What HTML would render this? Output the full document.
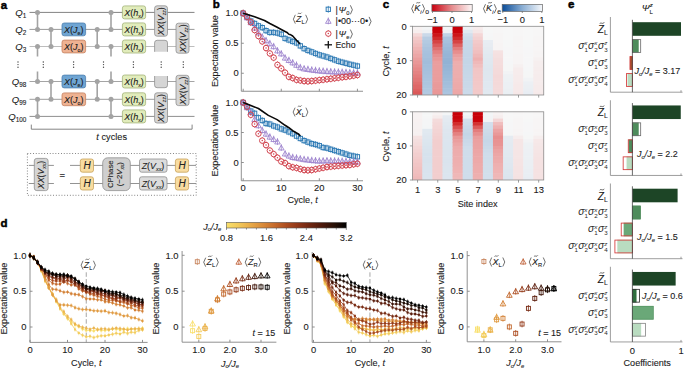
<!DOCTYPE html>
<html><head><meta charset="utf-8"><style>
html,body{margin:0;padding:0;background:#fff;}
svg{display:block;}
text{font-family:"Liberation Sans", sans-serif;stroke:#222;stroke-width:0.1px;}
</style></head><body>
<svg width="685" height="368" viewBox="0 0 685 368">
<rect width="685" height="368" fill="#fff"/>
<text x="0.70" y="8.50" font-size="11.5" text-anchor="start" fill="#000" font-weight="bold" style="stroke:#000;stroke-width:0.45px">a</text>
<text x="212.70" y="7.80" font-size="11.5" text-anchor="start" fill="#000" font-weight="bold" style="stroke:#000;stroke-width:0.45px">b</text>
<text x="382.80" y="7.60" font-size="11.5" text-anchor="start" fill="#000" font-weight="bold" style="stroke:#000;stroke-width:0.45px">c</text>
<text x="0.40" y="227.00" font-size="11.5" text-anchor="start" fill="#000" font-weight="bold" style="stroke:#000;stroke-width:0.45px">d</text>
<text x="568.00" y="7.60" font-size="11.5" text-anchor="start" fill="#000" font-weight="bold" style="stroke:#000;stroke-width:0.45px">e</text>
<line x1="29.50" y1="12.40" x2="194.50" y2="12.40" stroke="#828282" stroke-width="1" />
<line x1="29.50" y1="29.40" x2="194.50" y2="29.40" stroke="#9a9a9a" stroke-width="1" />
<line x1="29.50" y1="46.50" x2="194.50" y2="46.50" stroke="#bdbdbd" stroke-width="1" />
<line x1="29.50" y1="81.50" x2="194.50" y2="81.50" stroke="#a5a5a5" stroke-width="1" />
<line x1="29.50" y1="99.30" x2="194.50" y2="99.30" stroke="#9e9e9e" stroke-width="1" />
<line x1="29.50" y1="116.40" x2="194.50" y2="116.40" stroke="#8e8e8e" stroke-width="1" />
<text x="26.3" y="15.70" font-size="9.6" text-anchor="end" fill="#222"><tspan font-style="italic">Q</tspan><tspan font-size="6.4" dy="2.4">1</tspan></text>
<text x="26.3" y="32.70" font-size="9.6" text-anchor="end" fill="#222"><tspan font-style="italic">Q</tspan><tspan font-size="6.4" dy="2.4">2</tspan></text>
<text x="26.3" y="49.80" font-size="9.6" text-anchor="end" fill="#222"><tspan font-style="italic">Q</tspan><tspan font-size="6.4" dy="2.4">3</tspan></text>
<text x="26.3" y="84.80" font-size="9.6" text-anchor="end" fill="#222"><tspan font-style="italic">Q</tspan><tspan font-size="6.4" dy="2.4">98</tspan></text>
<text x="26.3" y="102.60" font-size="9.6" text-anchor="end" fill="#222"><tspan font-style="italic">Q</tspan><tspan font-size="6.4" dy="2.4">99</tspan></text>
<text x="26.3" y="119.70" font-size="9.6" text-anchor="end" fill="#222"><tspan font-style="italic">Q</tspan><tspan font-size="6.4" dy="2.4">100</tspan></text>
<line x1="37.50" y1="12.40" x2="37.50" y2="29.40" stroke="#a3a3a3" stroke-width="1.6" />
<circle cx="37.50" cy="12.40" r="2.5" fill="#a3a3a3" stroke="none" stroke-width="1"/>
<circle cx="37.50" cy="29.40" r="2.5" fill="#a3a3a3" stroke="none" stroke-width="1"/>
<line x1="37.50" y1="46.50" x2="37.50" y2="56.50" stroke="#a3a3a3" stroke-width="1.6" />
<circle cx="37.50" cy="46.50" r="2.5" fill="#a3a3a3" stroke="none" stroke-width="1"/>
<line x1="37.50" y1="81.50" x2="37.50" y2="71.50" stroke="#a3a3a3" stroke-width="1.6" />
<circle cx="37.50" cy="81.50" r="2.5" fill="#a3a3a3" stroke="none" stroke-width="1"/>
<line x1="37.50" y1="99.30" x2="37.50" y2="116.40" stroke="#a3a3a3" stroke-width="1.6" />
<circle cx="37.50" cy="99.30" r="2.5" fill="#a3a3a3" stroke="none" stroke-width="1"/>
<circle cx="37.50" cy="116.40" r="2.5" fill="#a3a3a3" stroke="none" stroke-width="1"/>
<line x1="111.00" y1="12.40" x2="111.00" y2="29.40" stroke="#a3a3a3" stroke-width="1.6" />
<circle cx="111.00" cy="12.40" r="2.5" fill="#a3a3a3" stroke="none" stroke-width="1"/>
<circle cx="111.00" cy="29.40" r="2.5" fill="#a3a3a3" stroke="none" stroke-width="1"/>
<line x1="111.00" y1="46.50" x2="111.00" y2="56.50" stroke="#a3a3a3" stroke-width="1.6" />
<circle cx="111.00" cy="46.50" r="2.5" fill="#a3a3a3" stroke="none" stroke-width="1"/>
<line x1="111.00" y1="81.50" x2="111.00" y2="71.50" stroke="#a3a3a3" stroke-width="1.6" />
<circle cx="111.00" cy="81.50" r="2.5" fill="#a3a3a3" stroke="none" stroke-width="1"/>
<line x1="111.00" y1="99.30" x2="111.00" y2="116.40" stroke="#a3a3a3" stroke-width="1.6" />
<circle cx="111.00" cy="99.30" r="2.5" fill="#a3a3a3" stroke="none" stroke-width="1"/>
<circle cx="111.00" cy="116.40" r="2.5" fill="#a3a3a3" stroke="none" stroke-width="1"/>
<line x1="51.00" y1="29.40" x2="51.00" y2="46.50" stroke="#a3a3a3" stroke-width="1.6" />
<circle cx="51.00" cy="29.40" r="2.5" fill="#a3a3a3" stroke="none" stroke-width="1"/>
<circle cx="51.00" cy="46.50" r="2.5" fill="#a3a3a3" stroke="none" stroke-width="1"/>
<line x1="51.00" y1="81.50" x2="51.00" y2="99.30" stroke="#a3a3a3" stroke-width="1.6" />
<circle cx="51.00" cy="81.50" r="2.5" fill="#a3a3a3" stroke="none" stroke-width="1"/>
<circle cx="51.00" cy="99.30" r="2.5" fill="#a3a3a3" stroke="none" stroke-width="1"/>
<line x1="97.20" y1="29.40" x2="97.20" y2="46.50" stroke="#a3a3a3" stroke-width="1.6" />
<circle cx="97.20" cy="29.40" r="2.5" fill="#a3a3a3" stroke="none" stroke-width="1"/>
<circle cx="97.20" cy="46.50" r="2.5" fill="#a3a3a3" stroke="none" stroke-width="1"/>
<line x1="97.20" y1="81.50" x2="97.20" y2="99.30" stroke="#a3a3a3" stroke-width="1.6" />
<circle cx="97.20" cy="81.50" r="2.5" fill="#a3a3a3" stroke="none" stroke-width="1"/>
<circle cx="97.20" cy="99.30" r="2.5" fill="#a3a3a3" stroke="none" stroke-width="1"/>
<rect x="62.00" y="23.00" width="23.60" height="12.80" fill="#6fa5d3" stroke="#4d7fae" stroke-width="0.8" rx="2.2" />
<text x="73.80" y="32.60" font-size="9.0" text-anchor="middle" fill="#1a1a1a"><tspan font-style="italic">X</tspan>(<tspan font-style="italic">J</tspan><tspan font-size="5.40" dy="2.0">e</tspan><tspan dy="-2.0">)</tspan></text>
<rect x="62.00" y="40.10" width="23.60" height="12.80" fill="#eeb292" stroke="#c5805f" stroke-width="0.8" rx="2.2" />
<text x="73.80" y="49.70" font-size="9.0" text-anchor="middle" fill="#1a1a1a"><tspan font-style="italic">X</tspan>(<tspan font-style="italic">J</tspan><tspan font-size="5.40" dy="2.0">o</tspan><tspan dy="-2.0">)</tspan></text>
<rect x="62.00" y="75.10" width="23.60" height="12.80" fill="#6fa5d3" stroke="#4d7fae" stroke-width="0.8" rx="2.2" />
<text x="73.80" y="84.70" font-size="9.0" text-anchor="middle" fill="#1a1a1a"><tspan font-style="italic">X</tspan>(<tspan font-style="italic">J</tspan><tspan font-size="5.40" dy="2.0">e</tspan><tspan dy="-2.0">)</tspan></text>
<rect x="62.00" y="92.90" width="23.60" height="12.80" fill="#eeb292" stroke="#c5805f" stroke-width="0.8" rx="2.2" />
<text x="73.80" y="102.50" font-size="9.0" text-anchor="middle" fill="#1a1a1a"><tspan font-style="italic">X</tspan>(<tspan font-style="italic">J</tspan><tspan font-size="5.40" dy="2.0">o</tspan><tspan dy="-2.0">)</tspan></text>
<rect x="122.40" y="5.90" width="23.20" height="13.00" fill="#e1ecbb" stroke="#a3b47a" stroke-width="0.8" rx="2.2" />
<text x="134.00" y="15.60" font-size="9.0" text-anchor="middle" fill="#1a1a1a"><tspan font-style="italic">X</tspan>(<tspan font-style="italic">h</tspan><tspan font-size="5.40" dy="2.0">x</tspan><tspan dy="-2.0">)</tspan></text>
<rect x="122.40" y="22.90" width="23.20" height="13.00" fill="#e1ecbb" stroke="#a3b47a" stroke-width="0.8" rx="2.2" />
<text x="134.00" y="32.60" font-size="9.0" text-anchor="middle" fill="#1a1a1a"><tspan font-style="italic">X</tspan>(<tspan font-style="italic">h</tspan><tspan font-size="5.40" dy="2.0">x</tspan><tspan dy="-2.0">)</tspan></text>
<rect x="122.40" y="40.00" width="23.20" height="13.00" fill="#e1ecbb" stroke="#a3b47a" stroke-width="0.8" rx="2.2" />
<text x="134.00" y="49.70" font-size="9.0" text-anchor="middle" fill="#1a1a1a"><tspan font-style="italic">X</tspan>(<tspan font-style="italic">h</tspan><tspan font-size="5.40" dy="2.0">x</tspan><tspan dy="-2.0">)</tspan></text>
<rect x="122.40" y="75.00" width="23.20" height="13.00" fill="#e1ecbb" stroke="#a3b47a" stroke-width="0.8" rx="2.2" />
<text x="134.00" y="84.70" font-size="9.0" text-anchor="middle" fill="#1a1a1a"><tspan font-style="italic">X</tspan>(<tspan font-style="italic">h</tspan><tspan font-size="5.40" dy="2.0">x</tspan><tspan dy="-2.0">)</tspan></text>
<rect x="122.40" y="92.80" width="23.20" height="13.00" fill="#e1ecbb" stroke="#a3b47a" stroke-width="0.8" rx="2.2" />
<text x="134.00" y="102.50" font-size="9.0" text-anchor="middle" fill="#1a1a1a"><tspan font-style="italic">X</tspan>(<tspan font-style="italic">h</tspan><tspan font-size="5.40" dy="2.0">x</tspan><tspan dy="-2.0">)</tspan></text>
<rect x="122.40" y="109.90" width="23.20" height="13.00" fill="#e1ecbb" stroke="#a3b47a" stroke-width="0.8" rx="2.2" />
<text x="134.00" y="119.60" font-size="9.0" text-anchor="middle" fill="#1a1a1a"><tspan font-style="italic">X</tspan>(<tspan font-style="italic">h</tspan><tspan font-size="5.40" dy="2.0">x</tspan><tspan dy="-2.0">)</tspan></text>
<rect x="154.60" y="5.80" width="12.90" height="30.40" fill="#d5d5d5" stroke="#8f8f8f" stroke-width="0.8" rx="2.5" />
<text transform="translate(164.05,21.30) rotate(-90)" font-size="8.6" text-anchor="middle" fill="#1a1a1a"><tspan font-style="italic">XX</tspan>(<tspan font-style="italic">V</tspan><tspan font-size="5.16" dy="2.0" font-style="italic">zz</tspan><tspan dy="-2.0">)</tspan></text>
<rect x="154.60" y="92.80" width="12.90" height="30.20" fill="#d5d5d5" stroke="#8f8f8f" stroke-width="0.8" rx="2.5" />
<text transform="translate(164.05,108.20) rotate(-90)" font-size="8.6" text-anchor="middle" fill="#1a1a1a"><tspan font-style="italic">XX</tspan>(<tspan font-style="italic">V</tspan><tspan font-size="5.16" dy="2.0" font-style="italic">zz</tspan><tspan dy="-2.0">)</tspan></text>
<rect x="176.00" y="23.20" width="13.00" height="30.00" fill="#d5d5d5" stroke="#8f8f8f" stroke-width="0.8" rx="2.5" />
<text transform="translate(185.50,38.50) rotate(-90)" font-size="8.6" text-anchor="middle" fill="#1a1a1a"><tspan font-style="italic">XX</tspan>(<tspan font-style="italic">V</tspan><tspan font-size="5.16" dy="2.0" font-style="italic">zz</tspan><tspan dy="-2.0">)</tspan></text>
<rect x="176.00" y="75.30" width="13.00" height="30.30" fill="#d5d5d5" stroke="#8f8f8f" stroke-width="0.8" rx="2.5" />
<text transform="translate(185.50,90.75) rotate(-90)" font-size="8.6" text-anchor="middle" fill="#1a1a1a"><tspan font-style="italic">XX</tspan>(<tspan font-style="italic">V</tspan><tspan font-size="5.16" dy="2.0" font-style="italic">zz</tspan><tspan dy="-2.0">)</tspan></text>
<path d="M154.6,51.8 L154.6,42.8 Q154.6,40.3 157.1,40.3 L165,40.3 Q167.5,40.3 167.5,42.8 L167.5,51.8 Z" stroke="none" fill="#d5d5d5" stroke-width="1" />
<path d="M154.6,51.8 L154.6,42.8 Q154.6,40.3 157.1,40.3 L165,40.3 Q167.5,40.3 167.5,42.8 L167.5,51.8" stroke="#8f8f8f" fill="none" stroke-width="0.8" />
<path d="M154.6,76.0 L154.6,85.2 Q154.6,87.7 157.1,87.7 L165,87.7 Q167.5,87.7 167.5,85.2 L167.5,76.0 Z" stroke="none" fill="#d5d5d5" stroke-width="1" />
<path d="M154.6,76.0 L154.6,85.2 Q154.6,87.7 157.1,87.7 L165,87.7 Q167.5,87.7 167.5,85.2 L167.5,76.0" stroke="#8f8f8f" fill="none" stroke-width="0.8" />
<circle cx="18.00" cy="62.00" r="0.7" fill="#444" stroke="none" stroke-width="1"/>
<circle cx="18.00" cy="64.60" r="0.7" fill="#444" stroke="none" stroke-width="1"/>
<circle cx="18.00" cy="67.20" r="0.7" fill="#444" stroke="none" stroke-width="1"/>
<circle cx="43.30" cy="62.00" r="0.7" fill="#444" stroke="none" stroke-width="1"/>
<circle cx="43.30" cy="64.60" r="0.7" fill="#444" stroke="none" stroke-width="1"/>
<circle cx="43.30" cy="67.20" r="0.7" fill="#444" stroke="none" stroke-width="1"/>
<circle cx="73.60" cy="62.00" r="0.7" fill="#444" stroke="none" stroke-width="1"/>
<circle cx="73.60" cy="64.60" r="0.7" fill="#444" stroke="none" stroke-width="1"/>
<circle cx="73.60" cy="67.20" r="0.7" fill="#444" stroke="none" stroke-width="1"/>
<circle cx="103.50" cy="62.00" r="0.7" fill="#444" stroke="none" stroke-width="1"/>
<circle cx="103.50" cy="64.60" r="0.7" fill="#444" stroke="none" stroke-width="1"/>
<circle cx="103.50" cy="67.20" r="0.7" fill="#444" stroke="none" stroke-width="1"/>
<circle cx="133.40" cy="62.00" r="0.7" fill="#444" stroke="none" stroke-width="1"/>
<circle cx="133.40" cy="64.60" r="0.7" fill="#444" stroke="none" stroke-width="1"/>
<circle cx="133.40" cy="67.20" r="0.7" fill="#444" stroke="none" stroke-width="1"/>
<circle cx="161.20" cy="62.00" r="0.7" fill="#444" stroke="none" stroke-width="1"/>
<circle cx="161.20" cy="64.60" r="0.7" fill="#444" stroke="none" stroke-width="1"/>
<circle cx="161.20" cy="67.20" r="0.7" fill="#444" stroke="none" stroke-width="1"/>
<circle cx="183.30" cy="62.00" r="0.7" fill="#444" stroke="none" stroke-width="1"/>
<circle cx="183.30" cy="64.60" r="0.7" fill="#444" stroke="none" stroke-width="1"/>
<circle cx="183.30" cy="67.20" r="0.7" fill="#444" stroke="none" stroke-width="1"/>
<path d="M31.3,124.6 L31.3,129.2 L192.1,129.2 L192.1,124.6" stroke="#777" fill="none" stroke-width="0.9" />
<text x="111.7" y="140.2" font-size="9.2" text-anchor="middle" fill="#222"><tspan font-style="italic">t</tspan> cycles</text>
<rect x="27.40" y="153.50" width="168.80" height="41.80" fill="none" stroke="#6a6a6a" stroke-width="0.9" rx="0" stroke-dasharray="0.9,1.9"/>
<line x1="28.80" y1="165.40" x2="53.90" y2="165.40" stroke="#777" stroke-width="0.8" />
<line x1="70.00" y1="165.40" x2="196.00" y2="165.40" stroke="#777" stroke-width="0.8" />
<line x1="28.80" y1="183.50" x2="53.90" y2="183.50" stroke="#777" stroke-width="0.8" />
<line x1="70.00" y1="183.50" x2="196.00" y2="183.50" stroke="#777" stroke-width="0.8" />
<rect x="34.30" y="158.40" width="13.80" height="32.20" fill="#d5d5d5" stroke="#8f8f8f" stroke-width="0.8" rx="2.5" />
<text transform="translate(44.20,174.80) rotate(-90)" font-size="8.6" text-anchor="middle" fill="#1a1a1a"><tspan font-style="italic">XX</tspan>(<tspan font-style="italic">V</tspan><tspan font-size="5.16" dy="2.0" font-style="italic">xx</tspan><tspan dy="-2.0">)</tspan></text>
<text x="62.20" y="177.60" font-size="9.5" text-anchor="middle" fill="#222" >=</text>
<rect x="80.30" y="159.00" width="13.20" height="13.20" fill="#f8dca0" stroke="#c8a25a" stroke-width="0.8" rx="2.2" />
<text x="87.10" y="169.30" font-size="10" text-anchor="middle" fill="#222" font-style="italic" >H</text>
<rect x="80.30" y="176.80" width="13.20" height="13.20" fill="#f8dca0" stroke="#c8a25a" stroke-width="0.8" rx="2.2" />
<text x="87.10" y="187.10" font-size="10" text-anchor="middle" fill="#222" font-style="italic" >H</text>
<rect x="175.40" y="159.00" width="13.20" height="13.20" fill="#f8dca0" stroke="#c8a25a" stroke-width="0.8" rx="2.2" />
<text x="182.20" y="169.30" font-size="10" text-anchor="middle" fill="#222" font-style="italic" >H</text>
<rect x="175.40" y="176.80" width="13.20" height="13.20" fill="#f8dca0" stroke="#c8a25a" stroke-width="0.8" rx="2.2" />
<text x="182.20" y="187.10" font-size="10" text-anchor="middle" fill="#222" font-style="italic" >H</text>
<rect x="102.70" y="157.80" width="27.60" height="32.80" fill="#cfcfcf" stroke="#8f8f8f" stroke-width="0.8" rx="5" />
<text transform="translate(112.8,174.2) rotate(-90)" font-size="7.8" text-anchor="middle" fill="#222">CPhase</text>
<text transform="translate(122.3,174.2) rotate(-90)" font-size="7.8" text-anchor="middle" fill="#222">(−2<tspan font-style="italic">V</tspan><tspan font-size="4.8" dy="1.6" font-style="italic">xx</tspan><tspan dy="-1.6">)</tspan></text>
<rect x="139.50" y="159.00" width="27.50" height="13.20" fill="#dcdcdc" stroke="#8f8f8f" stroke-width="0.8" rx="2.2" />
<text x="153.0" y="168.70" font-size="8.9" text-anchor="middle" fill="#1a1a1a"><tspan font-style="italic">Z</tspan>(<tspan font-style="italic">V</tspan><tspan font-size="5.4" dy="2.0" font-style="italic">xx</tspan><tspan dy="-2.0">)</tspan></text>
<rect x="139.50" y="176.80" width="27.50" height="13.20" fill="#dcdcdc" stroke="#8f8f8f" stroke-width="0.8" rx="2.2" />
<text x="153.0" y="186.50" font-size="8.9" text-anchor="middle" fill="#1a1a1a"><tspan font-style="italic">Z</tspan>(<tspan font-style="italic">V</tspan><tspan font-size="5.4" dy="2.0" font-style="italic">xx</tspan><tspan dy="-2.0">)</tspan></text>
<line x1="241.30" y1="10.00" x2="241.30" y2="91.25" stroke="#858585" stroke-width="0.9" />
<line x1="241.30" y1="91.25" x2="363.00" y2="91.25" stroke="#858585" stroke-width="0.9" />
<line x1="241.30" y1="73.25" x2="243.80" y2="73.25" stroke="#858585" stroke-width="0.9" />
<text x="238.60" y="76.45" font-size="9.4" text-anchor="end" fill="#1a1a1a" >0</text>
<line x1="241.30" y1="43.25" x2="243.80" y2="43.25" stroke="#858585" stroke-width="0.9" />
<text x="238.60" y="46.45" font-size="9.4" text-anchor="end" fill="#1a1a1a" >0.5</text>
<line x1="241.30" y1="13.25" x2="243.80" y2="13.25" stroke="#858585" stroke-width="0.9" />
<text x="238.60" y="16.45" font-size="9.4" text-anchor="end" fill="#1a1a1a" >1.0</text>
<line x1="243.20" y1="91.25" x2="243.20" y2="88.75" stroke="#858585" stroke-width="0.9" />
<line x1="281.27" y1="91.25" x2="281.27" y2="88.75" stroke="#858585" stroke-width="0.9" />
<line x1="319.34" y1="91.25" x2="319.34" y2="88.75" stroke="#858585" stroke-width="0.9" />
<line x1="357.41" y1="91.25" x2="357.41" y2="88.75" stroke="#858585" stroke-width="0.9" />
<line x1="357.41" y1="62.65" x2="357.41" y2="69.45" stroke="#2f7bb5" stroke-width="0.8" />
<rect x="355.26" y="63.90" width="4.30" height="4.30" fill="none" stroke="#2f7bb5" stroke-width="1.0" rx="0" />
<line x1="353.60" y1="61.75" x2="353.60" y2="68.55" stroke="#2f7bb5" stroke-width="0.8" />
<rect x="351.45" y="63.00" width="4.30" height="4.30" fill="none" stroke="#2f7bb5" stroke-width="1.0" rx="0" />
<line x1="349.80" y1="60.85" x2="349.80" y2="67.65" stroke="#2f7bb5" stroke-width="0.8" />
<rect x="347.65" y="62.10" width="4.30" height="4.30" fill="none" stroke="#2f7bb5" stroke-width="1.0" rx="0" />
<line x1="345.99" y1="59.85" x2="345.99" y2="66.65" stroke="#2f7bb5" stroke-width="0.8" />
<rect x="343.84" y="61.10" width="4.30" height="4.30" fill="none" stroke="#2f7bb5" stroke-width="1.0" rx="0" />
<line x1="342.18" y1="58.85" x2="342.18" y2="65.65" stroke="#2f7bb5" stroke-width="0.8" />
<rect x="340.03" y="60.10" width="4.30" height="4.30" fill="none" stroke="#2f7bb5" stroke-width="1.0" rx="0" />
<line x1="338.38" y1="57.85" x2="338.38" y2="64.65" stroke="#2f7bb5" stroke-width="0.8" />
<rect x="336.23" y="59.10" width="4.30" height="4.30" fill="none" stroke="#2f7bb5" stroke-width="1.0" rx="0" />
<line x1="334.57" y1="56.45" x2="334.57" y2="63.25" stroke="#2f7bb5" stroke-width="0.8" />
<rect x="332.42" y="57.70" width="4.30" height="4.30" fill="none" stroke="#2f7bb5" stroke-width="1.0" rx="0" />
<line x1="330.76" y1="55.05" x2="330.76" y2="61.85" stroke="#2f7bb5" stroke-width="0.8" />
<rect x="328.61" y="56.30" width="4.30" height="4.30" fill="none" stroke="#2f7bb5" stroke-width="1.0" rx="0" />
<line x1="326.95" y1="53.65" x2="326.95" y2="60.45" stroke="#2f7bb5" stroke-width="0.8" />
<rect x="324.80" y="54.90" width="4.30" height="4.30" fill="none" stroke="#2f7bb5" stroke-width="1.0" rx="0" />
<line x1="323.15" y1="52.57" x2="323.15" y2="59.37" stroke="#2f7bb5" stroke-width="0.8" />
<rect x="321.00" y="53.82" width="4.30" height="4.30" fill="none" stroke="#2f7bb5" stroke-width="1.0" rx="0" />
<line x1="319.34" y1="51.49" x2="319.34" y2="58.29" stroke="#2f7bb5" stroke-width="0.8" />
<rect x="317.19" y="52.74" width="4.30" height="4.30" fill="none" stroke="#2f7bb5" stroke-width="1.0" rx="0" />
<line x1="315.53" y1="50.05" x2="315.53" y2="56.85" stroke="#2f7bb5" stroke-width="0.8" />
<rect x="313.38" y="51.30" width="4.30" height="4.30" fill="none" stroke="#2f7bb5" stroke-width="1.0" rx="0" />
<line x1="311.73" y1="48.49" x2="311.73" y2="55.29" stroke="#2f7bb5" stroke-width="0.8" />
<rect x="309.58" y="49.74" width="4.30" height="4.30" fill="none" stroke="#2f7bb5" stroke-width="1.0" rx="0" />
<line x1="307.92" y1="47.05" x2="307.92" y2="53.85" stroke="#2f7bb5" stroke-width="0.8" />
<rect x="305.77" y="48.30" width="4.30" height="4.30" fill="none" stroke="#2f7bb5" stroke-width="1.0" rx="0" />
<line x1="304.11" y1="45.25" x2="304.11" y2="52.05" stroke="#2f7bb5" stroke-width="0.8" />
<rect x="301.96" y="46.50" width="4.30" height="4.30" fill="none" stroke="#2f7bb5" stroke-width="1.0" rx="0" />
<line x1="300.31" y1="42.49" x2="300.31" y2="49.29" stroke="#2f7bb5" stroke-width="0.8" />
<rect x="298.16" y="43.74" width="4.30" height="4.30" fill="none" stroke="#2f7bb5" stroke-width="1.0" rx="0" />
<line x1="296.50" y1="39.55" x2="296.50" y2="46.35" stroke="#2f7bb5" stroke-width="0.8" />
<rect x="294.35" y="40.80" width="4.30" height="4.30" fill="none" stroke="#2f7bb5" stroke-width="1.0" rx="0" />
<line x1="292.69" y1="38.05" x2="292.69" y2="44.85" stroke="#2f7bb5" stroke-width="0.8" />
<rect x="290.54" y="39.30" width="4.30" height="4.30" fill="none" stroke="#2f7bb5" stroke-width="1.0" rx="0" />
<line x1="288.88" y1="36.55" x2="288.88" y2="43.35" stroke="#2f7bb5" stroke-width="0.8" />
<rect x="286.73" y="37.80" width="4.30" height="4.30" fill="none" stroke="#2f7bb5" stroke-width="1.0" rx="0" />
<line x1="285.08" y1="35.05" x2="285.08" y2="41.85" stroke="#2f7bb5" stroke-width="0.8" />
<rect x="282.93" y="36.30" width="4.30" height="4.30" fill="none" stroke="#2f7bb5" stroke-width="1.0" rx="0" />
<line x1="281.27" y1="30.85" x2="281.27" y2="37.65" stroke="#2f7bb5" stroke-width="0.8" />
<rect x="279.12" y="32.10" width="4.30" height="4.30" fill="none" stroke="#2f7bb5" stroke-width="1.0" rx="0" />
<line x1="277.46" y1="29.65" x2="277.46" y2="36.45" stroke="#2f7bb5" stroke-width="0.8" />
<rect x="275.31" y="30.90" width="4.30" height="4.30" fill="none" stroke="#2f7bb5" stroke-width="1.0" rx="0" />
<line x1="273.66" y1="29.05" x2="273.66" y2="35.85" stroke="#2f7bb5" stroke-width="0.8" />
<rect x="271.51" y="30.30" width="4.30" height="4.30" fill="none" stroke="#2f7bb5" stroke-width="1.0" rx="0" />
<line x1="269.85" y1="29.05" x2="269.85" y2="35.85" stroke="#2f7bb5" stroke-width="0.8" />
<rect x="267.70" y="30.30" width="4.30" height="4.30" fill="none" stroke="#2f7bb5" stroke-width="1.0" rx="0" />
<line x1="266.04" y1="27.25" x2="266.04" y2="34.05" stroke="#2f7bb5" stroke-width="0.8" />
<rect x="263.89" y="28.50" width="4.30" height="4.30" fill="none" stroke="#2f7bb5" stroke-width="1.0" rx="0" />
<line x1="262.24" y1="24.25" x2="262.24" y2="31.05" stroke="#2f7bb5" stroke-width="0.8" />
<rect x="260.09" y="25.50" width="4.30" height="4.30" fill="none" stroke="#2f7bb5" stroke-width="1.0" rx="0" />
<line x1="258.43" y1="22.45" x2="258.43" y2="29.25" stroke="#2f7bb5" stroke-width="0.8" />
<rect x="256.28" y="23.70" width="4.30" height="4.30" fill="none" stroke="#2f7bb5" stroke-width="1.0" rx="0" />
<line x1="254.62" y1="20.05" x2="254.62" y2="26.85" stroke="#2f7bb5" stroke-width="0.8" />
<rect x="252.47" y="21.30" width="4.30" height="4.30" fill="none" stroke="#2f7bb5" stroke-width="1.0" rx="0" />
<line x1="250.81" y1="17.65" x2="250.81" y2="24.45" stroke="#2f7bb5" stroke-width="0.8" />
<rect x="248.66" y="18.90" width="4.30" height="4.30" fill="none" stroke="#2f7bb5" stroke-width="1.0" rx="0" />
<line x1="247.01" y1="13.45" x2="247.01" y2="20.25" stroke="#2f7bb5" stroke-width="0.8" />
<rect x="244.86" y="14.70" width="4.30" height="4.30" fill="none" stroke="#2f7bb5" stroke-width="1.0" rx="0" />
<line x1="243.20" y1="9.85" x2="243.20" y2="16.65" stroke="#2f7bb5" stroke-width="0.8" />
<rect x="241.05" y="11.10" width="4.30" height="4.30" fill="none" stroke="#2f7bb5" stroke-width="1.0" rx="0" />
<line x1="357.41" y1="69.25" x2="357.41" y2="76.05" stroke="#9b80cc" stroke-width="0.8" />
<path d="M354.61,75.09 L360.21,75.09 L357.41,70.21 Z" stroke="#9b80cc" fill="none" stroke-width="0.85" />
<line x1="353.60" y1="69.07" x2="353.60" y2="75.87" stroke="#9b80cc" stroke-width="0.8" />
<path d="M350.80,74.91 L356.40,74.91 L353.60,70.03 Z" stroke="#9b80cc" fill="none" stroke-width="0.85" />
<line x1="349.80" y1="68.89" x2="349.80" y2="75.69" stroke="#9b80cc" stroke-width="0.8" />
<path d="M347.00,74.73 L352.60,74.73 L349.80,69.85 Z" stroke="#9b80cc" fill="none" stroke-width="0.85" />
<line x1="345.99" y1="68.71" x2="345.99" y2="75.51" stroke="#9b80cc" stroke-width="0.8" />
<path d="M343.19,74.55 L348.79,74.55 L345.99,69.67 Z" stroke="#9b80cc" fill="none" stroke-width="0.85" />
<line x1="342.18" y1="68.53" x2="342.18" y2="75.33" stroke="#9b80cc" stroke-width="0.8" />
<path d="M339.38,74.37 L344.98,74.37 L342.18,69.49 Z" stroke="#9b80cc" fill="none" stroke-width="0.85" />
<line x1="338.38" y1="68.35" x2="338.38" y2="75.15" stroke="#9b80cc" stroke-width="0.8" />
<path d="M335.57,74.19 L341.18,74.19 L338.38,69.31 Z" stroke="#9b80cc" fill="none" stroke-width="0.85" />
<line x1="334.57" y1="68.15" x2="334.57" y2="74.95" stroke="#9b80cc" stroke-width="0.8" />
<path d="M331.77,73.99 L337.37,73.99 L334.57,69.11 Z" stroke="#9b80cc" fill="none" stroke-width="0.85" />
<line x1="330.76" y1="67.95" x2="330.76" y2="74.75" stroke="#9b80cc" stroke-width="0.8" />
<path d="M327.96,73.79 L333.56,73.79 L330.76,68.91 Z" stroke="#9b80cc" fill="none" stroke-width="0.85" />
<line x1="326.95" y1="67.75" x2="326.95" y2="74.55" stroke="#9b80cc" stroke-width="0.8" />
<path d="M324.15,73.59 L329.75,73.59 L326.95,68.71 Z" stroke="#9b80cc" fill="none" stroke-width="0.85" />
<line x1="323.15" y1="67.45" x2="323.15" y2="74.25" stroke="#9b80cc" stroke-width="0.8" />
<path d="M320.35,73.29 L325.95,73.29 L323.15,68.41 Z" stroke="#9b80cc" fill="none" stroke-width="0.85" />
<line x1="319.34" y1="67.15" x2="319.34" y2="73.95" stroke="#9b80cc" stroke-width="0.8" />
<path d="M316.54,72.99 L322.14,72.99 L319.34,68.11 Z" stroke="#9b80cc" fill="none" stroke-width="0.85" />
<line x1="315.53" y1="66.70" x2="315.53" y2="73.50" stroke="#9b80cc" stroke-width="0.8" />
<path d="M312.73,72.54 L318.33,72.54 L315.53,67.66 Z" stroke="#9b80cc" fill="none" stroke-width="0.85" />
<line x1="311.73" y1="66.25" x2="311.73" y2="73.05" stroke="#9b80cc" stroke-width="0.8" />
<path d="M308.93,72.09 L314.53,72.09 L311.73,67.21 Z" stroke="#9b80cc" fill="none" stroke-width="0.85" />
<line x1="307.92" y1="65.65" x2="307.92" y2="72.45" stroke="#9b80cc" stroke-width="0.8" />
<path d="M305.12,71.49 L310.72,71.49 L307.92,66.61 Z" stroke="#9b80cc" fill="none" stroke-width="0.85" />
<line x1="304.11" y1="65.05" x2="304.11" y2="71.85" stroke="#9b80cc" stroke-width="0.8" />
<path d="M301.31,70.89 L306.91,70.89 L304.11,66.01 Z" stroke="#9b80cc" fill="none" stroke-width="0.85" />
<line x1="300.31" y1="63.85" x2="300.31" y2="70.65" stroke="#9b80cc" stroke-width="0.8" />
<path d="M297.50,69.69 L303.11,69.69 L300.31,64.81 Z" stroke="#9b80cc" fill="none" stroke-width="0.85" />
<line x1="296.50" y1="61.45" x2="296.50" y2="68.25" stroke="#9b80cc" stroke-width="0.8" />
<path d="M293.70,67.29 L299.30,67.29 L296.50,62.41 Z" stroke="#9b80cc" fill="none" stroke-width="0.85" />
<line x1="292.69" y1="59.05" x2="292.69" y2="65.85" stroke="#9b80cc" stroke-width="0.8" />
<path d="M289.89,64.89 L295.49,64.89 L292.69,60.01 Z" stroke="#9b80cc" fill="none" stroke-width="0.85" />
<line x1="288.88" y1="56.65" x2="288.88" y2="63.45" stroke="#9b80cc" stroke-width="0.8" />
<path d="M286.08,62.49 L291.68,62.49 L288.88,57.61 Z" stroke="#9b80cc" fill="none" stroke-width="0.85" />
<line x1="285.08" y1="54.25" x2="285.08" y2="61.05" stroke="#9b80cc" stroke-width="0.8" />
<path d="M282.28,60.09 L287.88,60.09 L285.08,55.21 Z" stroke="#9b80cc" fill="none" stroke-width="0.85" />
<line x1="281.27" y1="50.05" x2="281.27" y2="56.85" stroke="#9b80cc" stroke-width="0.8" />
<path d="M278.47,55.89 L284.07,55.89 L281.27,51.01 Z" stroke="#9b80cc" fill="none" stroke-width="0.85" />
<line x1="277.46" y1="47.05" x2="277.46" y2="53.85" stroke="#9b80cc" stroke-width="0.8" />
<path d="M274.66,52.89 L280.26,52.89 L277.46,48.01 Z" stroke="#9b80cc" fill="none" stroke-width="0.85" />
<line x1="273.66" y1="42.85" x2="273.66" y2="49.65" stroke="#9b80cc" stroke-width="0.8" />
<path d="M270.86,48.69 L276.46,48.69 L273.66,43.81 Z" stroke="#9b80cc" fill="none" stroke-width="0.85" />
<line x1="269.85" y1="39.85" x2="269.85" y2="46.65" stroke="#9b80cc" stroke-width="0.8" />
<path d="M267.05,45.69 L272.65,45.69 L269.85,40.81 Z" stroke="#9b80cc" fill="none" stroke-width="0.85" />
<line x1="266.04" y1="36.85" x2="266.04" y2="43.65" stroke="#9b80cc" stroke-width="0.8" />
<path d="M263.24,42.69 L268.84,42.69 L266.04,37.81 Z" stroke="#9b80cc" fill="none" stroke-width="0.85" />
<line x1="262.24" y1="33.25" x2="262.24" y2="40.05" stroke="#9b80cc" stroke-width="0.8" />
<path d="M259.44,39.09 L265.04,39.09 L262.24,34.21 Z" stroke="#9b80cc" fill="none" stroke-width="0.85" />
<line x1="258.43" y1="29.05" x2="258.43" y2="35.85" stroke="#9b80cc" stroke-width="0.8" />
<path d="M255.63,34.89 L261.23,34.89 L258.43,30.01 Z" stroke="#9b80cc" fill="none" stroke-width="0.85" />
<line x1="254.62" y1="24.25" x2="254.62" y2="31.05" stroke="#9b80cc" stroke-width="0.8" />
<path d="M251.82,30.09 L257.42,30.09 L254.62,25.21 Z" stroke="#9b80cc" fill="none" stroke-width="0.85" />
<line x1="250.81" y1="18.85" x2="250.81" y2="25.65" stroke="#9b80cc" stroke-width="0.8" />
<path d="M248.01,24.69 L253.61,24.69 L250.81,19.81 Z" stroke="#9b80cc" fill="none" stroke-width="0.85" />
<line x1="247.01" y1="14.05" x2="247.01" y2="20.85" stroke="#9b80cc" stroke-width="0.8" />
<path d="M244.21,19.89 L249.81,19.89 L247.01,15.01 Z" stroke="#9b80cc" fill="none" stroke-width="0.85" />
<line x1="243.20" y1="9.85" x2="243.20" y2="16.65" stroke="#9b80cc" stroke-width="0.8" />
<path d="M240.40,15.69 L246.00,15.69 L243.20,10.81 Z" stroke="#9b80cc" fill="none" stroke-width="0.85" />
<line x1="357.41" y1="71.45" x2="357.41" y2="72.30" stroke="#d2444f" stroke-width="0.8" />
<line x1="357.41" y1="77.80" x2="357.41" y2="78.65" stroke="#d2444f" stroke-width="0.8" />
<circle cx="357.41" cy="75.05" r="2.75" fill="none" stroke="#d2444f" stroke-width="1.0"/>
<circle cx="357.41" cy="75.05" r="0.75" fill="#d2444f" stroke="none" stroke-width="1"/>
<line x1="353.60" y1="72.05" x2="353.60" y2="72.90" stroke="#d2444f" stroke-width="0.8" />
<line x1="353.60" y1="78.40" x2="353.60" y2="79.25" stroke="#d2444f" stroke-width="0.8" />
<circle cx="353.60" cy="75.65" r="2.75" fill="none" stroke="#d2444f" stroke-width="1.0"/>
<circle cx="353.60" cy="75.65" r="0.75" fill="#d2444f" stroke="none" stroke-width="1"/>
<line x1="349.80" y1="72.65" x2="349.80" y2="73.50" stroke="#d2444f" stroke-width="0.8" />
<line x1="349.80" y1="79.00" x2="349.80" y2="79.85" stroke="#d2444f" stroke-width="0.8" />
<circle cx="349.80" cy="76.25" r="2.75" fill="none" stroke="#d2444f" stroke-width="1.0"/>
<circle cx="349.80" cy="76.25" r="0.75" fill="#d2444f" stroke="none" stroke-width="1"/>
<line x1="345.99" y1="73.15" x2="345.99" y2="74.00" stroke="#d2444f" stroke-width="0.8" />
<line x1="345.99" y1="79.50" x2="345.99" y2="80.35" stroke="#d2444f" stroke-width="0.8" />
<circle cx="345.99" cy="76.75" r="2.75" fill="none" stroke="#d2444f" stroke-width="1.0"/>
<circle cx="345.99" cy="76.75" r="0.75" fill="#d2444f" stroke="none" stroke-width="1"/>
<line x1="342.18" y1="73.65" x2="342.18" y2="74.50" stroke="#d2444f" stroke-width="0.8" />
<line x1="342.18" y1="80.00" x2="342.18" y2="80.85" stroke="#d2444f" stroke-width="0.8" />
<circle cx="342.18" cy="77.25" r="2.75" fill="none" stroke="#d2444f" stroke-width="1.0"/>
<circle cx="342.18" cy="77.25" r="0.75" fill="#d2444f" stroke="none" stroke-width="1"/>
<line x1="338.38" y1="74.15" x2="338.38" y2="75.00" stroke="#d2444f" stroke-width="0.8" />
<line x1="338.38" y1="80.50" x2="338.38" y2="81.35" stroke="#d2444f" stroke-width="0.8" />
<circle cx="338.38" cy="77.75" r="2.75" fill="none" stroke="#d2444f" stroke-width="1.0"/>
<circle cx="338.38" cy="77.75" r="0.75" fill="#d2444f" stroke="none" stroke-width="1"/>
<line x1="334.57" y1="74.65" x2="334.57" y2="75.50" stroke="#d2444f" stroke-width="0.8" />
<line x1="334.57" y1="81.00" x2="334.57" y2="81.85" stroke="#d2444f" stroke-width="0.8" />
<circle cx="334.57" cy="78.25" r="2.75" fill="none" stroke="#d2444f" stroke-width="1.0"/>
<circle cx="334.57" cy="78.25" r="0.75" fill="#d2444f" stroke="none" stroke-width="1"/>
<line x1="330.76" y1="75.15" x2="330.76" y2="76.00" stroke="#d2444f" stroke-width="0.8" />
<line x1="330.76" y1="81.50" x2="330.76" y2="82.35" stroke="#d2444f" stroke-width="0.8" />
<circle cx="330.76" cy="78.75" r="2.75" fill="none" stroke="#d2444f" stroke-width="1.0"/>
<circle cx="330.76" cy="78.75" r="0.75" fill="#d2444f" stroke="none" stroke-width="1"/>
<line x1="326.95" y1="75.65" x2="326.95" y2="76.50" stroke="#d2444f" stroke-width="0.8" />
<line x1="326.95" y1="82.00" x2="326.95" y2="82.85" stroke="#d2444f" stroke-width="0.8" />
<circle cx="326.95" cy="79.25" r="2.75" fill="none" stroke="#d2444f" stroke-width="1.0"/>
<circle cx="326.95" cy="79.25" r="0.75" fill="#d2444f" stroke="none" stroke-width="1"/>
<line x1="323.15" y1="76.10" x2="323.15" y2="76.95" stroke="#d2444f" stroke-width="0.8" />
<line x1="323.15" y1="82.45" x2="323.15" y2="83.30" stroke="#d2444f" stroke-width="0.8" />
<circle cx="323.15" cy="79.70" r="2.75" fill="none" stroke="#d2444f" stroke-width="1.0"/>
<circle cx="323.15" cy="79.70" r="0.75" fill="#d2444f" stroke="none" stroke-width="1"/>
<line x1="319.34" y1="76.55" x2="319.34" y2="77.40" stroke="#d2444f" stroke-width="0.8" />
<line x1="319.34" y1="82.90" x2="319.34" y2="83.75" stroke="#d2444f" stroke-width="0.8" />
<circle cx="319.34" cy="80.15" r="2.75" fill="none" stroke="#d2444f" stroke-width="1.0"/>
<circle cx="319.34" cy="80.15" r="0.75" fill="#d2444f" stroke="none" stroke-width="1"/>
<line x1="315.53" y1="77.00" x2="315.53" y2="77.85" stroke="#d2444f" stroke-width="0.8" />
<line x1="315.53" y1="83.35" x2="315.53" y2="84.20" stroke="#d2444f" stroke-width="0.8" />
<circle cx="315.53" cy="80.60" r="2.75" fill="none" stroke="#d2444f" stroke-width="1.0"/>
<circle cx="315.53" cy="80.60" r="0.75" fill="#d2444f" stroke="none" stroke-width="1"/>
<line x1="311.73" y1="77.45" x2="311.73" y2="78.30" stroke="#d2444f" stroke-width="0.8" />
<line x1="311.73" y1="83.80" x2="311.73" y2="84.65" stroke="#d2444f" stroke-width="0.8" />
<circle cx="311.73" cy="81.05" r="2.75" fill="none" stroke="#d2444f" stroke-width="1.0"/>
<circle cx="311.73" cy="81.05" r="0.75" fill="#d2444f" stroke="none" stroke-width="1"/>
<line x1="307.92" y1="77.75" x2="307.92" y2="78.60" stroke="#d2444f" stroke-width="0.8" />
<line x1="307.92" y1="84.10" x2="307.92" y2="84.95" stroke="#d2444f" stroke-width="0.8" />
<circle cx="307.92" cy="81.35" r="2.75" fill="none" stroke="#d2444f" stroke-width="1.0"/>
<circle cx="307.92" cy="81.35" r="0.75" fill="#d2444f" stroke="none" stroke-width="1"/>
<line x1="304.11" y1="77.45" x2="304.11" y2="78.30" stroke="#d2444f" stroke-width="0.8" />
<line x1="304.11" y1="83.80" x2="304.11" y2="84.65" stroke="#d2444f" stroke-width="0.8" />
<circle cx="304.11" cy="81.05" r="2.75" fill="none" stroke="#d2444f" stroke-width="1.0"/>
<circle cx="304.11" cy="81.05" r="0.75" fill="#d2444f" stroke="none" stroke-width="1"/>
<line x1="300.31" y1="76.85" x2="300.31" y2="77.70" stroke="#d2444f" stroke-width="0.8" />
<line x1="300.31" y1="83.20" x2="300.31" y2="84.05" stroke="#d2444f" stroke-width="0.8" />
<circle cx="300.31" cy="80.45" r="2.75" fill="none" stroke="#d2444f" stroke-width="1.0"/>
<circle cx="300.31" cy="80.45" r="0.75" fill="#d2444f" stroke="none" stroke-width="1"/>
<line x1="296.50" y1="76.25" x2="296.50" y2="77.10" stroke="#d2444f" stroke-width="0.8" />
<line x1="296.50" y1="82.60" x2="296.50" y2="83.45" stroke="#d2444f" stroke-width="0.8" />
<circle cx="296.50" cy="79.85" r="2.75" fill="none" stroke="#d2444f" stroke-width="1.0"/>
<circle cx="296.50" cy="79.85" r="0.75" fill="#d2444f" stroke="none" stroke-width="1"/>
<line x1="292.69" y1="74.45" x2="292.69" y2="75.30" stroke="#d2444f" stroke-width="0.8" />
<line x1="292.69" y1="80.80" x2="292.69" y2="81.65" stroke="#d2444f" stroke-width="0.8" />
<circle cx="292.69" cy="78.05" r="2.75" fill="none" stroke="#d2444f" stroke-width="1.0"/>
<circle cx="292.69" cy="78.05" r="0.75" fill="#d2444f" stroke="none" stroke-width="1"/>
<line x1="288.88" y1="73.25" x2="288.88" y2="74.10" stroke="#d2444f" stroke-width="0.8" />
<line x1="288.88" y1="79.60" x2="288.88" y2="80.45" stroke="#d2444f" stroke-width="0.8" />
<circle cx="288.88" cy="76.85" r="2.75" fill="none" stroke="#d2444f" stroke-width="1.0"/>
<circle cx="288.88" cy="76.85" r="0.75" fill="#d2444f" stroke="none" stroke-width="1"/>
<line x1="285.08" y1="69.05" x2="285.08" y2="69.90" stroke="#d2444f" stroke-width="0.8" />
<line x1="285.08" y1="75.40" x2="285.08" y2="76.25" stroke="#d2444f" stroke-width="0.8" />
<circle cx="285.08" cy="72.65" r="2.75" fill="none" stroke="#d2444f" stroke-width="1.0"/>
<circle cx="285.08" cy="72.65" r="0.75" fill="#d2444f" stroke="none" stroke-width="1"/>
<line x1="281.27" y1="64.85" x2="281.27" y2="65.70" stroke="#d2444f" stroke-width="0.8" />
<line x1="281.27" y1="71.20" x2="281.27" y2="72.05" stroke="#d2444f" stroke-width="0.8" />
<circle cx="281.27" cy="68.45" r="2.75" fill="none" stroke="#d2444f" stroke-width="1.0"/>
<circle cx="281.27" cy="68.45" r="0.75" fill="#d2444f" stroke="none" stroke-width="1"/>
<line x1="277.46" y1="61.25" x2="277.46" y2="62.10" stroke="#d2444f" stroke-width="0.8" />
<line x1="277.46" y1="67.60" x2="277.46" y2="68.45" stroke="#d2444f" stroke-width="0.8" />
<circle cx="277.46" cy="64.85" r="2.75" fill="none" stroke="#d2444f" stroke-width="1.0"/>
<circle cx="277.46" cy="64.85" r="0.75" fill="#d2444f" stroke="none" stroke-width="1"/>
<line x1="273.66" y1="54.05" x2="273.66" y2="54.90" stroke="#d2444f" stroke-width="0.8" />
<line x1="273.66" y1="60.40" x2="273.66" y2="61.25" stroke="#d2444f" stroke-width="0.8" />
<circle cx="273.66" cy="57.65" r="2.75" fill="none" stroke="#d2444f" stroke-width="1.0"/>
<circle cx="273.66" cy="57.65" r="0.75" fill="#d2444f" stroke="none" stroke-width="1"/>
<line x1="269.85" y1="49.85" x2="269.85" y2="50.70" stroke="#d2444f" stroke-width="0.8" />
<line x1="269.85" y1="56.20" x2="269.85" y2="57.05" stroke="#d2444f" stroke-width="0.8" />
<circle cx="269.85" cy="53.45" r="2.75" fill="none" stroke="#d2444f" stroke-width="1.0"/>
<circle cx="269.85" cy="53.45" r="0.75" fill="#d2444f" stroke="none" stroke-width="1"/>
<line x1="266.04" y1="44.45" x2="266.04" y2="45.30" stroke="#d2444f" stroke-width="0.8" />
<line x1="266.04" y1="50.80" x2="266.04" y2="51.65" stroke="#d2444f" stroke-width="0.8" />
<circle cx="266.04" cy="48.05" r="2.75" fill="none" stroke="#d2444f" stroke-width="1.0"/>
<circle cx="266.04" cy="48.05" r="0.75" fill="#d2444f" stroke="none" stroke-width="1"/>
<line x1="262.24" y1="37.85" x2="262.24" y2="38.70" stroke="#d2444f" stroke-width="0.8" />
<line x1="262.24" y1="44.20" x2="262.24" y2="45.05" stroke="#d2444f" stroke-width="0.8" />
<circle cx="262.24" cy="41.45" r="2.75" fill="none" stroke="#d2444f" stroke-width="1.0"/>
<circle cx="262.24" cy="41.45" r="0.75" fill="#d2444f" stroke="none" stroke-width="1"/>
<line x1="258.43" y1="32.45" x2="258.43" y2="33.30" stroke="#d2444f" stroke-width="0.8" />
<line x1="258.43" y1="38.80" x2="258.43" y2="39.65" stroke="#d2444f" stroke-width="0.8" />
<circle cx="258.43" cy="36.05" r="2.75" fill="none" stroke="#d2444f" stroke-width="1.0"/>
<circle cx="258.43" cy="36.05" r="0.75" fill="#d2444f" stroke="none" stroke-width="1"/>
<line x1="254.62" y1="26.45" x2="254.62" y2="27.30" stroke="#d2444f" stroke-width="0.8" />
<line x1="254.62" y1="32.80" x2="254.62" y2="33.65" stroke="#d2444f" stroke-width="0.8" />
<circle cx="254.62" cy="30.05" r="2.75" fill="none" stroke="#d2444f" stroke-width="1.0"/>
<circle cx="254.62" cy="30.05" r="0.75" fill="#d2444f" stroke="none" stroke-width="1"/>
<line x1="250.81" y1="18.65" x2="250.81" y2="19.50" stroke="#d2444f" stroke-width="0.8" />
<line x1="250.81" y1="25.00" x2="250.81" y2="25.85" stroke="#d2444f" stroke-width="0.8" />
<circle cx="250.81" cy="22.25" r="2.75" fill="none" stroke="#d2444f" stroke-width="1.0"/>
<circle cx="250.81" cy="22.25" r="0.75" fill="#d2444f" stroke="none" stroke-width="1"/>
<line x1="247.01" y1="13.25" x2="247.01" y2="14.10" stroke="#d2444f" stroke-width="0.8" />
<line x1="247.01" y1="19.60" x2="247.01" y2="20.45" stroke="#d2444f" stroke-width="0.8" />
<circle cx="247.01" cy="16.85" r="2.75" fill="none" stroke="#d2444f" stroke-width="1.0"/>
<circle cx="247.01" cy="16.85" r="0.75" fill="#d2444f" stroke="none" stroke-width="1"/>
<line x1="243.20" y1="9.65" x2="243.20" y2="10.50" stroke="#d2444f" stroke-width="0.8" />
<line x1="243.20" y1="16.00" x2="243.20" y2="16.85" stroke="#d2444f" stroke-width="0.8" />
<circle cx="243.20" cy="13.25" r="2.75" fill="none" stroke="#d2444f" stroke-width="1.0"/>
<circle cx="243.20" cy="13.25" r="0.75" fill="#d2444f" stroke="none" stroke-width="1"/>
<path d="M243.20,13.25 L248.91,15.05 L254.62,16.85 L264.52,20.45 L269.85,23.45 L276.70,27.05 L281.27,29.45 L286.98,32.45 L288.88,34.25 L290.79,34.85 L292.69,36.05 L296.50,40.25 L299.92,43.85" stroke="#0a0a0a" fill="none" stroke-width="1.6" stroke-linejoin="round"/>
<path d="M295.32,14.81 L293.39,19.21 L295.32,23.61" stroke="#1a1a1a" fill="none" stroke-width="0.6160000000000001" fill="none" stroke-linejoin="miter"/>
<path d="M297.75,13.84 C298.72,12.24 300.65,14.83 301.62,12.61" stroke="#1a1a1a" fill="none" stroke-width="0.5720000000000001" fill="none"/>
<path d="M305.68,14.81 L307.61,19.21 L305.68,23.61" stroke="#1a1a1a" fill="none" stroke-width="0.6160000000000001" fill="none" stroke-linejoin="miter"/>
<text fill="#1a1a1a"><tspan x="296.03" y="21.85" font-size="8.8" font-style="italic">Z</tspan><tspan x="301.58" y="24.14" font-size="5.632000000000001">L</tspan></text>
<text transform="translate(218.00,51.12) rotate(-90)" font-size="9.1" text-anchor="middle" fill="#1a1a1a">Expectation value</text>
<line x1="241.30" y1="99.30" x2="241.30" y2="180.75" stroke="#858585" stroke-width="0.9" />
<line x1="241.30" y1="180.75" x2="363.00" y2="180.75" stroke="#858585" stroke-width="0.9" />
<line x1="241.30" y1="162.50" x2="243.80" y2="162.50" stroke="#858585" stroke-width="0.9" />
<text x="238.60" y="165.70" font-size="9.4" text-anchor="end" fill="#1a1a1a" >0</text>
<line x1="241.30" y1="132.50" x2="243.80" y2="132.50" stroke="#858585" stroke-width="0.9" />
<text x="238.60" y="135.70" font-size="9.4" text-anchor="end" fill="#1a1a1a" >0.5</text>
<line x1="241.30" y1="102.50" x2="243.80" y2="102.50" stroke="#858585" stroke-width="0.9" />
<text x="238.60" y="105.70" font-size="9.4" text-anchor="end" fill="#1a1a1a" >1.0</text>
<line x1="243.20" y1="180.75" x2="243.20" y2="178.25" stroke="#858585" stroke-width="0.9" />
<line x1="281.27" y1="180.75" x2="281.27" y2="178.25" stroke="#858585" stroke-width="0.9" />
<line x1="319.34" y1="180.75" x2="319.34" y2="178.25" stroke="#858585" stroke-width="0.9" />
<line x1="357.41" y1="180.75" x2="357.41" y2="178.25" stroke="#858585" stroke-width="0.9" />
<line x1="357.41" y1="153.40" x2="357.41" y2="160.20" stroke="#2f7bb5" stroke-width="0.8" />
<rect x="355.26" y="154.65" width="4.30" height="4.30" fill="none" stroke="#2f7bb5" stroke-width="1.0" rx="0" />
<line x1="353.60" y1="152.65" x2="353.60" y2="159.45" stroke="#2f7bb5" stroke-width="0.8" />
<rect x="351.45" y="153.90" width="4.30" height="4.30" fill="none" stroke="#2f7bb5" stroke-width="1.0" rx="0" />
<line x1="349.80" y1="151.90" x2="349.80" y2="158.70" stroke="#2f7bb5" stroke-width="0.8" />
<rect x="347.65" y="153.15" width="4.30" height="4.30" fill="none" stroke="#2f7bb5" stroke-width="1.0" rx="0" />
<line x1="345.99" y1="150.70" x2="345.99" y2="157.50" stroke="#2f7bb5" stroke-width="0.8" />
<rect x="343.84" y="151.95" width="4.30" height="4.30" fill="none" stroke="#2f7bb5" stroke-width="1.0" rx="0" />
<line x1="342.18" y1="149.50" x2="342.18" y2="156.30" stroke="#2f7bb5" stroke-width="0.8" />
<rect x="340.03" y="150.75" width="4.30" height="4.30" fill="none" stroke="#2f7bb5" stroke-width="1.0" rx="0" />
<line x1="338.38" y1="148.30" x2="338.38" y2="155.10" stroke="#2f7bb5" stroke-width="0.8" />
<rect x="336.23" y="149.55" width="4.30" height="4.30" fill="none" stroke="#2f7bb5" stroke-width="1.0" rx="0" />
<line x1="334.57" y1="147.10" x2="334.57" y2="153.90" stroke="#2f7bb5" stroke-width="0.8" />
<rect x="332.42" y="148.35" width="4.30" height="4.30" fill="none" stroke="#2f7bb5" stroke-width="1.0" rx="0" />
<line x1="330.76" y1="145.90" x2="330.76" y2="152.70" stroke="#2f7bb5" stroke-width="0.8" />
<rect x="328.61" y="147.15" width="4.30" height="4.30" fill="none" stroke="#2f7bb5" stroke-width="1.0" rx="0" />
<line x1="326.95" y1="144.70" x2="326.95" y2="151.50" stroke="#2f7bb5" stroke-width="0.8" />
<rect x="324.80" y="145.95" width="4.30" height="4.30" fill="none" stroke="#2f7bb5" stroke-width="1.0" rx="0" />
<line x1="323.15" y1="144.10" x2="323.15" y2="150.90" stroke="#2f7bb5" stroke-width="0.8" />
<rect x="321.00" y="145.35" width="4.30" height="4.30" fill="none" stroke="#2f7bb5" stroke-width="1.0" rx="0" />
<line x1="319.34" y1="142.30" x2="319.34" y2="149.10" stroke="#2f7bb5" stroke-width="0.8" />
<rect x="317.19" y="143.55" width="4.30" height="4.30" fill="none" stroke="#2f7bb5" stroke-width="1.0" rx="0" />
<line x1="315.53" y1="141.10" x2="315.53" y2="147.90" stroke="#2f7bb5" stroke-width="0.8" />
<rect x="313.38" y="142.35" width="4.30" height="4.30" fill="none" stroke="#2f7bb5" stroke-width="1.0" rx="0" />
<line x1="311.73" y1="140.20" x2="311.73" y2="147.00" stroke="#2f7bb5" stroke-width="0.8" />
<rect x="309.58" y="141.45" width="4.30" height="4.30" fill="none" stroke="#2f7bb5" stroke-width="1.0" rx="0" />
<line x1="307.92" y1="138.70" x2="307.92" y2="145.50" stroke="#2f7bb5" stroke-width="0.8" />
<rect x="305.77" y="139.95" width="4.30" height="4.30" fill="none" stroke="#2f7bb5" stroke-width="1.0" rx="0" />
<line x1="304.11" y1="137.20" x2="304.11" y2="144.00" stroke="#2f7bb5" stroke-width="0.8" />
<rect x="301.96" y="138.45" width="4.30" height="4.30" fill="none" stroke="#2f7bb5" stroke-width="1.0" rx="0" />
<line x1="300.31" y1="135.10" x2="300.31" y2="141.90" stroke="#2f7bb5" stroke-width="0.8" />
<rect x="298.16" y="136.35" width="4.30" height="4.30" fill="none" stroke="#2f7bb5" stroke-width="1.0" rx="0" />
<line x1="296.50" y1="132.70" x2="296.50" y2="139.50" stroke="#2f7bb5" stroke-width="0.8" />
<rect x="294.35" y="133.95" width="4.30" height="4.30" fill="none" stroke="#2f7bb5" stroke-width="1.0" rx="0" />
<line x1="292.69" y1="130.30" x2="292.69" y2="137.10" stroke="#2f7bb5" stroke-width="0.8" />
<rect x="290.54" y="131.55" width="4.30" height="4.30" fill="none" stroke="#2f7bb5" stroke-width="1.0" rx="0" />
<line x1="288.88" y1="128.50" x2="288.88" y2="135.30" stroke="#2f7bb5" stroke-width="0.8" />
<rect x="286.73" y="129.75" width="4.30" height="4.30" fill="none" stroke="#2f7bb5" stroke-width="1.0" rx="0" />
<line x1="285.08" y1="126.70" x2="285.08" y2="133.50" stroke="#2f7bb5" stroke-width="0.8" />
<rect x="282.93" y="127.95" width="4.30" height="4.30" fill="none" stroke="#2f7bb5" stroke-width="1.0" rx="0" />
<line x1="281.27" y1="125.50" x2="281.27" y2="132.30" stroke="#2f7bb5" stroke-width="0.8" />
<rect x="279.12" y="126.75" width="4.30" height="4.30" fill="none" stroke="#2f7bb5" stroke-width="1.0" rx="0" />
<line x1="277.46" y1="123.70" x2="277.46" y2="130.50" stroke="#2f7bb5" stroke-width="0.8" />
<rect x="275.31" y="124.95" width="4.30" height="4.30" fill="none" stroke="#2f7bb5" stroke-width="1.0" rx="0" />
<line x1="273.66" y1="122.50" x2="273.66" y2="129.30" stroke="#2f7bb5" stroke-width="0.8" />
<rect x="271.51" y="123.75" width="4.30" height="4.30" fill="none" stroke="#2f7bb5" stroke-width="1.0" rx="0" />
<line x1="269.85" y1="120.70" x2="269.85" y2="127.50" stroke="#2f7bb5" stroke-width="0.8" />
<rect x="267.70" y="121.95" width="4.30" height="4.30" fill="none" stroke="#2f7bb5" stroke-width="1.0" rx="0" />
<line x1="266.04" y1="120.10" x2="266.04" y2="126.90" stroke="#2f7bb5" stroke-width="0.8" />
<rect x="263.89" y="121.35" width="4.30" height="4.30" fill="none" stroke="#2f7bb5" stroke-width="1.0" rx="0" />
<line x1="262.24" y1="117.10" x2="262.24" y2="123.90" stroke="#2f7bb5" stroke-width="0.8" />
<rect x="260.09" y="118.35" width="4.30" height="4.30" fill="none" stroke="#2f7bb5" stroke-width="1.0" rx="0" />
<line x1="258.43" y1="114.40" x2="258.43" y2="121.20" stroke="#2f7bb5" stroke-width="0.8" />
<rect x="256.28" y="115.65" width="4.30" height="4.30" fill="none" stroke="#2f7bb5" stroke-width="1.0" rx="0" />
<line x1="254.62" y1="109.90" x2="254.62" y2="116.70" stroke="#2f7bb5" stroke-width="0.8" />
<rect x="252.47" y="111.15" width="4.30" height="4.30" fill="none" stroke="#2f7bb5" stroke-width="1.0" rx="0" />
<line x1="250.81" y1="107.68" x2="250.81" y2="114.48" stroke="#2f7bb5" stroke-width="0.8" />
<rect x="248.66" y="108.93" width="4.30" height="4.30" fill="none" stroke="#2f7bb5" stroke-width="1.0" rx="0" />
<line x1="247.01" y1="103.30" x2="247.01" y2="110.10" stroke="#2f7bb5" stroke-width="0.8" />
<rect x="244.86" y="104.55" width="4.30" height="4.30" fill="none" stroke="#2f7bb5" stroke-width="1.0" rx="0" />
<line x1="243.20" y1="99.10" x2="243.20" y2="105.90" stroke="#2f7bb5" stroke-width="0.8" />
<rect x="241.05" y="100.35" width="4.30" height="4.30" fill="none" stroke="#2f7bb5" stroke-width="1.0" rx="0" />
<line x1="357.41" y1="158.20" x2="357.41" y2="165.00" stroke="#9b80cc" stroke-width="0.8" />
<path d="M354.61,164.04 L360.21,164.04 L357.41,159.16 Z" stroke="#9b80cc" fill="none" stroke-width="0.85" />
<line x1="353.60" y1="158.02" x2="353.60" y2="164.82" stroke="#9b80cc" stroke-width="0.8" />
<path d="M350.80,163.86 L356.40,163.86 L353.60,158.98 Z" stroke="#9b80cc" fill="none" stroke-width="0.85" />
<line x1="349.80" y1="157.84" x2="349.80" y2="164.64" stroke="#9b80cc" stroke-width="0.8" />
<path d="M347.00,163.68 L352.60,163.68 L349.80,158.80 Z" stroke="#9b80cc" fill="none" stroke-width="0.85" />
<line x1="345.99" y1="157.66" x2="345.99" y2="164.46" stroke="#9b80cc" stroke-width="0.8" />
<path d="M343.19,163.50 L348.79,163.50 L345.99,158.62 Z" stroke="#9b80cc" fill="none" stroke-width="0.85" />
<line x1="342.18" y1="157.48" x2="342.18" y2="164.28" stroke="#9b80cc" stroke-width="0.8" />
<path d="M339.38,163.32 L344.98,163.32 L342.18,158.44 Z" stroke="#9b80cc" fill="none" stroke-width="0.85" />
<line x1="338.38" y1="157.30" x2="338.38" y2="164.10" stroke="#9b80cc" stroke-width="0.8" />
<path d="M335.57,163.14 L341.18,163.14 L338.38,158.26 Z" stroke="#9b80cc" fill="none" stroke-width="0.85" />
<line x1="334.57" y1="157.20" x2="334.57" y2="164.00" stroke="#9b80cc" stroke-width="0.8" />
<path d="M331.77,163.04 L337.37,163.04 L334.57,158.16 Z" stroke="#9b80cc" fill="none" stroke-width="0.85" />
<line x1="330.76" y1="157.10" x2="330.76" y2="163.90" stroke="#9b80cc" stroke-width="0.8" />
<path d="M327.96,162.94 L333.56,162.94 L330.76,158.06 Z" stroke="#9b80cc" fill="none" stroke-width="0.85" />
<line x1="326.95" y1="157.00" x2="326.95" y2="163.80" stroke="#9b80cc" stroke-width="0.8" />
<path d="M324.15,162.84 L329.75,162.84 L326.95,157.96 Z" stroke="#9b80cc" fill="none" stroke-width="0.85" />
<line x1="323.15" y1="157.15" x2="323.15" y2="163.95" stroke="#9b80cc" stroke-width="0.8" />
<path d="M320.35,162.99 L325.95,162.99 L323.15,158.11 Z" stroke="#9b80cc" fill="none" stroke-width="0.85" />
<line x1="319.34" y1="157.30" x2="319.34" y2="164.10" stroke="#9b80cc" stroke-width="0.8" />
<path d="M316.54,163.14 L322.14,163.14 L319.34,158.26 Z" stroke="#9b80cc" fill="none" stroke-width="0.85" />
<line x1="315.53" y1="157.00" x2="315.53" y2="163.80" stroke="#9b80cc" stroke-width="0.8" />
<path d="M312.73,162.84 L318.33,162.84 L315.53,157.96 Z" stroke="#9b80cc" fill="none" stroke-width="0.85" />
<line x1="311.73" y1="156.70" x2="311.73" y2="163.50" stroke="#9b80cc" stroke-width="0.8" />
<path d="M308.93,162.54 L314.53,162.54 L311.73,157.66 Z" stroke="#9b80cc" fill="none" stroke-width="0.85" />
<line x1="307.92" y1="156.25" x2="307.92" y2="163.05" stroke="#9b80cc" stroke-width="0.8" />
<path d="M305.12,162.09 L310.72,162.09 L307.92,157.21 Z" stroke="#9b80cc" fill="none" stroke-width="0.85" />
<line x1="304.11" y1="155.80" x2="304.11" y2="162.60" stroke="#9b80cc" stroke-width="0.8" />
<path d="M301.31,161.64 L306.91,161.64 L304.11,156.76 Z" stroke="#9b80cc" fill="none" stroke-width="0.85" />
<line x1="300.31" y1="155.08" x2="300.31" y2="161.88" stroke="#9b80cc" stroke-width="0.8" />
<path d="M297.50,160.92 L303.11,160.92 L300.31,156.04 Z" stroke="#9b80cc" fill="none" stroke-width="0.85" />
<line x1="296.50" y1="154.30" x2="296.50" y2="161.10" stroke="#9b80cc" stroke-width="0.8" />
<path d="M293.70,160.14 L299.30,160.14 L296.50,155.26 Z" stroke="#9b80cc" fill="none" stroke-width="0.85" />
<line x1="292.69" y1="153.70" x2="292.69" y2="160.50" stroke="#9b80cc" stroke-width="0.8" />
<path d="M289.89,159.54 L295.49,159.54 L292.69,154.66 Z" stroke="#9b80cc" fill="none" stroke-width="0.85" />
<line x1="288.88" y1="152.20" x2="288.88" y2="159.00" stroke="#9b80cc" stroke-width="0.8" />
<path d="M286.08,158.04 L291.68,158.04 L288.88,153.16 Z" stroke="#9b80cc" fill="none" stroke-width="0.85" />
<line x1="285.08" y1="150.10" x2="285.08" y2="156.90" stroke="#9b80cc" stroke-width="0.8" />
<path d="M282.28,155.94 L287.88,155.94 L285.08,151.06 Z" stroke="#9b80cc" fill="none" stroke-width="0.85" />
<line x1="281.27" y1="144.10" x2="281.27" y2="150.90" stroke="#9b80cc" stroke-width="0.8" />
<path d="M278.47,149.94 L284.07,149.94 L281.27,145.06 Z" stroke="#9b80cc" fill="none" stroke-width="0.85" />
<line x1="277.46" y1="138.10" x2="277.46" y2="144.90" stroke="#9b80cc" stroke-width="0.8" />
<path d="M274.66,143.94 L280.26,143.94 L277.46,139.06 Z" stroke="#9b80cc" fill="none" stroke-width="0.85" />
<line x1="273.66" y1="135.70" x2="273.66" y2="142.50" stroke="#9b80cc" stroke-width="0.8" />
<path d="M270.86,141.54 L276.46,141.54 L273.66,136.66 Z" stroke="#9b80cc" fill="none" stroke-width="0.85" />
<line x1="269.85" y1="133.30" x2="269.85" y2="140.10" stroke="#9b80cc" stroke-width="0.8" />
<path d="M267.05,139.14 L272.65,139.14 L269.85,134.26 Z" stroke="#9b80cc" fill="none" stroke-width="0.85" />
<line x1="266.04" y1="130.30" x2="266.04" y2="137.10" stroke="#9b80cc" stroke-width="0.8" />
<path d="M263.24,136.14 L268.84,136.14 L266.04,131.26 Z" stroke="#9b80cc" fill="none" stroke-width="0.85" />
<line x1="262.24" y1="126.70" x2="262.24" y2="133.50" stroke="#9b80cc" stroke-width="0.8" />
<path d="M259.44,132.54 L265.04,132.54 L262.24,127.66 Z" stroke="#9b80cc" fill="none" stroke-width="0.85" />
<line x1="258.43" y1="121.90" x2="258.43" y2="128.70" stroke="#9b80cc" stroke-width="0.8" />
<path d="M255.63,127.74 L261.23,127.74 L258.43,122.86 Z" stroke="#9b80cc" fill="none" stroke-width="0.85" />
<line x1="254.62" y1="115.60" x2="254.62" y2="122.40" stroke="#9b80cc" stroke-width="0.8" />
<path d="M251.82,121.44 L257.42,121.44 L254.62,116.56 Z" stroke="#9b80cc" fill="none" stroke-width="0.85" />
<line x1="250.81" y1="108.70" x2="250.81" y2="115.50" stroke="#9b80cc" stroke-width="0.8" />
<path d="M248.01,114.54 L253.61,114.54 L250.81,109.66 Z" stroke="#9b80cc" fill="none" stroke-width="0.85" />
<line x1="247.01" y1="103.90" x2="247.01" y2="110.70" stroke="#9b80cc" stroke-width="0.8" />
<path d="M244.21,109.74 L249.81,109.74 L247.01,104.86 Z" stroke="#9b80cc" fill="none" stroke-width="0.85" />
<line x1="243.20" y1="99.10" x2="243.20" y2="105.90" stroke="#9b80cc" stroke-width="0.8" />
<path d="M240.40,104.94 L246.00,104.94 L243.20,100.06 Z" stroke="#9b80cc" fill="none" stroke-width="0.85" />
<line x1="357.41" y1="160.10" x2="357.41" y2="160.95" stroke="#d2444f" stroke-width="0.8" />
<line x1="357.41" y1="166.45" x2="357.41" y2="167.30" stroke="#d2444f" stroke-width="0.8" />
<circle cx="357.41" cy="163.70" r="2.75" fill="none" stroke="#d2444f" stroke-width="1.0"/>
<circle cx="357.41" cy="163.70" r="0.75" fill="#d2444f" stroke="none" stroke-width="1"/>
<line x1="353.60" y1="160.70" x2="353.60" y2="161.55" stroke="#d2444f" stroke-width="0.8" />
<line x1="353.60" y1="167.05" x2="353.60" y2="167.90" stroke="#d2444f" stroke-width="0.8" />
<circle cx="353.60" cy="164.30" r="2.75" fill="none" stroke="#d2444f" stroke-width="1.0"/>
<circle cx="353.60" cy="164.30" r="0.75" fill="#d2444f" stroke="none" stroke-width="1"/>
<line x1="349.80" y1="161.30" x2="349.80" y2="162.15" stroke="#d2444f" stroke-width="0.8" />
<line x1="349.80" y1="167.65" x2="349.80" y2="168.50" stroke="#d2444f" stroke-width="0.8" />
<circle cx="349.80" cy="164.90" r="2.75" fill="none" stroke="#d2444f" stroke-width="1.0"/>
<circle cx="349.80" cy="164.90" r="0.75" fill="#d2444f" stroke="none" stroke-width="1"/>
<line x1="345.99" y1="161.60" x2="345.99" y2="162.45" stroke="#d2444f" stroke-width="0.8" />
<line x1="345.99" y1="167.95" x2="345.99" y2="168.80" stroke="#d2444f" stroke-width="0.8" />
<circle cx="345.99" cy="165.20" r="2.75" fill="none" stroke="#d2444f" stroke-width="1.0"/>
<circle cx="345.99" cy="165.20" r="0.75" fill="#d2444f" stroke="none" stroke-width="1"/>
<line x1="342.18" y1="161.90" x2="342.18" y2="162.75" stroke="#d2444f" stroke-width="0.8" />
<line x1="342.18" y1="168.25" x2="342.18" y2="169.10" stroke="#d2444f" stroke-width="0.8" />
<circle cx="342.18" cy="165.50" r="2.75" fill="none" stroke="#d2444f" stroke-width="1.0"/>
<circle cx="342.18" cy="165.50" r="0.75" fill="#d2444f" stroke="none" stroke-width="1"/>
<line x1="338.38" y1="162.20" x2="338.38" y2="163.05" stroke="#d2444f" stroke-width="0.8" />
<line x1="338.38" y1="168.55" x2="338.38" y2="169.40" stroke="#d2444f" stroke-width="0.8" />
<circle cx="338.38" cy="165.80" r="2.75" fill="none" stroke="#d2444f" stroke-width="1.0"/>
<circle cx="338.38" cy="165.80" r="0.75" fill="#d2444f" stroke="none" stroke-width="1"/>
<line x1="334.57" y1="162.60" x2="334.57" y2="163.45" stroke="#d2444f" stroke-width="0.8" />
<line x1="334.57" y1="168.95" x2="334.57" y2="169.80" stroke="#d2444f" stroke-width="0.8" />
<circle cx="334.57" cy="166.20" r="2.75" fill="none" stroke="#d2444f" stroke-width="1.0"/>
<circle cx="334.57" cy="166.20" r="0.75" fill="#d2444f" stroke="none" stroke-width="1"/>
<line x1="330.76" y1="163.00" x2="330.76" y2="163.85" stroke="#d2444f" stroke-width="0.8" />
<line x1="330.76" y1="169.35" x2="330.76" y2="170.20" stroke="#d2444f" stroke-width="0.8" />
<circle cx="330.76" cy="166.60" r="2.75" fill="none" stroke="#d2444f" stroke-width="1.0"/>
<circle cx="330.76" cy="166.60" r="0.75" fill="#d2444f" stroke="none" stroke-width="1"/>
<line x1="326.95" y1="163.40" x2="326.95" y2="164.25" stroke="#d2444f" stroke-width="0.8" />
<line x1="326.95" y1="169.75" x2="326.95" y2="170.60" stroke="#d2444f" stroke-width="0.8" />
<circle cx="326.95" cy="167.00" r="2.75" fill="none" stroke="#d2444f" stroke-width="1.0"/>
<circle cx="326.95" cy="167.00" r="0.75" fill="#d2444f" stroke="none" stroke-width="1"/>
<line x1="323.15" y1="164.15" x2="323.15" y2="165.00" stroke="#d2444f" stroke-width="0.8" />
<line x1="323.15" y1="170.50" x2="323.15" y2="171.35" stroke="#d2444f" stroke-width="0.8" />
<circle cx="323.15" cy="167.75" r="2.75" fill="none" stroke="#d2444f" stroke-width="1.0"/>
<circle cx="323.15" cy="167.75" r="0.75" fill="#d2444f" stroke="none" stroke-width="1"/>
<line x1="319.34" y1="164.90" x2="319.34" y2="165.75" stroke="#d2444f" stroke-width="0.8" />
<line x1="319.34" y1="171.25" x2="319.34" y2="172.10" stroke="#d2444f" stroke-width="0.8" />
<circle cx="319.34" cy="168.50" r="2.75" fill="none" stroke="#d2444f" stroke-width="1.0"/>
<circle cx="319.34" cy="168.50" r="0.75" fill="#d2444f" stroke="none" stroke-width="1"/>
<line x1="315.53" y1="165.65" x2="315.53" y2="166.50" stroke="#d2444f" stroke-width="0.8" />
<line x1="315.53" y1="172.00" x2="315.53" y2="172.85" stroke="#d2444f" stroke-width="0.8" />
<circle cx="315.53" cy="169.25" r="2.75" fill="none" stroke="#d2444f" stroke-width="1.0"/>
<circle cx="315.53" cy="169.25" r="0.75" fill="#d2444f" stroke="none" stroke-width="1"/>
<line x1="311.73" y1="166.40" x2="311.73" y2="167.25" stroke="#d2444f" stroke-width="0.8" />
<line x1="311.73" y1="172.75" x2="311.73" y2="173.60" stroke="#d2444f" stroke-width="0.8" />
<circle cx="311.73" cy="170.00" r="2.75" fill="none" stroke="#d2444f" stroke-width="1.0"/>
<circle cx="311.73" cy="170.00" r="0.75" fill="#d2444f" stroke="none" stroke-width="1"/>
<line x1="307.92" y1="166.70" x2="307.92" y2="167.55" stroke="#d2444f" stroke-width="0.8" />
<line x1="307.92" y1="173.05" x2="307.92" y2="173.90" stroke="#d2444f" stroke-width="0.8" />
<circle cx="307.92" cy="170.30" r="2.75" fill="none" stroke="#d2444f" stroke-width="1.0"/>
<circle cx="307.92" cy="170.30" r="0.75" fill="#d2444f" stroke="none" stroke-width="1"/>
<line x1="304.11" y1="166.40" x2="304.11" y2="167.25" stroke="#d2444f" stroke-width="0.8" />
<line x1="304.11" y1="172.75" x2="304.11" y2="173.60" stroke="#d2444f" stroke-width="0.8" />
<circle cx="304.11" cy="170.00" r="2.75" fill="none" stroke="#d2444f" stroke-width="1.0"/>
<circle cx="304.11" cy="170.00" r="0.75" fill="#d2444f" stroke="none" stroke-width="1"/>
<line x1="300.31" y1="165.50" x2="300.31" y2="166.35" stroke="#d2444f" stroke-width="0.8" />
<line x1="300.31" y1="171.85" x2="300.31" y2="172.70" stroke="#d2444f" stroke-width="0.8" />
<circle cx="300.31" cy="169.10" r="2.75" fill="none" stroke="#d2444f" stroke-width="1.0"/>
<circle cx="300.31" cy="169.10" r="0.75" fill="#d2444f" stroke="none" stroke-width="1"/>
<line x1="296.50" y1="164.30" x2="296.50" y2="165.15" stroke="#d2444f" stroke-width="0.8" />
<line x1="296.50" y1="170.65" x2="296.50" y2="171.50" stroke="#d2444f" stroke-width="0.8" />
<circle cx="296.50" cy="167.90" r="2.75" fill="none" stroke="#d2444f" stroke-width="1.0"/>
<circle cx="296.50" cy="167.90" r="0.75" fill="#d2444f" stroke="none" stroke-width="1"/>
<line x1="292.69" y1="163.70" x2="292.69" y2="164.55" stroke="#d2444f" stroke-width="0.8" />
<line x1="292.69" y1="170.05" x2="292.69" y2="170.90" stroke="#d2444f" stroke-width="0.8" />
<circle cx="292.69" cy="167.30" r="2.75" fill="none" stroke="#d2444f" stroke-width="1.0"/>
<circle cx="292.69" cy="167.30" r="0.75" fill="#d2444f" stroke="none" stroke-width="1"/>
<line x1="288.88" y1="162.50" x2="288.88" y2="163.35" stroke="#d2444f" stroke-width="0.8" />
<line x1="288.88" y1="168.85" x2="288.88" y2="169.70" stroke="#d2444f" stroke-width="0.8" />
<circle cx="288.88" cy="166.10" r="2.75" fill="none" stroke="#d2444f" stroke-width="1.0"/>
<circle cx="288.88" cy="166.10" r="0.75" fill="#d2444f" stroke="none" stroke-width="1"/>
<line x1="285.08" y1="159.50" x2="285.08" y2="160.35" stroke="#d2444f" stroke-width="0.8" />
<line x1="285.08" y1="165.85" x2="285.08" y2="166.70" stroke="#d2444f" stroke-width="0.8" />
<circle cx="285.08" cy="163.10" r="2.75" fill="none" stroke="#d2444f" stroke-width="1.0"/>
<circle cx="285.08" cy="163.10" r="0.75" fill="#d2444f" stroke="none" stroke-width="1"/>
<line x1="281.27" y1="157.88" x2="281.27" y2="158.73" stroke="#d2444f" stroke-width="0.8" />
<line x1="281.27" y1="164.23" x2="281.27" y2="165.08" stroke="#d2444f" stroke-width="0.8" />
<circle cx="281.27" cy="161.48" r="2.75" fill="none" stroke="#d2444f" stroke-width="1.0"/>
<circle cx="281.27" cy="161.48" r="0.75" fill="#d2444f" stroke="none" stroke-width="1"/>
<line x1="277.46" y1="154.10" x2="277.46" y2="154.95" stroke="#d2444f" stroke-width="0.8" />
<line x1="277.46" y1="160.45" x2="277.46" y2="161.30" stroke="#d2444f" stroke-width="0.8" />
<circle cx="277.46" cy="157.70" r="2.75" fill="none" stroke="#d2444f" stroke-width="1.0"/>
<circle cx="277.46" cy="157.70" r="0.75" fill="#d2444f" stroke="none" stroke-width="1"/>
<line x1="273.66" y1="150.50" x2="273.66" y2="151.35" stroke="#d2444f" stroke-width="0.8" />
<line x1="273.66" y1="156.85" x2="273.66" y2="157.70" stroke="#d2444f" stroke-width="0.8" />
<circle cx="273.66" cy="154.10" r="2.75" fill="none" stroke="#d2444f" stroke-width="1.0"/>
<circle cx="273.66" cy="154.10" r="0.75" fill="#d2444f" stroke="none" stroke-width="1"/>
<line x1="269.85" y1="146.90" x2="269.85" y2="147.75" stroke="#d2444f" stroke-width="0.8" />
<line x1="269.85" y1="153.25" x2="269.85" y2="154.10" stroke="#d2444f" stroke-width="0.8" />
<circle cx="269.85" cy="150.50" r="2.75" fill="none" stroke="#d2444f" stroke-width="1.0"/>
<circle cx="269.85" cy="150.50" r="0.75" fill="#d2444f" stroke="none" stroke-width="1"/>
<line x1="266.04" y1="141.50" x2="266.04" y2="142.35" stroke="#d2444f" stroke-width="0.8" />
<line x1="266.04" y1="147.85" x2="266.04" y2="148.70" stroke="#d2444f" stroke-width="0.8" />
<circle cx="266.04" cy="145.10" r="2.75" fill="none" stroke="#d2444f" stroke-width="1.0"/>
<circle cx="266.04" cy="145.10" r="0.75" fill="#d2444f" stroke="none" stroke-width="1"/>
<line x1="262.24" y1="137.00" x2="262.24" y2="137.85" stroke="#d2444f" stroke-width="0.8" />
<line x1="262.24" y1="143.35" x2="262.24" y2="144.20" stroke="#d2444f" stroke-width="0.8" />
<circle cx="262.24" cy="140.60" r="2.75" fill="none" stroke="#d2444f" stroke-width="1.0"/>
<circle cx="262.24" cy="140.60" r="0.75" fill="#d2444f" stroke="none" stroke-width="1"/>
<line x1="258.43" y1="130.10" x2="258.43" y2="130.95" stroke="#d2444f" stroke-width="0.8" />
<line x1="258.43" y1="136.45" x2="258.43" y2="137.30" stroke="#d2444f" stroke-width="0.8" />
<circle cx="258.43" cy="133.70" r="2.75" fill="none" stroke="#d2444f" stroke-width="1.0"/>
<circle cx="258.43" cy="133.70" r="0.75" fill="#d2444f" stroke="none" stroke-width="1"/>
<line x1="254.62" y1="120.50" x2="254.62" y2="121.35" stroke="#d2444f" stroke-width="0.8" />
<line x1="254.62" y1="126.85" x2="254.62" y2="127.70" stroke="#d2444f" stroke-width="0.8" />
<circle cx="254.62" cy="124.10" r="2.75" fill="none" stroke="#d2444f" stroke-width="1.0"/>
<circle cx="254.62" cy="124.10" r="0.75" fill="#d2444f" stroke="none" stroke-width="1"/>
<line x1="250.81" y1="111.20" x2="250.81" y2="112.05" stroke="#d2444f" stroke-width="0.8" />
<line x1="250.81" y1="117.55" x2="250.81" y2="118.40" stroke="#d2444f" stroke-width="0.8" />
<circle cx="250.81" cy="114.80" r="2.75" fill="none" stroke="#d2444f" stroke-width="1.0"/>
<circle cx="250.81" cy="114.80" r="0.75" fill="#d2444f" stroke="none" stroke-width="1"/>
<line x1="247.01" y1="103.10" x2="247.01" y2="103.95" stroke="#d2444f" stroke-width="0.8" />
<line x1="247.01" y1="109.45" x2="247.01" y2="110.30" stroke="#d2444f" stroke-width="0.8" />
<circle cx="247.01" cy="106.70" r="2.75" fill="none" stroke="#d2444f" stroke-width="1.0"/>
<circle cx="247.01" cy="106.70" r="0.75" fill="#d2444f" stroke="none" stroke-width="1"/>
<line x1="243.20" y1="98.90" x2="243.20" y2="99.75" stroke="#d2444f" stroke-width="0.8" />
<line x1="243.20" y1="105.25" x2="243.20" y2="106.10" stroke="#d2444f" stroke-width="0.8" />
<circle cx="243.20" cy="102.50" r="2.75" fill="none" stroke="#d2444f" stroke-width="1.0"/>
<circle cx="243.20" cy="102.50" r="0.75" fill="#d2444f" stroke="none" stroke-width="1"/>
<path d="M243.20,102.50 L250.81,105.50 L258.43,108.50 L268.33,115.40 L277.08,119.60 L285.08,125.30 L288.88,127.70 L292.69,130.70 L298.78,134.30 L300.31,136.10" stroke="#0a0a0a" fill="none" stroke-width="1.6" stroke-linejoin="round"/>
<path d="M295.08,107.66 L293.14,112.06 L295.08,116.46" stroke="#1a1a1a" fill="none" stroke-width="0.6160000000000001" fill="none" stroke-linejoin="miter"/>
<path d="M297.78,106.69 C298.74,105.09 300.68,107.68 301.65,105.46" stroke="#1a1a1a" fill="none" stroke-width="0.5720000000000001" fill="none"/>
<path d="M305.92,107.66 L307.86,112.06 L305.92,116.46" stroke="#1a1a1a" fill="none" stroke-width="0.6160000000000001" fill="none" stroke-linejoin="miter"/>
<text fill="#1a1a1a"><tspan x="295.78" y="114.70" font-size="8.8" font-style="italic">X</tspan><tspan x="301.82" y="116.99" font-size="5.632000000000001">L</tspan></text>
<text transform="translate(218.00,140.53) rotate(-90)" font-size="9.1" text-anchor="middle" fill="#1a1a1a">Expectation value</text>
<text x="243.20" y="190.90" font-size="9.4" text-anchor="middle" fill="#1a1a1a" >0</text>
<text x="281.27" y="190.90" font-size="9.4" text-anchor="middle" fill="#1a1a1a" >10</text>
<text x="319.34" y="190.90" font-size="9.4" text-anchor="middle" fill="#1a1a1a" >20</text>
<text x="357.41" y="190.90" font-size="9.4" text-anchor="middle" fill="#1a1a1a" >30</text>
<text x="302.6" y="202.6" font-size="9.1" text-anchor="middle" fill="#1a1a1a">Cycle, <tspan font-style="italic">t</tspan></text>
<line x1="328.30" y1="5.90" x2="328.30" y2="12.70" stroke="#2f7bb5" stroke-width="0.8" />
<rect x="326.15" y="7.15" width="4.30" height="4.30" fill="none" stroke="#2f7bb5" stroke-width="1.0" rx="0" />
<line x1="328.30" y1="17.50" x2="328.30" y2="24.30" stroke="#9b80cc" stroke-width="0.8" />
<path d="M325.50,23.34 L331.10,23.34 L328.30,18.46 Z" stroke="#9b80cc" fill="none" stroke-width="0.85" />
<line x1="328.30" y1="30.00" x2="328.30" y2="30.85" stroke="#d2444f" stroke-width="0.8" />
<line x1="328.30" y1="36.35" x2="328.30" y2="37.20" stroke="#d2444f" stroke-width="0.8" />
<circle cx="328.30" cy="33.60" r="2.75" fill="none" stroke="#d2444f" stroke-width="1.0"/>
<circle cx="328.30" cy="33.60" r="0.75" fill="#d2444f" stroke="none" stroke-width="1"/>
<line x1="324.60" y1="44.80" x2="332.00" y2="44.80" stroke="#111" stroke-width="1.3" />
<line x1="328.30" y1="41.10" x2="328.30" y2="48.50" stroke="#111" stroke-width="1.3" />
<path d="M350.38,5.30 L352.36,9.80 L350.38,14.30" stroke="#1a1a1a" fill="none" stroke-width="0.6300000000000001" fill="none" stroke-linejoin="miter"/>
<text fill="#1a1a1a"><tspan x="335.60" y="12.50" font-size="9.0">|</tspan><tspan x="338.54" y="12.50" font-size="9.0" font-style="italic">Ψ</tspan><tspan x="346.21" y="14.70" font-size="5.8">0</tspan></text>
<path d="M369.09,16.90 L371.07,21.40 L369.09,25.90" stroke="#1a1a1a" fill="none" stroke-width="0.6300000000000001" fill="none" stroke-linejoin="miter"/>
<text fill="#1a1a1a"><tspan x="335.60" y="24.10" font-size="9.0">|•00···0•</tspan></text>
<path d="M350.38,29.60 L352.36,34.10 L350.38,38.60" stroke="#1a1a1a" fill="none" stroke-width="0.6300000000000001" fill="none" stroke-linejoin="miter"/>
<text fill="#1a1a1a"><tspan x="335.60" y="36.80" font-size="9.0">|</tspan><tspan x="338.54" y="36.80" font-size="9.0" font-style="italic">Ψ</tspan><tspan x="346.21" y="39.00" font-size="5.8">e</tspan></text>
<text x="335.5" y="47.9" font-size="8.8" fill="#1a1a1a">Echo</text>
<rect x="412.20" y="26.30" width="10.70" height="4.04" fill="#f7f2f2" stroke="none" stroke-width="1" rx="0" />
<rect x="412.20" y="29.73" width="10.70" height="4.04" fill="#f6eeee" stroke="none" stroke-width="1" rx="0" />
<rect x="412.20" y="33.17" width="10.70" height="4.04" fill="#f4d8d8" stroke="none" stroke-width="1" rx="0" />
<rect x="412.20" y="36.61" width="10.70" height="4.04" fill="#f2caca" stroke="none" stroke-width="1" rx="0" />
<rect x="412.20" y="40.04" width="10.70" height="4.04" fill="#f1c3c3" stroke="none" stroke-width="1" rx="0" />
<rect x="412.20" y="43.48" width="10.70" height="4.04" fill="#f0bcbc" stroke="none" stroke-width="1" rx="0" />
<rect x="412.20" y="46.91" width="10.70" height="4.04" fill="#efb4b4" stroke="none" stroke-width="1" rx="0" />
<rect x="412.20" y="50.34" width="10.70" height="4.04" fill="#edadad" stroke="none" stroke-width="1" rx="0" />
<rect x="412.20" y="53.78" width="10.70" height="4.04" fill="#eca6a6" stroke="none" stroke-width="1" rx="0" />
<rect x="412.20" y="57.22" width="10.70" height="4.04" fill="#ea9e9e" stroke="none" stroke-width="1" rx="0" />
<rect x="412.20" y="60.65" width="10.70" height="4.04" fill="#e99797" stroke="none" stroke-width="1" rx="0" />
<rect x="412.20" y="64.09" width="10.70" height="4.04" fill="#e79090" stroke="none" stroke-width="1" rx="0" />
<rect x="412.20" y="67.52" width="10.70" height="4.04" fill="#e68989" stroke="none" stroke-width="1" rx="0" />
<rect x="412.20" y="70.95" width="10.70" height="4.04" fill="#e48383" stroke="none" stroke-width="1" rx="0" />
<rect x="412.20" y="74.39" width="10.70" height="4.04" fill="#e37c7c" stroke="none" stroke-width="1" rx="0" />
<rect x="412.20" y="77.83" width="10.70" height="4.04" fill="#e17676" stroke="none" stroke-width="1" rx="0" />
<rect x="412.20" y="81.26" width="10.70" height="4.04" fill="#e06e6e" stroke="none" stroke-width="1" rx="0" />
<rect x="412.20" y="84.70" width="10.70" height="4.04" fill="#de6767" stroke="none" stroke-width="1" rx="0" />
<rect x="412.20" y="88.13" width="10.70" height="4.04" fill="#dd6060" stroke="none" stroke-width="1" rx="0" />
<rect x="412.20" y="91.56" width="10.70" height="3.44" fill="#db5959" stroke="none" stroke-width="1" rx="0" />
<rect x="422.30" y="26.30" width="10.70" height="4.04" fill="#f3f5f6" stroke="none" stroke-width="1" rx="0" />
<rect x="422.30" y="29.73" width="10.70" height="4.04" fill="#eef1f4" stroke="none" stroke-width="1" rx="0" />
<rect x="422.30" y="33.17" width="10.70" height="4.04" fill="#cad9e9" stroke="none" stroke-width="1" rx="0" />
<rect x="422.30" y="36.61" width="10.70" height="4.04" fill="#b7cde3" stroke="none" stroke-width="1" rx="0" />
<rect x="422.30" y="40.04" width="10.70" height="4.04" fill="#b3cae1" stroke="none" stroke-width="1" rx="0" />
<rect x="422.30" y="43.48" width="10.70" height="4.04" fill="#afc7e0" stroke="none" stroke-width="1" rx="0" />
<rect x="422.30" y="46.91" width="10.70" height="4.04" fill="#abc4df" stroke="none" stroke-width="1" rx="0" />
<rect x="422.30" y="50.34" width="10.70" height="4.04" fill="#a8c2de" stroke="none" stroke-width="1" rx="0" />
<rect x="422.30" y="53.78" width="10.70" height="4.04" fill="#a6c1dd" stroke="none" stroke-width="1" rx="0" />
<rect x="422.30" y="57.22" width="10.70" height="4.04" fill="#a4bfdc" stroke="none" stroke-width="1" rx="0" />
<rect x="422.30" y="60.65" width="10.70" height="4.04" fill="#a1bddb" stroke="none" stroke-width="1" rx="0" />
<rect x="422.30" y="64.09" width="10.70" height="4.04" fill="#a3bfdc" stroke="none" stroke-width="1" rx="0" />
<rect x="422.30" y="67.52" width="10.70" height="4.04" fill="#a5c0dd" stroke="none" stroke-width="1" rx="0" />
<rect x="422.30" y="70.95" width="10.70" height="4.04" fill="#a7c1dd" stroke="none" stroke-width="1" rx="0" />
<rect x="422.30" y="74.39" width="10.70" height="4.04" fill="#a9c3de" stroke="none" stroke-width="1" rx="0" />
<rect x="422.30" y="77.83" width="10.70" height="4.04" fill="#abc4df" stroke="none" stroke-width="1" rx="0" />
<rect x="422.30" y="81.26" width="10.70" height="4.04" fill="#acc5df" stroke="none" stroke-width="1" rx="0" />
<rect x="422.30" y="84.70" width="10.70" height="4.04" fill="#aec7e0" stroke="none" stroke-width="1" rx="0" />
<rect x="422.30" y="88.13" width="10.70" height="4.04" fill="#b0c8e0" stroke="none" stroke-width="1" rx="0" />
<rect x="422.30" y="91.56" width="10.70" height="3.44" fill="#b2c9e1" stroke="none" stroke-width="1" rx="0" />
<rect x="432.39" y="26.30" width="10.70" height="4.04" fill="#c80008" stroke="none" stroke-width="1" rx="0" />
<rect x="432.39" y="29.73" width="10.70" height="4.04" fill="#c9040b" stroke="none" stroke-width="1" rx="0" />
<rect x="432.39" y="33.17" width="10.70" height="4.04" fill="#cd1619" stroke="none" stroke-width="1" rx="0" />
<rect x="432.39" y="36.61" width="10.70" height="4.04" fill="#d12b2b" stroke="none" stroke-width="1" rx="0" />
<rect x="432.39" y="40.04" width="10.70" height="4.04" fill="#d64343" stroke="none" stroke-width="1" rx="0" />
<rect x="432.39" y="43.48" width="10.70" height="4.04" fill="#db5a5a" stroke="none" stroke-width="1" rx="0" />
<rect x="432.39" y="46.91" width="10.70" height="4.04" fill="#e07070" stroke="none" stroke-width="1" rx="0" />
<rect x="432.39" y="50.34" width="10.70" height="4.04" fill="#e48080" stroke="none" stroke-width="1" rx="0" />
<rect x="432.39" y="53.78" width="10.70" height="4.04" fill="#e78f8f" stroke="none" stroke-width="1" rx="0" />
<rect x="432.39" y="57.22" width="10.70" height="4.04" fill="#e99797" stroke="none" stroke-width="1" rx="0" />
<rect x="432.39" y="60.65" width="10.70" height="4.04" fill="#ea9e9e" stroke="none" stroke-width="1" rx="0" />
<rect x="432.39" y="64.09" width="10.70" height="4.04" fill="#ea9e9e" stroke="none" stroke-width="1" rx="0" />
<rect x="432.39" y="67.52" width="10.70" height="4.04" fill="#ea9e9e" stroke="none" stroke-width="1" rx="0" />
<rect x="432.39" y="70.95" width="10.70" height="4.04" fill="#ea9e9e" stroke="none" stroke-width="1" rx="0" />
<rect x="432.39" y="74.39" width="10.70" height="4.04" fill="#ea9e9e" stroke="none" stroke-width="1" rx="0" />
<rect x="432.39" y="77.83" width="10.70" height="4.04" fill="#ea9d9d" stroke="none" stroke-width="1" rx="0" />
<rect x="432.39" y="81.26" width="10.70" height="4.04" fill="#ea9b9b" stroke="none" stroke-width="1" rx="0" />
<rect x="432.39" y="84.70" width="10.70" height="4.04" fill="#e99a9a" stroke="none" stroke-width="1" rx="0" />
<rect x="432.39" y="88.13" width="10.70" height="4.04" fill="#e99898" stroke="none" stroke-width="1" rx="0" />
<rect x="432.39" y="91.56" width="10.70" height="3.44" fill="#e99797" stroke="none" stroke-width="1" rx="0" />
<rect x="442.49" y="26.30" width="10.70" height="4.04" fill="#f3f5f6" stroke="none" stroke-width="1" rx="0" />
<rect x="442.49" y="29.73" width="10.70" height="4.04" fill="#eef1f4" stroke="none" stroke-width="1" rx="0" />
<rect x="442.49" y="33.17" width="10.70" height="4.04" fill="#c0d3e6" stroke="none" stroke-width="1" rx="0" />
<rect x="442.49" y="36.61" width="10.70" height="4.04" fill="#abc4df" stroke="none" stroke-width="1" rx="0" />
<rect x="442.49" y="40.04" width="10.70" height="4.04" fill="#a6c1dd" stroke="none" stroke-width="1" rx="0" />
<rect x="442.49" y="43.48" width="10.70" height="4.04" fill="#a1bddb" stroke="none" stroke-width="1" rx="0" />
<rect x="442.49" y="46.91" width="10.70" height="4.04" fill="#9dbad9" stroke="none" stroke-width="1" rx="0" />
<rect x="442.49" y="50.34" width="10.70" height="4.04" fill="#98b7d8" stroke="none" stroke-width="1" rx="0" />
<rect x="442.49" y="53.78" width="10.70" height="4.04" fill="#96b5d7" stroke="none" stroke-width="1" rx="0" />
<rect x="442.49" y="57.22" width="10.70" height="4.04" fill="#94b3d6" stroke="none" stroke-width="1" rx="0" />
<rect x="442.49" y="60.65" width="10.70" height="4.04" fill="#91b2d5" stroke="none" stroke-width="1" rx="0" />
<rect x="442.49" y="64.09" width="10.70" height="4.04" fill="#94b4d6" stroke="none" stroke-width="1" rx="0" />
<rect x="442.49" y="67.52" width="10.70" height="4.04" fill="#97b6d7" stroke="none" stroke-width="1" rx="0" />
<rect x="442.49" y="70.95" width="10.70" height="4.04" fill="#99b8d8" stroke="none" stroke-width="1" rx="0" />
<rect x="442.49" y="74.39" width="10.70" height="4.04" fill="#9cbad9" stroke="none" stroke-width="1" rx="0" />
<rect x="442.49" y="77.83" width="10.70" height="4.04" fill="#9fbcda" stroke="none" stroke-width="1" rx="0" />
<rect x="442.49" y="81.26" width="10.70" height="4.04" fill="#a2bedb" stroke="none" stroke-width="1" rx="0" />
<rect x="442.49" y="84.70" width="10.70" height="4.04" fill="#a5c0dc" stroke="none" stroke-width="1" rx="0" />
<rect x="442.49" y="88.13" width="10.70" height="4.04" fill="#a8c2dd" stroke="none" stroke-width="1" rx="0" />
<rect x="442.49" y="91.56" width="10.70" height="3.44" fill="#abc4df" stroke="none" stroke-width="1" rx="0" />
<rect x="452.58" y="26.30" width="10.70" height="4.04" fill="#c80008" stroke="none" stroke-width="1" rx="0" />
<rect x="452.58" y="29.73" width="10.70" height="4.04" fill="#c9040b" stroke="none" stroke-width="1" rx="0" />
<rect x="452.58" y="33.17" width="10.70" height="4.04" fill="#cd1619" stroke="none" stroke-width="1" rx="0" />
<rect x="452.58" y="36.61" width="10.70" height="4.04" fill="#d12b2b" stroke="none" stroke-width="1" rx="0" />
<rect x="452.58" y="40.04" width="10.70" height="4.04" fill="#d64343" stroke="none" stroke-width="1" rx="0" />
<rect x="452.58" y="43.48" width="10.70" height="4.04" fill="#dd6161" stroke="none" stroke-width="1" rx="0" />
<rect x="452.58" y="46.91" width="10.70" height="4.04" fill="#e37d7d" stroke="none" stroke-width="1" rx="0" />
<rect x="452.58" y="50.34" width="10.70" height="4.04" fill="#e78e8e" stroke="none" stroke-width="1" rx="0" />
<rect x="452.58" y="53.78" width="10.70" height="4.04" fill="#ea9e9e" stroke="none" stroke-width="1" rx="0" />
<rect x="452.58" y="57.22" width="10.70" height="4.04" fill="#eca6a6" stroke="none" stroke-width="1" rx="0" />
<rect x="452.58" y="60.65" width="10.70" height="4.04" fill="#edaeae" stroke="none" stroke-width="1" rx="0" />
<rect x="452.58" y="64.09" width="10.70" height="4.04" fill="#edaeae" stroke="none" stroke-width="1" rx="0" />
<rect x="452.58" y="67.52" width="10.70" height="4.04" fill="#edaeae" stroke="none" stroke-width="1" rx="0" />
<rect x="452.58" y="70.95" width="10.70" height="4.04" fill="#edaeae" stroke="none" stroke-width="1" rx="0" />
<rect x="452.58" y="74.39" width="10.70" height="4.04" fill="#edaeae" stroke="none" stroke-width="1" rx="0" />
<rect x="452.58" y="77.83" width="10.70" height="4.04" fill="#edacac" stroke="none" stroke-width="1" rx="0" />
<rect x="452.58" y="81.26" width="10.70" height="4.04" fill="#edabab" stroke="none" stroke-width="1" rx="0" />
<rect x="452.58" y="84.70" width="10.70" height="4.04" fill="#edaaaa" stroke="none" stroke-width="1" rx="0" />
<rect x="452.58" y="88.13" width="10.70" height="4.04" fill="#eca8a8" stroke="none" stroke-width="1" rx="0" />
<rect x="452.58" y="91.56" width="10.70" height="3.44" fill="#eca7a7" stroke="none" stroke-width="1" rx="0" />
<rect x="462.68" y="26.30" width="10.70" height="4.04" fill="#eef1f4" stroke="none" stroke-width="1" rx="0" />
<rect x="462.68" y="29.73" width="10.70" height="4.04" fill="#e1e9f0" stroke="none" stroke-width="1" rx="0" />
<rect x="462.68" y="33.17" width="10.70" height="4.04" fill="#d3dfec" stroke="none" stroke-width="1" rx="0" />
<rect x="462.68" y="36.61" width="10.70" height="4.04" fill="#cddcea" stroke="none" stroke-width="1" rx="0" />
<rect x="462.68" y="40.04" width="10.70" height="4.04" fill="#c8d8e8" stroke="none" stroke-width="1" rx="0" />
<rect x="462.68" y="43.48" width="10.70" height="4.04" fill="#c7d8e8" stroke="none" stroke-width="1" rx="0" />
<rect x="462.68" y="46.91" width="10.70" height="4.04" fill="#c6d7e8" stroke="none" stroke-width="1" rx="0" />
<rect x="462.68" y="50.34" width="10.70" height="4.04" fill="#c6d7e8" stroke="none" stroke-width="1" rx="0" />
<rect x="462.68" y="53.78" width="10.70" height="4.04" fill="#c5d6e8" stroke="none" stroke-width="1" rx="0" />
<rect x="462.68" y="57.22" width="10.70" height="4.04" fill="#c5d6e8" stroke="none" stroke-width="1" rx="0" />
<rect x="462.68" y="60.65" width="10.70" height="4.04" fill="#c4d6e7" stroke="none" stroke-width="1" rx="0" />
<rect x="462.68" y="64.09" width="10.70" height="4.04" fill="#c5d6e8" stroke="none" stroke-width="1" rx="0" />
<rect x="462.68" y="67.52" width="10.70" height="4.04" fill="#c6d7e8" stroke="none" stroke-width="1" rx="0" />
<rect x="462.68" y="70.95" width="10.70" height="4.04" fill="#c6d7e8" stroke="none" stroke-width="1" rx="0" />
<rect x="462.68" y="74.39" width="10.70" height="4.04" fill="#c7d8e8" stroke="none" stroke-width="1" rx="0" />
<rect x="462.68" y="77.83" width="10.70" height="4.04" fill="#c8d8e9" stroke="none" stroke-width="1" rx="0" />
<rect x="462.68" y="81.26" width="10.70" height="4.04" fill="#c9d9e9" stroke="none" stroke-width="1" rx="0" />
<rect x="462.68" y="84.70" width="10.70" height="4.04" fill="#cad9e9" stroke="none" stroke-width="1" rx="0" />
<rect x="462.68" y="88.13" width="10.70" height="4.04" fill="#cbdae9" stroke="none" stroke-width="1" rx="0" />
<rect x="462.68" y="91.56" width="10.70" height="3.44" fill="#cbdaea" stroke="none" stroke-width="1" rx="0" />
<rect x="472.77" y="26.30" width="10.70" height="4.04" fill="#f6ecec" stroke="none" stroke-width="1" rx="0" />
<rect x="472.77" y="29.73" width="10.70" height="4.04" fill="#f5e6e6" stroke="none" stroke-width="1" rx="0" />
<rect x="472.77" y="33.17" width="10.70" height="4.04" fill="#f4d6d6" stroke="none" stroke-width="1" rx="0" />
<rect x="472.77" y="36.61" width="10.70" height="4.04" fill="#f3d0d0" stroke="none" stroke-width="1" rx="0" />
<rect x="472.77" y="40.04" width="10.70" height="4.04" fill="#f2caca" stroke="none" stroke-width="1" rx="0" />
<rect x="472.77" y="43.48" width="10.70" height="4.04" fill="#f1c6c6" stroke="none" stroke-width="1" rx="0" />
<rect x="472.77" y="46.91" width="10.70" height="4.04" fill="#f1c3c3" stroke="none" stroke-width="1" rx="0" />
<rect x="472.77" y="50.34" width="10.70" height="4.04" fill="#f0bfbf" stroke="none" stroke-width="1" rx="0" />
<rect x="472.77" y="53.78" width="10.70" height="4.04" fill="#efb8b8" stroke="none" stroke-width="1" rx="0" />
<rect x="472.77" y="57.22" width="10.70" height="4.04" fill="#eeb0b0" stroke="none" stroke-width="1" rx="0" />
<rect x="472.77" y="60.65" width="10.70" height="4.04" fill="#efb9b9" stroke="none" stroke-width="1" rx="0" />
<rect x="472.77" y="64.09" width="10.70" height="4.04" fill="#f0bfbf" stroke="none" stroke-width="1" rx="0" />
<rect x="472.77" y="67.52" width="10.70" height="4.04" fill="#f1c6c6" stroke="none" stroke-width="1" rx="0" />
<rect x="472.77" y="70.95" width="10.70" height="4.04" fill="#f1c6c6" stroke="none" stroke-width="1" rx="0" />
<rect x="472.77" y="74.39" width="10.70" height="4.04" fill="#f1c7c7" stroke="none" stroke-width="1" rx="0" />
<rect x="472.77" y="77.83" width="10.70" height="4.04" fill="#f2c7c7" stroke="none" stroke-width="1" rx="0" />
<rect x="472.77" y="81.26" width="10.70" height="4.04" fill="#f2c8c8" stroke="none" stroke-width="1" rx="0" />
<rect x="472.77" y="84.70" width="10.70" height="4.04" fill="#f2c9c9" stroke="none" stroke-width="1" rx="0" />
<rect x="472.77" y="88.13" width="10.70" height="4.04" fill="#f2c9c9" stroke="none" stroke-width="1" rx="0" />
<rect x="472.77" y="91.56" width="10.70" height="3.44" fill="#f2caca" stroke="none" stroke-width="1" rx="0" />
<rect x="482.87" y="26.30" width="10.70" height="4.04" fill="#f7f7f7" stroke="none" stroke-width="1" rx="0" />
<rect x="482.87" y="29.73" width="10.70" height="4.04" fill="#f6f7f7" stroke="none" stroke-width="1" rx="0" />
<rect x="482.87" y="33.17" width="10.70" height="4.04" fill="#f6f6f7" stroke="none" stroke-width="1" rx="0" />
<rect x="482.87" y="36.61" width="10.70" height="4.04" fill="#f5f6f6" stroke="none" stroke-width="1" rx="0" />
<rect x="482.87" y="40.04" width="10.70" height="4.04" fill="#e8edf3" stroke="none" stroke-width="1" rx="0" />
<rect x="482.87" y="43.48" width="10.70" height="4.04" fill="#e7ecf2" stroke="none" stroke-width="1" rx="0" />
<rect x="482.87" y="46.91" width="10.70" height="4.04" fill="#e5ebf1" stroke="none" stroke-width="1" rx="0" />
<rect x="482.87" y="50.34" width="10.70" height="4.04" fill="#e3eaf1" stroke="none" stroke-width="1" rx="0" />
<rect x="482.87" y="53.78" width="10.70" height="4.04" fill="#e1e9f0" stroke="none" stroke-width="1" rx="0" />
<rect x="482.87" y="57.22" width="10.70" height="4.04" fill="#e0e8f0" stroke="none" stroke-width="1" rx="0" />
<rect x="482.87" y="60.65" width="10.70" height="4.04" fill="#dfe8f0" stroke="none" stroke-width="1" rx="0" />
<rect x="482.87" y="64.09" width="10.70" height="4.04" fill="#dee7ef" stroke="none" stroke-width="1" rx="0" />
<rect x="482.87" y="67.52" width="10.70" height="4.04" fill="#dee6ef" stroke="none" stroke-width="1" rx="0" />
<rect x="482.87" y="70.95" width="10.70" height="4.04" fill="#dee7ef" stroke="none" stroke-width="1" rx="0" />
<rect x="482.87" y="74.39" width="10.70" height="4.04" fill="#dfe7ef" stroke="none" stroke-width="1" rx="0" />
<rect x="482.87" y="77.83" width="10.70" height="4.04" fill="#dfe7f0" stroke="none" stroke-width="1" rx="0" />
<rect x="482.87" y="81.26" width="10.70" height="4.04" fill="#e0e8f0" stroke="none" stroke-width="1" rx="0" />
<rect x="482.87" y="84.70" width="10.70" height="4.04" fill="#e0e8f0" stroke="none" stroke-width="1" rx="0" />
<rect x="482.87" y="88.13" width="10.70" height="4.04" fill="#e1e8f0" stroke="none" stroke-width="1" rx="0" />
<rect x="482.87" y="91.56" width="10.70" height="3.44" fill="#e1e9f0" stroke="none" stroke-width="1" rx="0" />
<rect x="492.96" y="26.30" width="10.70" height="4.04" fill="#f7f6f6" stroke="none" stroke-width="1" rx="0" />
<rect x="492.96" y="29.73" width="10.70" height="4.04" fill="#f7f6f6" stroke="none" stroke-width="1" rx="0" />
<rect x="492.96" y="33.17" width="10.70" height="4.04" fill="#f7f5f5" stroke="none" stroke-width="1" rx="0" />
<rect x="492.96" y="36.61" width="10.70" height="4.04" fill="#f7f5f5" stroke="none" stroke-width="1" rx="0" />
<rect x="492.96" y="40.04" width="10.70" height="4.04" fill="#f7f5f5" stroke="none" stroke-width="1" rx="0" />
<rect x="492.96" y="43.48" width="10.70" height="4.04" fill="#f7f4f4" stroke="none" stroke-width="1" rx="0" />
<rect x="492.96" y="46.91" width="10.70" height="4.04" fill="#f7f4f4" stroke="none" stroke-width="1" rx="0" />
<rect x="492.96" y="50.34" width="10.70" height="4.04" fill="#f5e2e2" stroke="none" stroke-width="1" rx="0" />
<rect x="492.96" y="53.78" width="10.70" height="4.04" fill="#f5e0e0" stroke="none" stroke-width="1" rx="0" />
<rect x="492.96" y="57.22" width="10.70" height="4.04" fill="#f4dede" stroke="none" stroke-width="1" rx="0" />
<rect x="492.96" y="60.65" width="10.70" height="4.04" fill="#f4dddd" stroke="none" stroke-width="1" rx="0" />
<rect x="492.96" y="64.09" width="10.70" height="4.04" fill="#f4dcdc" stroke="none" stroke-width="1" rx="0" />
<rect x="492.96" y="67.52" width="10.70" height="4.04" fill="#f4dbdb" stroke="none" stroke-width="1" rx="0" />
<rect x="492.96" y="70.95" width="10.70" height="4.04" fill="#f4dada" stroke="none" stroke-width="1" rx="0" />
<rect x="492.96" y="74.39" width="10.70" height="4.04" fill="#f4d8d8" stroke="none" stroke-width="1" rx="0" />
<rect x="492.96" y="77.83" width="10.70" height="4.04" fill="#f4d9d9" stroke="none" stroke-width="1" rx="0" />
<rect x="492.96" y="81.26" width="10.70" height="4.04" fill="#f4d9d9" stroke="none" stroke-width="1" rx="0" />
<rect x="492.96" y="84.70" width="10.70" height="4.04" fill="#f4dada" stroke="none" stroke-width="1" rx="0" />
<rect x="492.96" y="88.13" width="10.70" height="4.04" fill="#f4dada" stroke="none" stroke-width="1" rx="0" />
<rect x="492.96" y="91.56" width="10.70" height="3.44" fill="#f4dbdb" stroke="none" stroke-width="1" rx="0" />
<rect x="503.06" y="26.30" width="10.70" height="4.04" fill="#f7f7f7" stroke="none" stroke-width="1" rx="0" />
<rect x="503.06" y="29.73" width="10.70" height="4.04" fill="#f7f7f7" stroke="none" stroke-width="1" rx="0" />
<rect x="503.06" y="33.17" width="10.70" height="4.04" fill="#f7f7f7" stroke="none" stroke-width="1" rx="0" />
<rect x="503.06" y="36.61" width="10.70" height="4.04" fill="#f7f7f7" stroke="none" stroke-width="1" rx="0" />
<rect x="503.06" y="40.04" width="10.70" height="4.04" fill="#f6f7f7" stroke="none" stroke-width="1" rx="0" />
<rect x="503.06" y="43.48" width="10.70" height="4.04" fill="#f6f7f7" stroke="none" stroke-width="1" rx="0" />
<rect x="503.06" y="46.91" width="10.70" height="4.04" fill="#f6f6f7" stroke="none" stroke-width="1" rx="0" />
<rect x="503.06" y="50.34" width="10.70" height="4.04" fill="#f6f6f7" stroke="none" stroke-width="1" rx="0" />
<rect x="503.06" y="53.78" width="10.70" height="4.04" fill="#f6f6f7" stroke="none" stroke-width="1" rx="0" />
<rect x="503.06" y="57.22" width="10.70" height="4.04" fill="#f6f6f7" stroke="none" stroke-width="1" rx="0" />
<rect x="503.06" y="60.65" width="10.70" height="4.04" fill="#f5f6f7" stroke="none" stroke-width="1" rx="0" />
<rect x="503.06" y="64.09" width="10.70" height="4.04" fill="#f5f6f6" stroke="none" stroke-width="1" rx="0" />
<rect x="503.06" y="67.52" width="10.70" height="4.04" fill="#f5f6f6" stroke="none" stroke-width="1" rx="0" />
<rect x="503.06" y="70.95" width="10.70" height="4.04" fill="#f2f3f5" stroke="none" stroke-width="1" rx="0" />
<rect x="503.06" y="74.39" width="10.70" height="4.04" fill="#eef1f4" stroke="none" stroke-width="1" rx="0" />
<rect x="503.06" y="77.83" width="10.70" height="4.04" fill="#edf1f4" stroke="none" stroke-width="1" rx="0" />
<rect x="503.06" y="81.26" width="10.70" height="4.04" fill="#ecf0f4" stroke="none" stroke-width="1" rx="0" />
<rect x="503.06" y="84.70" width="10.70" height="4.04" fill="#ecf0f4" stroke="none" stroke-width="1" rx="0" />
<rect x="503.06" y="88.13" width="10.70" height="4.04" fill="#ebeff3" stroke="none" stroke-width="1" rx="0" />
<rect x="503.06" y="91.56" width="10.70" height="3.44" fill="#eaeff3" stroke="none" stroke-width="1" rx="0" />
<rect x="513.15" y="26.30" width="10.70" height="4.04" fill="#f7f6f6" stroke="none" stroke-width="1" rx="0" />
<rect x="513.15" y="29.73" width="10.70" height="4.04" fill="#f7f6f6" stroke="none" stroke-width="1" rx="0" />
<rect x="513.15" y="33.17" width="10.70" height="4.04" fill="#f7f6f6" stroke="none" stroke-width="1" rx="0" />
<rect x="513.15" y="36.61" width="10.70" height="4.04" fill="#f7f5f5" stroke="none" stroke-width="1" rx="0" />
<rect x="513.15" y="40.04" width="10.70" height="4.04" fill="#f7f5f5" stroke="none" stroke-width="1" rx="0" />
<rect x="513.15" y="43.48" width="10.70" height="4.04" fill="#f7f5f5" stroke="none" stroke-width="1" rx="0" />
<rect x="513.15" y="46.91" width="10.70" height="4.04" fill="#f7f5f5" stroke="none" stroke-width="1" rx="0" />
<rect x="513.15" y="50.34" width="10.70" height="4.04" fill="#f7f5f5" stroke="none" stroke-width="1" rx="0" />
<rect x="513.15" y="53.78" width="10.70" height="4.04" fill="#f7f4f4" stroke="none" stroke-width="1" rx="0" />
<rect x="513.15" y="57.22" width="10.70" height="4.04" fill="#f7f4f4" stroke="none" stroke-width="1" rx="0" />
<rect x="513.15" y="60.65" width="10.70" height="4.04" fill="#f7f4f4" stroke="none" stroke-width="1" rx="0" />
<rect x="513.15" y="64.09" width="10.70" height="4.04" fill="#f6f0f0" stroke="none" stroke-width="1" rx="0" />
<rect x="513.15" y="67.52" width="10.70" height="4.04" fill="#f6ecec" stroke="none" stroke-width="1" rx="0" />
<rect x="513.15" y="70.95" width="10.70" height="4.04" fill="#f6ecec" stroke="none" stroke-width="1" rx="0" />
<rect x="513.15" y="74.39" width="10.70" height="4.04" fill="#f6ebeb" stroke="none" stroke-width="1" rx="0" />
<rect x="513.15" y="77.83" width="10.70" height="4.04" fill="#f6ebeb" stroke="none" stroke-width="1" rx="0" />
<rect x="513.15" y="81.26" width="10.70" height="4.04" fill="#f6eaea" stroke="none" stroke-width="1" rx="0" />
<rect x="513.15" y="84.70" width="10.70" height="4.04" fill="#f6e9e9" stroke="none" stroke-width="1" rx="0" />
<rect x="513.15" y="88.13" width="10.70" height="4.04" fill="#f6e9e9" stroke="none" stroke-width="1" rx="0" />
<rect x="513.15" y="91.56" width="10.70" height="3.44" fill="#f6e8e8" stroke="none" stroke-width="1" rx="0" />
<rect x="523.25" y="26.30" width="10.70" height="4.04" fill="#f7f7f7" stroke="none" stroke-width="1" rx="0" />
<rect x="523.25" y="29.73" width="10.70" height="4.04" fill="#f7f7f7" stroke="none" stroke-width="1" rx="0" />
<rect x="523.25" y="33.17" width="10.70" height="4.04" fill="#f7f7f7" stroke="none" stroke-width="1" rx="0" />
<rect x="523.25" y="36.61" width="10.70" height="4.04" fill="#f7f7f7" stroke="none" stroke-width="1" rx="0" />
<rect x="523.25" y="40.04" width="10.70" height="4.04" fill="#f6f7f7" stroke="none" stroke-width="1" rx="0" />
<rect x="523.25" y="43.48" width="10.70" height="4.04" fill="#f6f7f7" stroke="none" stroke-width="1" rx="0" />
<rect x="523.25" y="46.91" width="10.70" height="4.04" fill="#f6f6f7" stroke="none" stroke-width="1" rx="0" />
<rect x="523.25" y="50.34" width="10.70" height="4.04" fill="#f6f6f7" stroke="none" stroke-width="1" rx="0" />
<rect x="523.25" y="53.78" width="10.70" height="4.04" fill="#f6f6f7" stroke="none" stroke-width="1" rx="0" />
<rect x="523.25" y="57.22" width="10.70" height="4.04" fill="#f6f6f7" stroke="none" stroke-width="1" rx="0" />
<rect x="523.25" y="60.65" width="10.70" height="4.04" fill="#f6f6f7" stroke="none" stroke-width="1" rx="0" />
<rect x="523.25" y="64.09" width="10.70" height="4.04" fill="#f6f6f7" stroke="none" stroke-width="1" rx="0" />
<rect x="523.25" y="67.52" width="10.70" height="4.04" fill="#f5f6f7" stroke="none" stroke-width="1" rx="0" />
<rect x="523.25" y="70.95" width="10.70" height="4.04" fill="#f5f6f6" stroke="none" stroke-width="1" rx="0" />
<rect x="523.25" y="74.39" width="10.70" height="4.04" fill="#f5f6f6" stroke="none" stroke-width="1" rx="0" />
<rect x="523.25" y="77.83" width="10.70" height="4.04" fill="#f1f3f5" stroke="none" stroke-width="1" rx="0" />
<rect x="523.25" y="81.26" width="10.70" height="4.04" fill="#ecf0f4" stroke="none" stroke-width="1" rx="0" />
<rect x="523.25" y="84.70" width="10.70" height="4.04" fill="#ebeff3" stroke="none" stroke-width="1" rx="0" />
<rect x="523.25" y="88.13" width="10.70" height="4.04" fill="#eaeef3" stroke="none" stroke-width="1" rx="0" />
<rect x="523.25" y="91.56" width="10.70" height="3.44" fill="#e8edf3" stroke="none" stroke-width="1" rx="0" />
<rect x="533.34" y="26.30" width="10.70" height="4.04" fill="#f7f6f6" stroke="none" stroke-width="1" rx="0" />
<rect x="533.34" y="29.73" width="10.70" height="4.04" fill="#f7f6f6" stroke="none" stroke-width="1" rx="0" />
<rect x="533.34" y="33.17" width="10.70" height="4.04" fill="#f7f6f6" stroke="none" stroke-width="1" rx="0" />
<rect x="533.34" y="36.61" width="10.70" height="4.04" fill="#f7f5f5" stroke="none" stroke-width="1" rx="0" />
<rect x="533.34" y="40.04" width="10.70" height="4.04" fill="#f7f5f5" stroke="none" stroke-width="1" rx="0" />
<rect x="533.34" y="43.48" width="10.70" height="4.04" fill="#f7f5f5" stroke="none" stroke-width="1" rx="0" />
<rect x="533.34" y="46.91" width="10.70" height="4.04" fill="#f7f5f5" stroke="none" stroke-width="1" rx="0" />
<rect x="533.34" y="50.34" width="10.70" height="4.04" fill="#f7f4f4" stroke="none" stroke-width="1" rx="0" />
<rect x="533.34" y="53.78" width="10.70" height="4.04" fill="#f7f4f4" stroke="none" stroke-width="1" rx="0" />
<rect x="533.34" y="57.22" width="10.70" height="4.04" fill="#f6f1f1" stroke="none" stroke-width="1" rx="0" />
<rect x="533.34" y="60.65" width="10.70" height="4.04" fill="#f6eeee" stroke="none" stroke-width="1" rx="0" />
<rect x="533.34" y="64.09" width="10.70" height="4.04" fill="#f6eeee" stroke="none" stroke-width="1" rx="0" />
<rect x="533.34" y="67.52" width="10.70" height="4.04" fill="#f6eded" stroke="none" stroke-width="1" rx="0" />
<rect x="533.34" y="70.95" width="10.70" height="4.04" fill="#f6eded" stroke="none" stroke-width="1" rx="0" />
<rect x="533.34" y="74.39" width="10.70" height="4.04" fill="#f6ecec" stroke="none" stroke-width="1" rx="0" />
<rect x="533.34" y="77.83" width="10.70" height="4.04" fill="#f6ecec" stroke="none" stroke-width="1" rx="0" />
<rect x="533.34" y="81.26" width="10.70" height="4.04" fill="#f6ecec" stroke="none" stroke-width="1" rx="0" />
<rect x="533.34" y="84.70" width="10.70" height="4.04" fill="#f6ebeb" stroke="none" stroke-width="1" rx="0" />
<rect x="533.34" y="88.13" width="10.70" height="4.04" fill="#f6ebeb" stroke="none" stroke-width="1" rx="0" />
<rect x="533.34" y="91.56" width="10.70" height="3.44" fill="#f6eaea" stroke="none" stroke-width="1" rx="0" />
<rect x="412.50" y="26.30" width="131.24" height="68.70" fill="none" stroke="#8c8c8c" stroke-width="0.8" rx="0" />
<line x1="409.90" y1="26.30" x2="412.50" y2="26.30" stroke="#858585" stroke-width="0.8" />
<text x="406.70" y="29.50" font-size="9.4" text-anchor="end" fill="#1a1a1a" >0</text>
<line x1="409.90" y1="60.65" x2="412.50" y2="60.65" stroke="#858585" stroke-width="0.8" />
<text x="406.70" y="63.85" font-size="9.4" text-anchor="end" fill="#1a1a1a" >10</text>
<line x1="409.90" y1="95.00" x2="412.50" y2="95.00" stroke="#858585" stroke-width="0.8" />
<text x="406.70" y="98.20" font-size="9.4" text-anchor="end" fill="#1a1a1a" >20</text>
<line x1="417.55" y1="95.00" x2="417.55" y2="97.60" stroke="#858585" stroke-width="0.8" />
<line x1="437.74" y1="95.00" x2="437.74" y2="97.60" stroke="#858585" stroke-width="0.8" />
<line x1="457.93" y1="95.00" x2="457.93" y2="97.60" stroke="#858585" stroke-width="0.8" />
<line x1="478.12" y1="95.00" x2="478.12" y2="97.60" stroke="#858585" stroke-width="0.8" />
<line x1="498.31" y1="95.00" x2="498.31" y2="97.60" stroke="#858585" stroke-width="0.8" />
<line x1="518.50" y1="95.00" x2="518.50" y2="97.60" stroke="#858585" stroke-width="0.8" />
<line x1="538.69" y1="95.00" x2="538.69" y2="97.60" stroke="#858585" stroke-width="0.8" />
<text transform="translate(389.40,61.35) rotate(-90)" font-size="9.1" text-anchor="middle" fill="#1a1a1a">Cycle, <tspan font-style="italic">t</tspan></text>
<rect x="412.20" y="111.80" width="10.70" height="4.01" fill="#f7f2f2" stroke="none" stroke-width="1" rx="0" />
<rect x="412.20" y="115.21" width="10.70" height="4.01" fill="#f7f2f2" stroke="none" stroke-width="1" rx="0" />
<rect x="412.20" y="118.62" width="10.70" height="4.01" fill="#f7f1f1" stroke="none" stroke-width="1" rx="0" />
<rect x="412.20" y="122.03" width="10.70" height="4.01" fill="#f6f1f1" stroke="none" stroke-width="1" rx="0" />
<rect x="412.20" y="125.44" width="10.70" height="4.01" fill="#f6f1f1" stroke="none" stroke-width="1" rx="0" />
<rect x="412.20" y="128.85" width="10.70" height="4.01" fill="#f6f0f0" stroke="none" stroke-width="1" rx="0" />
<rect x="412.20" y="132.26" width="10.70" height="4.01" fill="#f6f0f0" stroke="none" stroke-width="1" rx="0" />
<rect x="412.20" y="135.67" width="10.70" height="4.01" fill="#f5e2e2" stroke="none" stroke-width="1" rx="0" />
<rect x="412.20" y="139.08" width="10.70" height="4.01" fill="#f4dede" stroke="none" stroke-width="1" rx="0" />
<rect x="412.20" y="142.49" width="10.70" height="4.01" fill="#f4dbdb" stroke="none" stroke-width="1" rx="0" />
<rect x="412.20" y="145.90" width="10.70" height="4.01" fill="#f4d6d6" stroke="none" stroke-width="1" rx="0" />
<rect x="412.20" y="149.31" width="10.70" height="4.01" fill="#f3d2d2" stroke="none" stroke-width="1" rx="0" />
<rect x="412.20" y="152.72" width="10.70" height="4.01" fill="#f2cece" stroke="none" stroke-width="1" rx="0" />
<rect x="412.20" y="156.13" width="10.70" height="4.01" fill="#f2cbcb" stroke="none" stroke-width="1" rx="0" />
<rect x="412.20" y="159.54" width="10.70" height="4.01" fill="#f2c8c8" stroke="none" stroke-width="1" rx="0" />
<rect x="412.20" y="162.95" width="10.70" height="4.01" fill="#f1c5c5" stroke="none" stroke-width="1" rx="0" />
<rect x="412.20" y="166.36" width="10.70" height="4.01" fill="#f1c2c2" stroke="none" stroke-width="1" rx="0" />
<rect x="412.20" y="169.77" width="10.70" height="4.01" fill="#f0bfbf" stroke="none" stroke-width="1" rx="0" />
<rect x="412.20" y="173.18" width="10.70" height="4.01" fill="#f0bcbc" stroke="none" stroke-width="1" rx="0" />
<rect x="412.20" y="176.59" width="10.70" height="3.41" fill="#efb9b9" stroke="none" stroke-width="1" rx="0" />
<rect x="422.30" y="111.80" width="10.70" height="4.01" fill="#f5f6f6" stroke="none" stroke-width="1" rx="0" />
<rect x="422.30" y="115.21" width="10.70" height="4.01" fill="#f5f6f6" stroke="none" stroke-width="1" rx="0" />
<rect x="422.30" y="118.62" width="10.70" height="4.01" fill="#f4f5f6" stroke="none" stroke-width="1" rx="0" />
<rect x="422.30" y="122.03" width="10.70" height="4.01" fill="#f4f5f6" stroke="none" stroke-width="1" rx="0" />
<rect x="422.30" y="125.44" width="10.70" height="4.01" fill="#f3f5f6" stroke="none" stroke-width="1" rx="0" />
<rect x="422.30" y="128.85" width="10.70" height="4.01" fill="#e1e9f0" stroke="none" stroke-width="1" rx="0" />
<rect x="422.30" y="132.26" width="10.70" height="4.01" fill="#e0e8f0" stroke="none" stroke-width="1" rx="0" />
<rect x="422.30" y="135.67" width="10.70" height="4.01" fill="#dee7ef" stroke="none" stroke-width="1" rx="0" />
<rect x="422.30" y="139.08" width="10.70" height="4.01" fill="#dce6ef" stroke="none" stroke-width="1" rx="0" />
<rect x="422.30" y="142.49" width="10.70" height="4.01" fill="#dbe5ee" stroke="none" stroke-width="1" rx="0" />
<rect x="422.30" y="145.90" width="10.70" height="4.01" fill="#d9e4ee" stroke="none" stroke-width="1" rx="0" />
<rect x="422.30" y="149.31" width="10.70" height="4.01" fill="#d8e3ed" stroke="none" stroke-width="1" rx="0" />
<rect x="422.30" y="152.72" width="10.70" height="4.01" fill="#d6e2ed" stroke="none" stroke-width="1" rx="0" />
<rect x="422.30" y="156.13" width="10.70" height="4.01" fill="#d7e2ed" stroke="none" stroke-width="1" rx="0" />
<rect x="422.30" y="159.54" width="10.70" height="4.01" fill="#d7e2ed" stroke="none" stroke-width="1" rx="0" />
<rect x="422.30" y="162.95" width="10.70" height="4.01" fill="#d8e3ed" stroke="none" stroke-width="1" rx="0" />
<rect x="422.30" y="166.36" width="10.70" height="4.01" fill="#d8e3ee" stroke="none" stroke-width="1" rx="0" />
<rect x="422.30" y="169.77" width="10.70" height="4.01" fill="#d9e3ee" stroke="none" stroke-width="1" rx="0" />
<rect x="422.30" y="173.18" width="10.70" height="4.01" fill="#d9e4ee" stroke="none" stroke-width="1" rx="0" />
<rect x="422.30" y="176.59" width="10.70" height="3.41" fill="#dae4ee" stroke="none" stroke-width="1" rx="0" />
<rect x="432.39" y="111.80" width="10.70" height="4.01" fill="#f7f2f2" stroke="none" stroke-width="1" rx="0" />
<rect x="432.39" y="115.21" width="10.70" height="4.01" fill="#f6ecec" stroke="none" stroke-width="1" rx="0" />
<rect x="432.39" y="118.62" width="10.70" height="4.01" fill="#f4dbdb" stroke="none" stroke-width="1" rx="0" />
<rect x="432.39" y="122.03" width="10.70" height="4.01" fill="#f4d8d8" stroke="none" stroke-width="1" rx="0" />
<rect x="432.39" y="125.44" width="10.70" height="4.01" fill="#f4d6d6" stroke="none" stroke-width="1" rx="0" />
<rect x="432.39" y="128.85" width="10.70" height="4.01" fill="#f3d4d4" stroke="none" stroke-width="1" rx="0" />
<rect x="432.39" y="132.26" width="10.70" height="4.01" fill="#f3d2d2" stroke="none" stroke-width="1" rx="0" />
<rect x="432.39" y="135.67" width="10.70" height="4.01" fill="#f3d0d0" stroke="none" stroke-width="1" rx="0" />
<rect x="432.39" y="139.08" width="10.70" height="4.01" fill="#f2cece" stroke="none" stroke-width="1" rx="0" />
<rect x="432.39" y="142.49" width="10.70" height="4.01" fill="#f2cece" stroke="none" stroke-width="1" rx="0" />
<rect x="432.39" y="145.90" width="10.70" height="4.01" fill="#f2cece" stroke="none" stroke-width="1" rx="0" />
<rect x="432.39" y="149.31" width="10.70" height="4.01" fill="#f2cece" stroke="none" stroke-width="1" rx="0" />
<rect x="432.39" y="152.72" width="10.70" height="4.01" fill="#f2cece" stroke="none" stroke-width="1" rx="0" />
<rect x="432.39" y="156.13" width="10.70" height="4.01" fill="#f2cece" stroke="none" stroke-width="1" rx="0" />
<rect x="432.39" y="159.54" width="10.70" height="4.01" fill="#f2cece" stroke="none" stroke-width="1" rx="0" />
<rect x="432.39" y="162.95" width="10.70" height="4.01" fill="#f2cece" stroke="none" stroke-width="1" rx="0" />
<rect x="432.39" y="166.36" width="10.70" height="4.01" fill="#f2cece" stroke="none" stroke-width="1" rx="0" />
<rect x="432.39" y="169.77" width="10.70" height="4.01" fill="#f2cece" stroke="none" stroke-width="1" rx="0" />
<rect x="432.39" y="173.18" width="10.70" height="4.01" fill="#f2cece" stroke="none" stroke-width="1" rx="0" />
<rect x="432.39" y="176.59" width="10.70" height="3.41" fill="#f2cece" stroke="none" stroke-width="1" rx="0" />
<rect x="442.49" y="111.80" width="10.70" height="4.01" fill="#f3f5f6" stroke="none" stroke-width="1" rx="0" />
<rect x="442.49" y="115.21" width="10.70" height="4.01" fill="#e5ebf1" stroke="none" stroke-width="1" rx="0" />
<rect x="442.49" y="118.62" width="10.70" height="4.01" fill="#e3eaf1" stroke="none" stroke-width="1" rx="0" />
<rect x="442.49" y="122.03" width="10.70" height="4.01" fill="#e1e9f0" stroke="none" stroke-width="1" rx="0" />
<rect x="442.49" y="125.44" width="10.70" height="4.01" fill="#dfe8f0" stroke="none" stroke-width="1" rx="0" />
<rect x="442.49" y="128.85" width="10.70" height="4.01" fill="#dee6ef" stroke="none" stroke-width="1" rx="0" />
<rect x="442.49" y="132.26" width="10.70" height="4.01" fill="#dde6ef" stroke="none" stroke-width="1" rx="0" />
<rect x="442.49" y="135.67" width="10.70" height="4.01" fill="#dce6ef" stroke="none" stroke-width="1" rx="0" />
<rect x="442.49" y="139.08" width="10.70" height="4.01" fill="#dce5ef" stroke="none" stroke-width="1" rx="0" />
<rect x="442.49" y="142.49" width="10.70" height="4.01" fill="#dbe5ef" stroke="none" stroke-width="1" rx="0" />
<rect x="442.49" y="145.90" width="10.70" height="4.01" fill="#dbe5ee" stroke="none" stroke-width="1" rx="0" />
<rect x="442.49" y="149.31" width="10.70" height="4.01" fill="#dae4ee" stroke="none" stroke-width="1" rx="0" />
<rect x="442.49" y="152.72" width="10.70" height="4.01" fill="#dae4ee" stroke="none" stroke-width="1" rx="0" />
<rect x="442.49" y="156.13" width="10.70" height="4.01" fill="#dae4ee" stroke="none" stroke-width="1" rx="0" />
<rect x="442.49" y="159.54" width="10.70" height="4.01" fill="#dae4ee" stroke="none" stroke-width="1" rx="0" />
<rect x="442.49" y="162.95" width="10.70" height="4.01" fill="#dbe4ee" stroke="none" stroke-width="1" rx="0" />
<rect x="442.49" y="166.36" width="10.70" height="4.01" fill="#dbe5ee" stroke="none" stroke-width="1" rx="0" />
<rect x="442.49" y="169.77" width="10.70" height="4.01" fill="#dbe5ee" stroke="none" stroke-width="1" rx="0" />
<rect x="442.49" y="173.18" width="10.70" height="4.01" fill="#dbe5ef" stroke="none" stroke-width="1" rx="0" />
<rect x="442.49" y="176.59" width="10.70" height="3.41" fill="#dce5ef" stroke="none" stroke-width="1" rx="0" />
<rect x="452.58" y="111.80" width="10.70" height="4.01" fill="#c80008" stroke="none" stroke-width="1" rx="0" />
<rect x="452.58" y="115.21" width="10.70" height="4.01" fill="#c9040b" stroke="none" stroke-width="1" rx="0" />
<rect x="452.58" y="118.62" width="10.70" height="4.01" fill="#ca0b10" stroke="none" stroke-width="1" rx="0" />
<rect x="452.58" y="122.03" width="10.70" height="4.01" fill="#d22c2c" stroke="none" stroke-width="1" rx="0" />
<rect x="452.58" y="125.44" width="10.70" height="4.01" fill="#d94d4d" stroke="none" stroke-width="1" rx="0" />
<rect x="452.58" y="128.85" width="10.70" height="4.01" fill="#df6a6a" stroke="none" stroke-width="1" rx="0" />
<rect x="452.58" y="132.26" width="10.70" height="4.01" fill="#e48181" stroke="none" stroke-width="1" rx="0" />
<rect x="452.58" y="135.67" width="10.70" height="4.01" fill="#e99797" stroke="none" stroke-width="1" rx="0" />
<rect x="452.58" y="139.08" width="10.70" height="4.01" fill="#ea9e9e" stroke="none" stroke-width="1" rx="0" />
<rect x="452.58" y="142.49" width="10.70" height="4.01" fill="#eca5a5" stroke="none" stroke-width="1" rx="0" />
<rect x="452.58" y="145.90" width="10.70" height="4.01" fill="#edabab" stroke="none" stroke-width="1" rx="0" />
<rect x="452.58" y="149.31" width="10.70" height="4.01" fill="#edacac" stroke="none" stroke-width="1" rx="0" />
<rect x="452.58" y="152.72" width="10.70" height="4.01" fill="#edadad" stroke="none" stroke-width="1" rx="0" />
<rect x="452.58" y="156.13" width="10.70" height="4.01" fill="#edaeae" stroke="none" stroke-width="1" rx="0" />
<rect x="452.58" y="159.54" width="10.70" height="4.01" fill="#eeafaf" stroke="none" stroke-width="1" rx="0" />
<rect x="452.58" y="162.95" width="10.70" height="4.01" fill="#eeb0b0" stroke="none" stroke-width="1" rx="0" />
<rect x="452.58" y="166.36" width="10.70" height="4.01" fill="#eeb2b2" stroke="none" stroke-width="1" rx="0" />
<rect x="452.58" y="169.77" width="10.70" height="4.01" fill="#efb4b4" stroke="none" stroke-width="1" rx="0" />
<rect x="452.58" y="173.18" width="10.70" height="4.01" fill="#efb7b7" stroke="none" stroke-width="1" rx="0" />
<rect x="452.58" y="176.59" width="10.70" height="3.41" fill="#efb9b9" stroke="none" stroke-width="1" rx="0" />
<rect x="462.68" y="111.80" width="10.70" height="4.01" fill="#f3f5f6" stroke="none" stroke-width="1" rx="0" />
<rect x="462.68" y="115.21" width="10.70" height="4.01" fill="#eef1f4" stroke="none" stroke-width="1" rx="0" />
<rect x="462.68" y="118.62" width="10.70" height="4.01" fill="#d3dfec" stroke="none" stroke-width="1" rx="0" />
<rect x="462.68" y="122.03" width="10.70" height="4.01" fill="#cfddeb" stroke="none" stroke-width="1" rx="0" />
<rect x="462.68" y="125.44" width="10.70" height="4.01" fill="#cbdaea" stroke="none" stroke-width="1" rx="0" />
<rect x="462.68" y="128.85" width="10.70" height="4.01" fill="#c8d8e8" stroke="none" stroke-width="1" rx="0" />
<rect x="462.68" y="132.26" width="10.70" height="4.01" fill="#c4d6e7" stroke="none" stroke-width="1" rx="0" />
<rect x="462.68" y="135.67" width="10.70" height="4.01" fill="#c7d7e8" stroke="none" stroke-width="1" rx="0" />
<rect x="462.68" y="139.08" width="10.70" height="4.01" fill="#cad9e9" stroke="none" stroke-width="1" rx="0" />
<rect x="462.68" y="142.49" width="10.70" height="4.01" fill="#ccdbea" stroke="none" stroke-width="1" rx="0" />
<rect x="462.68" y="145.90" width="10.70" height="4.01" fill="#cfddeb" stroke="none" stroke-width="1" rx="0" />
<rect x="462.68" y="149.31" width="10.70" height="4.01" fill="#cfddeb" stroke="none" stroke-width="1" rx="0" />
<rect x="462.68" y="152.72" width="10.70" height="4.01" fill="#cfddeb" stroke="none" stroke-width="1" rx="0" />
<rect x="462.68" y="156.13" width="10.70" height="4.01" fill="#cfddeb" stroke="none" stroke-width="1" rx="0" />
<rect x="462.68" y="159.54" width="10.70" height="4.01" fill="#cfddeb" stroke="none" stroke-width="1" rx="0" />
<rect x="462.68" y="162.95" width="10.70" height="4.01" fill="#cfddeb" stroke="none" stroke-width="1" rx="0" />
<rect x="462.68" y="166.36" width="10.70" height="4.01" fill="#cfddeb" stroke="none" stroke-width="1" rx="0" />
<rect x="462.68" y="169.77" width="10.70" height="4.01" fill="#cfddeb" stroke="none" stroke-width="1" rx="0" />
<rect x="462.68" y="173.18" width="10.70" height="4.01" fill="#cfddeb" stroke="none" stroke-width="1" rx="0" />
<rect x="462.68" y="176.59" width="10.70" height="3.41" fill="#cfddeb" stroke="none" stroke-width="1" rx="0" />
<rect x="472.77" y="111.80" width="10.70" height="4.01" fill="#c80008" stroke="none" stroke-width="1" rx="0" />
<rect x="472.77" y="115.21" width="10.70" height="4.01" fill="#c8020a" stroke="none" stroke-width="1" rx="0" />
<rect x="472.77" y="118.62" width="10.70" height="4.01" fill="#c9040b" stroke="none" stroke-width="1" rx="0" />
<rect x="472.77" y="122.03" width="10.70" height="4.01" fill="#d33333" stroke="none" stroke-width="1" rx="0" />
<rect x="472.77" y="125.44" width="10.70" height="4.01" fill="#db5a5a" stroke="none" stroke-width="1" rx="0" />
<rect x="472.77" y="128.85" width="10.70" height="4.01" fill="#e37d7d" stroke="none" stroke-width="1" rx="0" />
<rect x="472.77" y="132.26" width="10.70" height="4.01" fill="#e78e8e" stroke="none" stroke-width="1" rx="0" />
<rect x="472.77" y="135.67" width="10.70" height="4.01" fill="#ea9e9e" stroke="none" stroke-width="1" rx="0" />
<rect x="472.77" y="139.08" width="10.70" height="4.01" fill="#eba0a0" stroke="none" stroke-width="1" rx="0" />
<rect x="472.77" y="142.49" width="10.70" height="4.01" fill="#eba2a2" stroke="none" stroke-width="1" rx="0" />
<rect x="472.77" y="145.90" width="10.70" height="4.01" fill="#eba3a3" stroke="none" stroke-width="1" rx="0" />
<rect x="472.77" y="149.31" width="10.70" height="4.01" fill="#eca5a5" stroke="none" stroke-width="1" rx="0" />
<rect x="472.77" y="152.72" width="10.70" height="4.01" fill="#eca7a7" stroke="none" stroke-width="1" rx="0" />
<rect x="472.77" y="156.13" width="10.70" height="4.01" fill="#eca8a8" stroke="none" stroke-width="1" rx="0" />
<rect x="472.77" y="159.54" width="10.70" height="4.01" fill="#eda9a9" stroke="none" stroke-width="1" rx="0" />
<rect x="472.77" y="162.95" width="10.70" height="4.01" fill="#edabab" stroke="none" stroke-width="1" rx="0" />
<rect x="472.77" y="166.36" width="10.70" height="4.01" fill="#edacac" stroke="none" stroke-width="1" rx="0" />
<rect x="472.77" y="169.77" width="10.70" height="4.01" fill="#edadad" stroke="none" stroke-width="1" rx="0" />
<rect x="472.77" y="173.18" width="10.70" height="4.01" fill="#edafaf" stroke="none" stroke-width="1" rx="0" />
<rect x="472.77" y="176.59" width="10.70" height="3.41" fill="#eeb0b0" stroke="none" stroke-width="1" rx="0" />
<rect x="482.87" y="111.80" width="10.70" height="4.01" fill="#f3f5f6" stroke="none" stroke-width="1" rx="0" />
<rect x="482.87" y="115.21" width="10.70" height="4.01" fill="#f2f4f6" stroke="none" stroke-width="1" rx="0" />
<rect x="482.87" y="118.62" width="10.70" height="4.01" fill="#f2f3f5" stroke="none" stroke-width="1" rx="0" />
<rect x="482.87" y="122.03" width="10.70" height="4.01" fill="#d3dfec" stroke="none" stroke-width="1" rx="0" />
<rect x="482.87" y="125.44" width="10.70" height="4.01" fill="#d0deeb" stroke="none" stroke-width="1" rx="0" />
<rect x="482.87" y="128.85" width="10.70" height="4.01" fill="#cedcea" stroke="none" stroke-width="1" rx="0" />
<rect x="482.87" y="132.26" width="10.70" height="4.01" fill="#cbdae9" stroke="none" stroke-width="1" rx="0" />
<rect x="482.87" y="135.67" width="10.70" height="4.01" fill="#c8d9e9" stroke="none" stroke-width="1" rx="0" />
<rect x="482.87" y="139.08" width="10.70" height="4.01" fill="#c6d7e8" stroke="none" stroke-width="1" rx="0" />
<rect x="482.87" y="142.49" width="10.70" height="4.01" fill="#c8d8e9" stroke="none" stroke-width="1" rx="0" />
<rect x="482.87" y="145.90" width="10.70" height="4.01" fill="#cadae9" stroke="none" stroke-width="1" rx="0" />
<rect x="482.87" y="149.31" width="10.70" height="4.01" fill="#cddbea" stroke="none" stroke-width="1" rx="0" />
<rect x="482.87" y="152.72" width="10.70" height="4.01" fill="#cfddeb" stroke="none" stroke-width="1" rx="0" />
<rect x="482.87" y="156.13" width="10.70" height="4.01" fill="#cfddeb" stroke="none" stroke-width="1" rx="0" />
<rect x="482.87" y="159.54" width="10.70" height="4.01" fill="#d0deeb" stroke="none" stroke-width="1" rx="0" />
<rect x="482.87" y="162.95" width="10.70" height="4.01" fill="#d1deeb" stroke="none" stroke-width="1" rx="0" />
<rect x="482.87" y="166.36" width="10.70" height="4.01" fill="#d1deeb" stroke="none" stroke-width="1" rx="0" />
<rect x="482.87" y="169.77" width="10.70" height="4.01" fill="#d2dfeb" stroke="none" stroke-width="1" rx="0" />
<rect x="482.87" y="173.18" width="10.70" height="4.01" fill="#d2dfec" stroke="none" stroke-width="1" rx="0" />
<rect x="482.87" y="176.59" width="10.70" height="3.41" fill="#d3dfec" stroke="none" stroke-width="1" rx="0" />
<rect x="492.96" y="111.80" width="10.70" height="4.01" fill="#f7f2f2" stroke="none" stroke-width="1" rx="0" />
<rect x="492.96" y="115.21" width="10.70" height="4.01" fill="#f6eeee" stroke="none" stroke-width="1" rx="0" />
<rect x="492.96" y="118.62" width="10.70" height="4.01" fill="#f4d6d6" stroke="none" stroke-width="1" rx="0" />
<rect x="492.96" y="122.03" width="10.70" height="4.01" fill="#f0bdbd" stroke="none" stroke-width="1" rx="0" />
<rect x="492.96" y="125.44" width="10.70" height="4.01" fill="#eeb0b0" stroke="none" stroke-width="1" rx="0" />
<rect x="492.96" y="128.85" width="10.70" height="4.01" fill="#eba2a2" stroke="none" stroke-width="1" rx="0" />
<rect x="492.96" y="132.26" width="10.70" height="4.01" fill="#e99999" stroke="none" stroke-width="1" rx="0" />
<rect x="492.96" y="135.67" width="10.70" height="4.01" fill="#e78f8f" stroke="none" stroke-width="1" rx="0" />
<rect x="492.96" y="139.08" width="10.70" height="4.01" fill="#e89292" stroke="none" stroke-width="1" rx="0" />
<rect x="492.96" y="142.49" width="10.70" height="4.01" fill="#e89494" stroke="none" stroke-width="1" rx="0" />
<rect x="492.96" y="145.90" width="10.70" height="4.01" fill="#ea9c9c" stroke="none" stroke-width="1" rx="0" />
<rect x="492.96" y="149.31" width="10.70" height="4.01" fill="#eba2a2" stroke="none" stroke-width="1" rx="0" />
<rect x="492.96" y="152.72" width="10.70" height="4.01" fill="#eca6a6" stroke="none" stroke-width="1" rx="0" />
<rect x="492.96" y="156.13" width="10.70" height="4.01" fill="#eca9a9" stroke="none" stroke-width="1" rx="0" />
<rect x="492.96" y="159.54" width="10.70" height="4.01" fill="#edacac" stroke="none" stroke-width="1" rx="0" />
<rect x="492.96" y="162.95" width="10.70" height="4.01" fill="#eeb0b0" stroke="none" stroke-width="1" rx="0" />
<rect x="492.96" y="166.36" width="10.70" height="4.01" fill="#eeb2b2" stroke="none" stroke-width="1" rx="0" />
<rect x="492.96" y="169.77" width="10.70" height="4.01" fill="#efb4b4" stroke="none" stroke-width="1" rx="0" />
<rect x="492.96" y="173.18" width="10.70" height="4.01" fill="#efb7b7" stroke="none" stroke-width="1" rx="0" />
<rect x="492.96" y="176.59" width="10.70" height="3.41" fill="#efb9b9" stroke="none" stroke-width="1" rx="0" />
<rect x="503.06" y="111.80" width="10.70" height="4.01" fill="#f7f7f7" stroke="none" stroke-width="1" rx="0" />
<rect x="503.06" y="115.21" width="10.70" height="4.01" fill="#f7f7f7" stroke="none" stroke-width="1" rx="0" />
<rect x="503.06" y="118.62" width="10.70" height="4.01" fill="#f6f7f7" stroke="none" stroke-width="1" rx="0" />
<rect x="503.06" y="122.03" width="10.70" height="4.01" fill="#f6f6f7" stroke="none" stroke-width="1" rx="0" />
<rect x="503.06" y="125.44" width="10.70" height="4.01" fill="#f6f6f7" stroke="none" stroke-width="1" rx="0" />
<rect x="503.06" y="128.85" width="10.70" height="4.01" fill="#f5f6f7" stroke="none" stroke-width="1" rx="0" />
<rect x="503.06" y="132.26" width="10.70" height="4.01" fill="#f5f6f6" stroke="none" stroke-width="1" rx="0" />
<rect x="503.06" y="135.67" width="10.70" height="4.01" fill="#e5ebf1" stroke="none" stroke-width="1" rx="0" />
<rect x="503.06" y="139.08" width="10.70" height="4.01" fill="#e4ebf1" stroke="none" stroke-width="1" rx="0" />
<rect x="503.06" y="142.49" width="10.70" height="4.01" fill="#e3eaf1" stroke="none" stroke-width="1" rx="0" />
<rect x="503.06" y="145.90" width="10.70" height="4.01" fill="#e3eaf1" stroke="none" stroke-width="1" rx="0" />
<rect x="503.06" y="149.31" width="10.70" height="4.01" fill="#e2e9f1" stroke="none" stroke-width="1" rx="0" />
<rect x="503.06" y="152.72" width="10.70" height="4.01" fill="#e1e9f0" stroke="none" stroke-width="1" rx="0" />
<rect x="503.06" y="156.13" width="10.70" height="4.01" fill="#e0e8f0" stroke="none" stroke-width="1" rx="0" />
<rect x="503.06" y="159.54" width="10.70" height="4.01" fill="#e0e8f0" stroke="none" stroke-width="1" rx="0" />
<rect x="503.06" y="162.95" width="10.70" height="4.01" fill="#dfe7f0" stroke="none" stroke-width="1" rx="0" />
<rect x="503.06" y="166.36" width="10.70" height="4.01" fill="#dee7ef" stroke="none" stroke-width="1" rx="0" />
<rect x="503.06" y="169.77" width="10.70" height="4.01" fill="#dde6ef" stroke="none" stroke-width="1" rx="0" />
<rect x="503.06" y="173.18" width="10.70" height="4.01" fill="#dce6ef" stroke="none" stroke-width="1" rx="0" />
<rect x="503.06" y="176.59" width="10.70" height="3.41" fill="#dce5ef" stroke="none" stroke-width="1" rx="0" />
<rect x="513.15" y="111.80" width="10.70" height="4.01" fill="#f7f6f6" stroke="none" stroke-width="1" rx="0" />
<rect x="513.15" y="115.21" width="10.70" height="4.01" fill="#f7f6f6" stroke="none" stroke-width="1" rx="0" />
<rect x="513.15" y="118.62" width="10.70" height="4.01" fill="#f7f5f5" stroke="none" stroke-width="1" rx="0" />
<rect x="513.15" y="122.03" width="10.70" height="4.01" fill="#f7f5f5" stroke="none" stroke-width="1" rx="0" />
<rect x="513.15" y="125.44" width="10.70" height="4.01" fill="#f7f5f5" stroke="none" stroke-width="1" rx="0" />
<rect x="513.15" y="128.85" width="10.70" height="4.01" fill="#f7f4f4" stroke="none" stroke-width="1" rx="0" />
<rect x="513.15" y="132.26" width="10.70" height="4.01" fill="#f7f4f4" stroke="none" stroke-width="1" rx="0" />
<rect x="513.15" y="135.67" width="10.70" height="4.01" fill="#f6eded" stroke="none" stroke-width="1" rx="0" />
<rect x="513.15" y="139.08" width="10.70" height="4.01" fill="#f5e6e6" stroke="none" stroke-width="1" rx="0" />
<rect x="513.15" y="142.49" width="10.70" height="4.01" fill="#f5e6e6" stroke="none" stroke-width="1" rx="0" />
<rect x="513.15" y="145.90" width="10.70" height="4.01" fill="#f5e6e6" stroke="none" stroke-width="1" rx="0" />
<rect x="513.15" y="149.31" width="10.70" height="4.01" fill="#f5e5e5" stroke="none" stroke-width="1" rx="0" />
<rect x="513.15" y="152.72" width="10.70" height="4.01" fill="#f5e5e5" stroke="none" stroke-width="1" rx="0" />
<rect x="513.15" y="156.13" width="10.70" height="4.01" fill="#f5e5e5" stroke="none" stroke-width="1" rx="0" />
<rect x="513.15" y="159.54" width="10.70" height="4.01" fill="#f5e4e4" stroke="none" stroke-width="1" rx="0" />
<rect x="513.15" y="162.95" width="10.70" height="4.01" fill="#f5e4e4" stroke="none" stroke-width="1" rx="0" />
<rect x="513.15" y="166.36" width="10.70" height="4.01" fill="#f5e3e3" stroke="none" stroke-width="1" rx="0" />
<rect x="513.15" y="169.77" width="10.70" height="4.01" fill="#f5e3e3" stroke="none" stroke-width="1" rx="0" />
<rect x="513.15" y="173.18" width="10.70" height="4.01" fill="#f5e3e3" stroke="none" stroke-width="1" rx="0" />
<rect x="513.15" y="176.59" width="10.70" height="3.41" fill="#f5e2e2" stroke="none" stroke-width="1" rx="0" />
<rect x="523.25" y="111.80" width="10.70" height="4.01" fill="#f7f7f7" stroke="none" stroke-width="1" rx="0" />
<rect x="523.25" y="115.21" width="10.70" height="4.01" fill="#f7f7f7" stroke="none" stroke-width="1" rx="0" />
<rect x="523.25" y="118.62" width="10.70" height="4.01" fill="#f6f7f7" stroke="none" stroke-width="1" rx="0" />
<rect x="523.25" y="122.03" width="10.70" height="4.01" fill="#f6f6f7" stroke="none" stroke-width="1" rx="0" />
<rect x="523.25" y="125.44" width="10.70" height="4.01" fill="#f6f6f7" stroke="none" stroke-width="1" rx="0" />
<rect x="523.25" y="128.85" width="10.70" height="4.01" fill="#f6f6f7" stroke="none" stroke-width="1" rx="0" />
<rect x="523.25" y="132.26" width="10.70" height="4.01" fill="#f5f6f7" stroke="none" stroke-width="1" rx="0" />
<rect x="523.25" y="135.67" width="10.70" height="4.01" fill="#f5f6f6" stroke="none" stroke-width="1" rx="0" />
<rect x="523.25" y="139.08" width="10.70" height="4.01" fill="#f2f3f5" stroke="none" stroke-width="1" rx="0" />
<rect x="523.25" y="142.49" width="10.70" height="4.01" fill="#eef1f4" stroke="none" stroke-width="1" rx="0" />
<rect x="523.25" y="145.90" width="10.70" height="4.01" fill="#edf1f4" stroke="none" stroke-width="1" rx="0" />
<rect x="523.25" y="149.31" width="10.70" height="4.01" fill="#edf0f4" stroke="none" stroke-width="1" rx="0" />
<rect x="523.25" y="152.72" width="10.70" height="4.01" fill="#ecf0f4" stroke="none" stroke-width="1" rx="0" />
<rect x="523.25" y="156.13" width="10.70" height="4.01" fill="#ecf0f4" stroke="none" stroke-width="1" rx="0" />
<rect x="523.25" y="159.54" width="10.70" height="4.01" fill="#ebeff3" stroke="none" stroke-width="1" rx="0" />
<rect x="523.25" y="162.95" width="10.70" height="4.01" fill="#ebeff3" stroke="none" stroke-width="1" rx="0" />
<rect x="523.25" y="166.36" width="10.70" height="4.01" fill="#eaeff3" stroke="none" stroke-width="1" rx="0" />
<rect x="523.25" y="169.77" width="10.70" height="4.01" fill="#eaeef3" stroke="none" stroke-width="1" rx="0" />
<rect x="523.25" y="173.18" width="10.70" height="4.01" fill="#e9eef3" stroke="none" stroke-width="1" rx="0" />
<rect x="523.25" y="176.59" width="10.70" height="3.41" fill="#e8edf3" stroke="none" stroke-width="1" rx="0" />
<rect x="533.34" y="111.80" width="10.70" height="4.01" fill="#f7f6f6" stroke="none" stroke-width="1" rx="0" />
<rect x="533.34" y="115.21" width="10.70" height="4.01" fill="#f7f6f6" stroke="none" stroke-width="1" rx="0" />
<rect x="533.34" y="118.62" width="10.70" height="4.01" fill="#f7f5f5" stroke="none" stroke-width="1" rx="0" />
<rect x="533.34" y="122.03" width="10.70" height="4.01" fill="#f7f5f5" stroke="none" stroke-width="1" rx="0" />
<rect x="533.34" y="125.44" width="10.70" height="4.01" fill="#f7f5f5" stroke="none" stroke-width="1" rx="0" />
<rect x="533.34" y="128.85" width="10.70" height="4.01" fill="#f7f4f4" stroke="none" stroke-width="1" rx="0" />
<rect x="533.34" y="132.26" width="10.70" height="4.01" fill="#f7f4f4" stroke="none" stroke-width="1" rx="0" />
<rect x="533.34" y="135.67" width="10.70" height="4.01" fill="#f6eeee" stroke="none" stroke-width="1" rx="0" />
<rect x="533.34" y="139.08" width="10.70" height="4.01" fill="#f6e8e8" stroke="none" stroke-width="1" rx="0" />
<rect x="533.34" y="142.49" width="10.70" height="4.01" fill="#f5e7e7" stroke="none" stroke-width="1" rx="0" />
<rect x="533.34" y="145.90" width="10.70" height="4.01" fill="#f5e6e6" stroke="none" stroke-width="1" rx="0" />
<rect x="533.34" y="149.31" width="10.70" height="4.01" fill="#f5e5e5" stroke="none" stroke-width="1" rx="0" />
<rect x="533.34" y="152.72" width="10.70" height="4.01" fill="#f5e4e4" stroke="none" stroke-width="1" rx="0" />
<rect x="533.34" y="156.13" width="10.70" height="4.01" fill="#f5e3e3" stroke="none" stroke-width="1" rx="0" />
<rect x="533.34" y="159.54" width="10.70" height="4.01" fill="#f5e2e2" stroke="none" stroke-width="1" rx="0" />
<rect x="533.34" y="162.95" width="10.70" height="4.01" fill="#f5e2e2" stroke="none" stroke-width="1" rx="0" />
<rect x="533.34" y="166.36" width="10.70" height="4.01" fill="#f5e2e2" stroke="none" stroke-width="1" rx="0" />
<rect x="533.34" y="169.77" width="10.70" height="4.01" fill="#f5e2e2" stroke="none" stroke-width="1" rx="0" />
<rect x="533.34" y="173.18" width="10.70" height="4.01" fill="#f5e2e2" stroke="none" stroke-width="1" rx="0" />
<rect x="533.34" y="176.59" width="10.70" height="3.41" fill="#f5e2e2" stroke="none" stroke-width="1" rx="0" />
<rect x="412.50" y="111.80" width="131.24" height="68.20" fill="none" stroke="#8c8c8c" stroke-width="0.8" rx="0" />
<line x1="409.90" y1="111.80" x2="412.50" y2="111.80" stroke="#858585" stroke-width="0.8" />
<text x="406.70" y="115.00" font-size="9.4" text-anchor="end" fill="#1a1a1a" >0</text>
<line x1="409.90" y1="145.90" x2="412.50" y2="145.90" stroke="#858585" stroke-width="0.8" />
<text x="406.70" y="149.10" font-size="9.4" text-anchor="end" fill="#1a1a1a" >10</text>
<line x1="409.90" y1="180.00" x2="412.50" y2="180.00" stroke="#858585" stroke-width="0.8" />
<text x="406.70" y="183.20" font-size="9.4" text-anchor="end" fill="#1a1a1a" >20</text>
<line x1="417.55" y1="180.00" x2="417.55" y2="182.60" stroke="#858585" stroke-width="0.8" />
<line x1="437.74" y1="180.00" x2="437.74" y2="182.60" stroke="#858585" stroke-width="0.8" />
<line x1="457.93" y1="180.00" x2="457.93" y2="182.60" stroke="#858585" stroke-width="0.8" />
<line x1="478.12" y1="180.00" x2="478.12" y2="182.60" stroke="#858585" stroke-width="0.8" />
<line x1="498.31" y1="180.00" x2="498.31" y2="182.60" stroke="#858585" stroke-width="0.8" />
<line x1="518.50" y1="180.00" x2="518.50" y2="182.60" stroke="#858585" stroke-width="0.8" />
<line x1="538.69" y1="180.00" x2="538.69" y2="182.60" stroke="#858585" stroke-width="0.8" />
<text transform="translate(389.40,146.60) rotate(-90)" font-size="9.1" text-anchor="middle" fill="#1a1a1a">Cycle, <tspan font-style="italic">t</tspan></text>
<text x="417.55" y="192.80" font-size="9.4" text-anchor="middle" fill="#1a1a1a" >1</text>
<text x="437.74" y="192.80" font-size="9.4" text-anchor="middle" fill="#1a1a1a" >3</text>
<text x="457.93" y="192.80" font-size="9.4" text-anchor="middle" fill="#1a1a1a" >5</text>
<text x="478.12" y="192.80" font-size="9.4" text-anchor="middle" fill="#1a1a1a" >7</text>
<text x="498.31" y="192.80" font-size="9.4" text-anchor="middle" fill="#1a1a1a" >9</text>
<text x="518.50" y="192.80" font-size="9.4" text-anchor="middle" fill="#1a1a1a" >11</text>
<text x="538.69" y="192.80" font-size="9.4" text-anchor="middle" fill="#1a1a1a" >13</text>
<text x="477.60" y="206.80" font-size="9.1" text-anchor="middle" fill="#1a1a1a" >Site index</text>
<defs><linearGradient id="gR" x1="0" x2="1" y1="0" y2="0"><stop offset="0" stop-color="#c9000f"/><stop offset="0.5" stop-color="#e58c8e"/><stop offset="1" stop-color="#fdf7f7"/></linearGradient><linearGradient id="gB" x1="0" x2="1" y1="0" y2="0"><stop offset="0" stop-color="#0a4c98"/><stop offset="0.5" stop-color="#8aaed4"/><stop offset="1" stop-color="#f6f8fb"/></linearGradient></defs>
<rect x="431.90" y="4.40" width="40.30" height="7.00" fill="url(#gR)" stroke="#666" stroke-width="0.7" rx="0" />
<line x1="432.50" y1="11.40" x2="432.50" y2="13.00" stroke="#666" stroke-width="0.7" />
<text x="432.50" y="23.20" font-size="9.4" text-anchor="middle" fill="#1a1a1a" >−1</text>
<line x1="452.00" y1="11.40" x2="452.00" y2="13.00" stroke="#666" stroke-width="0.7" />
<text x="452.00" y="23.20" font-size="9.4" text-anchor="middle" fill="#1a1a1a" >0</text>
<line x1="471.50" y1="11.40" x2="471.50" y2="13.00" stroke="#666" stroke-width="0.7" />
<text x="471.50" y="23.20" font-size="9.4" text-anchor="middle" fill="#1a1a1a" >1</text>
<path d="M413.70,4.20 L411.72,8.70 L413.70,13.20" stroke="#1a1a1a" fill="none" stroke-width="0.6300000000000001" fill="none" stroke-linejoin="miter"/>
<path d="M416.28,3.21 C417.27,1.57 419.25,4.22 420.24,1.95" stroke="#1a1a1a" fill="none" stroke-width="0.585" fill="none"/>
<path d="M422.47,4.20 L424.45,8.70 L422.47,13.20" stroke="#1a1a1a" fill="none" stroke-width="0.6300000000000001" fill="none" stroke-linejoin="miter"/>
<text fill="#1a1a1a"><tspan x="414.24" y="11.40" font-size="9.0" font-style="italic">K</tspan><tspan x="420.34" y="13.60" font-size="5.8" font-style="italic">i</tspan><tspan x="425.37" y="13.80" font-size="6.8">o</tspan></text>
<rect x="502.20" y="4.40" width="40.30" height="7.00" fill="url(#gB)" stroke="#666" stroke-width="0.7" rx="0" />
<line x1="502.80" y1="11.40" x2="502.80" y2="13.00" stroke="#666" stroke-width="0.7" />
<text x="502.80" y="23.20" font-size="9.4" text-anchor="middle" fill="#1a1a1a" >−1</text>
<line x1="522.30" y1="11.40" x2="522.30" y2="13.00" stroke="#666" stroke-width="0.7" />
<text x="522.30" y="23.20" font-size="9.4" text-anchor="middle" fill="#1a1a1a" >0</text>
<line x1="541.80" y1="11.40" x2="541.80" y2="13.00" stroke="#666" stroke-width="0.7" />
<text x="541.80" y="23.20" font-size="9.4" text-anchor="middle" fill="#1a1a1a" >1</text>
<path d="M485.50,4.20 L483.52,8.70 L485.50,13.20" stroke="#1a1a1a" fill="none" stroke-width="0.6300000000000001" fill="none" stroke-linejoin="miter"/>
<path d="M488.08,3.21 C489.07,1.57 491.05,4.22 492.04,1.95" stroke="#1a1a1a" fill="none" stroke-width="0.585" fill="none"/>
<path d="M494.27,4.20 L496.25,8.70 L494.27,13.20" stroke="#1a1a1a" fill="none" stroke-width="0.6300000000000001" fill="none" stroke-linejoin="miter"/>
<text fill="#1a1a1a"><tspan x="486.04" y="11.40" font-size="9.0" font-style="italic">K</tspan><tspan x="492.14" y="13.60" font-size="5.8" font-style="italic">i</tspan><tspan x="497.17" y="13.80" font-size="6.8">e</tspan></text>
<defs><linearGradient id="gJ" x1="0" x2="1" y1="0" y2="0"><stop offset="0.000" stop-color="#f9e06c"/><stop offset="0.100" stop-color="#f2c95a"/><stop offset="0.200" stop-color="#e8aa48"/><stop offset="0.300" stop-color="#d98b3a"/><stop offset="0.400" stop-color="#c66b2c"/><stop offset="0.500" stop-color="#ac4c20"/><stop offset="0.600" stop-color="#8f3618"/><stop offset="0.700" stop-color="#6d2510"/><stop offset="0.800" stop-color="#4b180a"/><stop offset="0.900" stop-color="#271006"/><stop offset="1.000" stop-color="#000000"/></linearGradient></defs>
<rect x="226.50" y="222.40" width="119.80" height="5.60" fill="url(#gJ)" stroke="#555" stroke-width="0.6" rx="0" />
<line x1="226.50" y1="228.00" x2="226.50" y2="230.00" stroke="#555" stroke-width="0.6" />
<line x1="236.48" y1="228.00" x2="236.48" y2="229.60" stroke="#555" stroke-width="0.6" />
<line x1="246.47" y1="228.00" x2="246.47" y2="229.60" stroke="#555" stroke-width="0.6" />
<line x1="256.45" y1="228.00" x2="256.45" y2="229.60" stroke="#555" stroke-width="0.6" />
<line x1="266.43" y1="228.00" x2="266.43" y2="230.00" stroke="#555" stroke-width="0.6" />
<line x1="276.42" y1="228.00" x2="276.42" y2="229.60" stroke="#555" stroke-width="0.6" />
<line x1="286.40" y1="228.00" x2="286.40" y2="229.60" stroke="#555" stroke-width="0.6" />
<line x1="296.38" y1="228.00" x2="296.38" y2="229.60" stroke="#555" stroke-width="0.6" />
<line x1="306.37" y1="228.00" x2="306.37" y2="230.00" stroke="#555" stroke-width="0.6" />
<line x1="316.35" y1="228.00" x2="316.35" y2="229.60" stroke="#555" stroke-width="0.6" />
<line x1="326.33" y1="228.00" x2="326.33" y2="229.60" stroke="#555" stroke-width="0.6" />
<line x1="336.32" y1="228.00" x2="336.32" y2="229.60" stroke="#555" stroke-width="0.6" />
<line x1="346.30" y1="228.00" x2="346.30" y2="230.00" stroke="#555" stroke-width="0.6" />
<text x="226.50" y="241.40" font-size="9.4" text-anchor="middle" fill="#1a1a1a" >0.8</text>
<text x="266.43" y="241.40" font-size="9.4" text-anchor="middle" fill="#1a1a1a" >1.6</text>
<text x="306.37" y="241.40" font-size="9.4" text-anchor="middle" fill="#1a1a1a" >2.4</text>
<text x="346.30" y="241.40" font-size="9.4" text-anchor="middle" fill="#1a1a1a" >3.2</text>
<text x="221.2" y="229.6" font-size="9" text-anchor="end" fill="#1a1a1a" font-style="italic">J<tspan font-size="5.8" dy="1.8">o</tspan><tspan dy="-1.8">/J</tspan><tspan font-size="5.8" dy="1.8">e</tspan></text>
<line x1="30.00" y1="252.00" x2="30.00" y2="342.40" stroke="#858585" stroke-width="0.9" />
<line x1="30.00" y1="342.40" x2="147.60" y2="342.40" stroke="#858585" stroke-width="0.9" />
<line x1="30.00" y1="327.00" x2="32.50" y2="327.00" stroke="#858585" stroke-width="0.9" />
<text x="26.40" y="330.20" font-size="9.4" text-anchor="end" fill="#1a1a1a" >0</text>
<line x1="30.00" y1="291.25" x2="32.50" y2="291.25" stroke="#858585" stroke-width="0.9" />
<text x="26.40" y="294.45" font-size="9.4" text-anchor="end" fill="#1a1a1a" >0.5</text>
<line x1="30.00" y1="255.50" x2="32.50" y2="255.50" stroke="#858585" stroke-width="0.9" />
<text x="26.40" y="258.70" font-size="9.4" text-anchor="end" fill="#1a1a1a" >1.0</text>
<line x1="30.00" y1="342.40" x2="30.00" y2="339.90" stroke="#858585" stroke-width="0.9" />
<text x="30.00" y="352.50" font-size="9.4" text-anchor="middle" fill="#1a1a1a" >0</text>
<line x1="67.50" y1="342.40" x2="67.50" y2="339.90" stroke="#858585" stroke-width="0.9" />
<text x="67.50" y="352.50" font-size="9.4" text-anchor="middle" fill="#1a1a1a" >10</text>
<line x1="105.00" y1="342.40" x2="105.00" y2="339.90" stroke="#858585" stroke-width="0.9" />
<text x="105.00" y="352.50" font-size="9.4" text-anchor="middle" fill="#1a1a1a" >20</text>
<line x1="142.50" y1="342.40" x2="142.50" y2="339.90" stroke="#858585" stroke-width="0.9" />
<text x="142.50" y="352.50" font-size="9.4" text-anchor="middle" fill="#1a1a1a" >30</text>
<line x1="86.25" y1="272.30" x2="86.25" y2="342.40" stroke="#808080" stroke-width="0.7" stroke-dasharray="4.5,2.2"/>
<path d="M30.00,255.50 L33.75,257.40 L37.50,262.59 L41.25,270.87 L45.00,279.97 L48.75,287.16 L52.50,294.16 L56.25,301.62 L60.00,308.44 L63.75,313.69 L67.50,318.46 L71.25,321.49 L75.00,325.07 L78.75,326.74 L82.50,329.12 L86.25,330.45 L90.00,330.46 L93.75,330.96 L97.50,329.44 L101.25,330.56 L105.00,330.54 L108.75,329.83 L112.50,328.72 L116.25,329.30 L120.00,329.87 L123.75,329.55 L127.50,328.64 L131.25,328.95 L135.00,329.16 L138.75,328.70 L142.50,328.00" stroke="#f9e06c" fill="none" stroke-width="0.75" />
<path d="M30.0,253.4v4.2M33.8,255.3v4.2M37.5,260.5v4.2M41.2,268.8v4.2M45.0,277.9v4.2M48.8,285.1v4.2M52.5,292.1v4.2M56.2,299.5v4.2M60.0,306.3v4.2M63.8,311.6v4.2M67.5,316.4v4.2M71.2,319.4v4.2M75.0,323.0v4.2M78.8,324.6v4.2M82.5,327.0v4.2M86.2,328.3v4.2M90.0,328.4v4.2M93.8,328.9v4.2M97.5,327.3v4.2M101.2,328.5v4.2M105.0,328.4v4.2M108.8,327.7v4.2M112.5,326.6v4.2M116.2,327.2v4.2M120.0,327.8v4.2M123.8,327.5v4.2M127.5,326.5v4.2M131.2,326.9v4.2M135.0,327.1v4.2M138.8,326.6v4.2M142.5,325.9v4.2" stroke="#f9e06c" fill="none" stroke-width="0.6" />
<path d="M28.9,254.4h2.1v2.1h-2.1zM32.7,256.3h2.1v2.1h-2.1zM36.5,261.5h2.1v2.1h-2.1zM40.2,269.8h2.1v2.1h-2.1zM44.0,278.9h2.1v2.1h-2.1zM47.7,286.1h2.1v2.1h-2.1zM51.5,293.1h2.1v2.1h-2.1zM55.2,300.6h2.1v2.1h-2.1zM59.0,307.4h2.1v2.1h-2.1zM62.7,312.6h2.1v2.1h-2.1zM66.5,317.4h2.1v2.1h-2.1zM70.2,320.4h2.1v2.1h-2.1zM74.0,324.0h2.1v2.1h-2.1zM77.7,325.7h2.1v2.1h-2.1zM81.5,328.1h2.1v2.1h-2.1zM85.2,329.4h2.1v2.1h-2.1zM89.0,329.4h2.1v2.1h-2.1zM92.7,329.9h2.1v2.1h-2.1zM96.5,328.4h2.1v2.1h-2.1zM100.2,329.5h2.1v2.1h-2.1zM104.0,329.5h2.1v2.1h-2.1zM107.7,328.8h2.1v2.1h-2.1zM111.5,327.7h2.1v2.1h-2.1zM115.2,328.2h2.1v2.1h-2.1zM119.0,328.8h2.1v2.1h-2.1zM122.7,328.5h2.1v2.1h-2.1zM126.5,327.6h2.1v2.1h-2.1zM130.2,327.9h2.1v2.1h-2.1zM133.9,328.1h2.1v2.1h-2.1zM137.7,327.7h2.1v2.1h-2.1zM141.4,327.0h2.1v2.1h-2.1z" stroke="none" fill="#f9e06c" stroke-width="1" />
<path d="M30.00,255.50 L33.75,258.36 L37.50,263.01 L41.25,270.26 L45.00,281.19 L48.75,287.49 L52.50,294.70 L56.25,300.62 L60.00,308.49 L63.75,313.63 L67.50,318.05 L71.25,323.63 L75.00,329.43 L78.75,333.06 L82.50,335.20 L86.25,336.79 L90.00,336.28 L93.75,337.58 L97.50,336.45 L101.25,335.72 L105.00,335.81 L108.75,334.95 L112.50,334.22 L116.25,333.30 L120.00,334.07 L123.75,332.24 L127.50,333.36 L131.25,332.21 L135.00,332.53 L138.75,330.40 L142.50,329.81" stroke="#f3cd5d" fill="none" stroke-width="0.75" />
<path d="M30.0,253.4v4.2M33.8,256.3v4.2M37.5,260.9v4.2M41.2,268.2v4.2M45.0,279.1v4.2M48.8,285.4v4.2M52.5,292.6v4.2M56.2,298.5v4.2M60.0,306.4v4.2M63.8,311.5v4.2M67.5,316.0v4.2M71.2,321.5v4.2M75.0,327.3v4.2M78.8,331.0v4.2M82.5,333.1v4.2M86.2,334.7v4.2M90.0,334.2v4.2M93.8,335.5v4.2M97.5,334.3v4.2M101.2,333.6v4.2M105.0,333.7v4.2M108.8,332.8v4.2M112.5,332.1v4.2M116.2,331.2v4.2M120.0,332.0v4.2M123.8,330.1v4.2M127.5,331.3v4.2M131.2,330.1v4.2M135.0,330.4v4.2M138.8,328.3v4.2M142.5,327.7v4.2" stroke="#f3cd5d" fill="none" stroke-width="0.6" />
<path d="M28.9,254.4h2.1v2.1h-2.1zM32.7,257.3h2.1v2.1h-2.1zM36.5,262.0h2.1v2.1h-2.1zM40.2,269.2h2.1v2.1h-2.1zM44.0,280.1h2.1v2.1h-2.1zM47.7,286.4h2.1v2.1h-2.1zM51.5,293.6h2.1v2.1h-2.1zM55.2,299.6h2.1v2.1h-2.1zM59.0,307.4h2.1v2.1h-2.1zM62.7,312.6h2.1v2.1h-2.1zM66.5,317.0h2.1v2.1h-2.1zM70.2,322.6h2.1v2.1h-2.1zM74.0,328.4h2.1v2.1h-2.1zM77.7,332.0h2.1v2.1h-2.1zM81.5,334.2h2.1v2.1h-2.1zM85.2,335.7h2.1v2.1h-2.1zM89.0,335.2h2.1v2.1h-2.1zM92.7,336.5h2.1v2.1h-2.1zM96.5,335.4h2.1v2.1h-2.1zM100.2,334.7h2.1v2.1h-2.1zM104.0,334.8h2.1v2.1h-2.1zM107.7,333.9h2.1v2.1h-2.1zM111.5,333.2h2.1v2.1h-2.1zM115.2,332.2h2.1v2.1h-2.1zM119.0,333.0h2.1v2.1h-2.1zM122.7,331.2h2.1v2.1h-2.1zM126.5,332.3h2.1v2.1h-2.1zM130.2,331.2h2.1v2.1h-2.1zM133.9,331.5h2.1v2.1h-2.1zM137.7,329.4h2.1v2.1h-2.1zM141.4,328.8h2.1v2.1h-2.1z" stroke="none" fill="#f3cd5d" stroke-width="1" />
<path d="M30.00,255.50 L33.75,256.63 L37.50,263.04 L41.25,269.71 L45.00,279.72 L48.75,287.57 L52.50,293.86 L56.25,299.44 L60.00,307.57 L63.75,311.47 L67.50,316.36 L71.25,319.55 L75.00,323.86 L78.75,325.90 L82.50,327.35 L86.25,328.29 L90.00,329.37 L93.75,327.92 L97.50,329.64 L101.25,328.87 L105.00,328.79 L108.75,329.48 L112.50,328.78 L116.25,328.05 L120.00,328.59 L123.75,328.94 L127.50,330.10 L131.25,328.99 L135.00,328.77 L138.75,328.73 L142.50,328.98" stroke="#ebb44e" fill="none" stroke-width="0.75" />
<path d="M30.0,253.4v4.2M33.8,254.5v4.2M37.5,260.9v4.2M41.2,267.6v4.2M45.0,277.6v4.2M48.8,285.5v4.2M52.5,291.8v4.2M56.2,297.3v4.2M60.0,305.5v4.2M63.8,309.4v4.2M67.5,314.3v4.2M71.2,317.5v4.2M75.0,321.8v4.2M78.8,323.8v4.2M82.5,325.2v4.2M86.2,326.2v4.2M90.0,327.3v4.2M93.8,325.8v4.2M97.5,327.5v4.2M101.2,326.8v4.2M105.0,326.7v4.2M108.8,327.4v4.2M112.5,326.7v4.2M116.2,325.9v4.2M120.0,326.5v4.2M123.8,326.8v4.2M127.5,328.0v4.2M131.2,326.9v4.2M135.0,326.7v4.2M138.8,326.6v4.2M142.5,326.9v4.2" stroke="#ebb44e" fill="none" stroke-width="0.6" />
<path d="M28.9,254.4h2.1v2.1h-2.1zM32.7,255.6h2.1v2.1h-2.1zM36.5,262.0h2.1v2.1h-2.1zM40.2,268.7h2.1v2.1h-2.1zM44.0,278.7h2.1v2.1h-2.1zM47.7,286.5h2.1v2.1h-2.1zM51.5,292.8h2.1v2.1h-2.1zM55.2,298.4h2.1v2.1h-2.1zM59.0,306.5h2.1v2.1h-2.1zM62.7,310.4h2.1v2.1h-2.1zM66.5,315.3h2.1v2.1h-2.1zM70.2,318.5h2.1v2.1h-2.1zM74.0,322.8h2.1v2.1h-2.1zM77.7,324.8h2.1v2.1h-2.1zM81.5,326.3h2.1v2.1h-2.1zM85.2,327.2h2.1v2.1h-2.1zM89.0,328.3h2.1v2.1h-2.1zM92.7,326.9h2.1v2.1h-2.1zM96.5,328.6h2.1v2.1h-2.1zM100.2,327.8h2.1v2.1h-2.1zM104.0,327.7h2.1v2.1h-2.1zM107.7,328.4h2.1v2.1h-2.1zM111.5,327.7h2.1v2.1h-2.1zM115.2,327.0h2.1v2.1h-2.1zM119.0,327.5h2.1v2.1h-2.1zM122.7,327.9h2.1v2.1h-2.1zM126.5,329.0h2.1v2.1h-2.1zM130.2,327.9h2.1v2.1h-2.1zM133.9,327.7h2.1v2.1h-2.1zM137.7,327.7h2.1v2.1h-2.1zM141.4,327.9h2.1v2.1h-2.1z" stroke="none" fill="#ebb44e" stroke-width="1" />
<path d="M30.00,255.50 L33.75,257.97 L37.50,262.71 L41.25,269.41 L45.00,279.58 L48.75,287.85 L52.50,295.02 L56.25,300.76 L60.00,304.86 L63.75,304.88 L67.50,305.23 L71.25,305.56 L75.00,307.61 L78.75,308.71 L82.50,309.54 L86.25,309.47 L90.00,309.95 L93.75,310.71 L97.50,310.81 L101.25,311.22 L105.00,310.86 L108.75,312.52 L112.50,312.71 L116.25,313.36 L120.00,314.42 L123.75,316.04 L127.50,315.65 L131.25,317.66 L135.00,317.89 L138.75,319.42 L142.50,320.85" stroke="#e09a41" fill="none" stroke-width="0.75" />
<path d="M30.0,253.4v4.2M33.8,255.9v4.2M37.5,260.6v4.2M41.2,267.3v4.2M45.0,277.5v4.2M48.8,285.7v4.2M52.5,292.9v4.2M56.2,298.7v4.2M60.0,302.8v4.2M63.8,302.8v4.2M67.5,303.1v4.2M71.2,303.5v4.2M75.0,305.5v4.2M78.8,306.6v4.2M82.5,307.4v4.2M86.2,307.4v4.2M90.0,307.8v4.2M93.8,308.6v4.2M97.5,308.7v4.2M101.2,309.1v4.2M105.0,308.8v4.2M108.8,310.4v4.2M112.5,310.6v4.2M116.2,311.3v4.2M120.0,312.3v4.2M123.8,313.9v4.2M127.5,313.5v4.2M131.2,315.6v4.2M135.0,315.8v4.2M138.8,317.3v4.2M142.5,318.7v4.2" stroke="#e09a41" fill="none" stroke-width="0.6" />
<path d="M28.9,254.4h2.1v2.1h-2.1zM32.7,256.9h2.1v2.1h-2.1zM36.5,261.7h2.1v2.1h-2.1zM40.2,268.4h2.1v2.1h-2.1zM44.0,278.5h2.1v2.1h-2.1zM47.7,286.8h2.1v2.1h-2.1zM51.5,294.0h2.1v2.1h-2.1zM55.2,299.7h2.1v2.1h-2.1zM59.0,303.8h2.1v2.1h-2.1zM62.7,303.8h2.1v2.1h-2.1zM66.5,304.2h2.1v2.1h-2.1zM70.2,304.5h2.1v2.1h-2.1zM74.0,306.6h2.1v2.1h-2.1zM77.7,307.7h2.1v2.1h-2.1zM81.5,308.5h2.1v2.1h-2.1zM85.2,308.4h2.1v2.1h-2.1zM89.0,308.9h2.1v2.1h-2.1zM92.7,309.7h2.1v2.1h-2.1zM96.5,309.8h2.1v2.1h-2.1zM100.2,310.2h2.1v2.1h-2.1zM104.0,309.8h2.1v2.1h-2.1zM107.7,311.5h2.1v2.1h-2.1zM111.5,311.7h2.1v2.1h-2.1zM115.2,312.3h2.1v2.1h-2.1zM119.0,313.4h2.1v2.1h-2.1zM122.7,315.0h2.1v2.1h-2.1zM126.5,314.6h2.1v2.1h-2.1zM130.2,316.6h2.1v2.1h-2.1zM133.9,316.8h2.1v2.1h-2.1zM137.7,318.4h2.1v2.1h-2.1zM141.4,319.8h2.1v2.1h-2.1z" stroke="none" fill="#e09a41" stroke-width="1" />
<path d="M30.00,255.50 L33.75,257.48 L37.50,262.69 L41.25,268.93 L45.00,276.61 L48.75,284.52 L52.50,289.20 L56.25,289.44 L60.00,290.78 L63.75,292.26 L67.50,292.00 L71.25,293.67 L75.00,294.37 L78.75,294.69 L82.50,296.56 L86.25,298.64 L90.00,298.92 L93.75,299.06 L97.50,299.76 L101.25,299.83 L105.00,301.67 L108.75,301.84 L112.50,303.02 L116.25,304.35 L120.00,304.79 L123.75,305.98 L127.50,307.76 L131.25,307.65 L135.00,309.97 L138.75,310.23 L142.50,311.27" stroke="#d38035" fill="none" stroke-width="0.75" />
<path d="M30.0,253.4v4.2M33.8,255.4v4.2M37.5,260.6v4.2M41.2,266.8v4.2M45.0,274.5v4.2M48.8,282.4v4.2M52.5,287.1v4.2M56.2,287.3v4.2M60.0,288.7v4.2M63.8,290.2v4.2M67.5,289.9v4.2M71.2,291.6v4.2M75.0,292.3v4.2M78.8,292.6v4.2M82.5,294.5v4.2M86.2,296.5v4.2M90.0,296.8v4.2M93.8,297.0v4.2M97.5,297.7v4.2M101.2,297.7v4.2M105.0,299.6v4.2M108.8,299.7v4.2M112.5,300.9v4.2M116.2,302.2v4.2M120.0,302.7v4.2M123.8,303.9v4.2M127.5,305.7v4.2M131.2,305.6v4.2M135.0,307.9v4.2M138.8,308.1v4.2M142.5,309.2v4.2" stroke="#d38035" fill="none" stroke-width="0.6" />
<path d="M28.9,254.4h2.1v2.1h-2.1zM32.7,256.4h2.1v2.1h-2.1zM36.5,261.6h2.1v2.1h-2.1zM40.2,267.9h2.1v2.1h-2.1zM44.0,275.6h2.1v2.1h-2.1zM47.7,283.5h2.1v2.1h-2.1zM51.5,288.2h2.1v2.1h-2.1zM55.2,288.4h2.1v2.1h-2.1zM59.0,289.7h2.1v2.1h-2.1zM62.7,291.2h2.1v2.1h-2.1zM66.5,291.0h2.1v2.1h-2.1zM70.2,292.6h2.1v2.1h-2.1zM74.0,293.3h2.1v2.1h-2.1zM77.7,293.6h2.1v2.1h-2.1zM81.5,295.5h2.1v2.1h-2.1zM85.2,297.6h2.1v2.1h-2.1zM89.0,297.9h2.1v2.1h-2.1zM92.7,298.0h2.1v2.1h-2.1zM96.5,298.7h2.1v2.1h-2.1zM100.2,298.8h2.1v2.1h-2.1zM104.0,300.6h2.1v2.1h-2.1zM107.7,300.8h2.1v2.1h-2.1zM111.5,302.0h2.1v2.1h-2.1zM115.2,303.3h2.1v2.1h-2.1zM119.0,303.7h2.1v2.1h-2.1zM122.7,304.9h2.1v2.1h-2.1zM126.5,306.7h2.1v2.1h-2.1zM130.2,306.6h2.1v2.1h-2.1zM133.9,308.9h2.1v2.1h-2.1zM137.7,309.2h2.1v2.1h-2.1zM141.4,310.2h2.1v2.1h-2.1z" stroke="none" fill="#d38035" stroke-width="1" />
<path d="M30.00,255.50 L33.75,258.06 L37.50,262.67 L41.25,268.45 L45.00,273.52 L48.75,280.27 L52.50,283.34 L56.25,284.25 L60.00,284.13 L63.75,281.50 L67.50,283.43 L71.25,284.95 L75.00,284.72 L78.75,289.00 L82.50,291.04 L86.25,292.19 L90.00,294.19 L93.75,295.21 L97.50,296.42 L101.25,297.33 L105.00,299.33 L108.75,300.11 L112.50,300.48 L116.25,300.81 L120.00,302.04 L123.75,302.42 L127.50,303.87 L131.25,305.41 L135.00,306.05 L138.75,308.00 L142.50,308.24" stroke="#c2662a" fill="none" stroke-width="0.75" />
<path d="M30.0,253.4v4.2M33.8,256.0v4.2M37.5,260.6v4.2M41.2,266.4v4.2M45.0,271.4v4.2M48.8,278.2v4.2M52.5,281.2v4.2M56.2,282.1v4.2M60.0,282.0v4.2M63.8,279.4v4.2M67.5,281.3v4.2M71.2,282.9v4.2M75.0,282.6v4.2M78.8,286.9v4.2M82.5,288.9v4.2M86.2,290.1v4.2M90.0,292.1v4.2M93.8,293.1v4.2M97.5,294.3v4.2M101.2,295.2v4.2M105.0,297.2v4.2M108.8,298.0v4.2M112.5,298.4v4.2M116.2,298.7v4.2M120.0,299.9v4.2M123.8,300.3v4.2M127.5,301.8v4.2M131.2,303.3v4.2M135.0,303.9v4.2M138.8,305.9v4.2M142.5,306.1v4.2" stroke="#c2662a" fill="none" stroke-width="0.6" />
<path d="M28.9,254.4h2.1v2.1h-2.1zM32.7,257.0h2.1v2.1h-2.1zM36.5,261.6h2.1v2.1h-2.1zM40.2,267.4h2.1v2.1h-2.1zM44.0,272.5h2.1v2.1h-2.1zM47.7,279.2h2.1v2.1h-2.1zM51.5,282.3h2.1v2.1h-2.1zM55.2,283.2h2.1v2.1h-2.1zM59.0,283.1h2.1v2.1h-2.1zM62.7,280.4h2.1v2.1h-2.1zM66.5,282.4h2.1v2.1h-2.1zM70.2,283.9h2.1v2.1h-2.1zM74.0,283.7h2.1v2.1h-2.1zM77.7,288.0h2.1v2.1h-2.1zM81.5,290.0h2.1v2.1h-2.1zM85.2,291.1h2.1v2.1h-2.1zM89.0,293.1h2.1v2.1h-2.1zM92.7,294.2h2.1v2.1h-2.1zM96.5,295.4h2.1v2.1h-2.1zM100.2,296.3h2.1v2.1h-2.1zM104.0,298.3h2.1v2.1h-2.1zM107.7,299.1h2.1v2.1h-2.1zM111.5,299.4h2.1v2.1h-2.1zM115.2,299.8h2.1v2.1h-2.1zM119.0,301.0h2.1v2.1h-2.1zM122.7,301.4h2.1v2.1h-2.1zM126.5,302.8h2.1v2.1h-2.1zM130.2,304.4h2.1v2.1h-2.1zM133.9,305.0h2.1v2.1h-2.1zM137.7,306.9h2.1v2.1h-2.1zM141.4,307.2h2.1v2.1h-2.1z" stroke="none" fill="#c2662a" stroke-width="1" />
<path d="M30.00,255.50 L33.75,257.49 L37.50,262.28 L41.25,268.69 L45.00,273.71 L48.75,278.55 L52.50,280.60 L56.25,281.10 L60.00,280.99 L63.75,281.33 L67.50,280.10 L71.25,281.99 L75.00,284.87 L78.75,287.26 L82.50,290.00 L86.25,291.88 L90.00,292.98 L93.75,293.69 L97.50,294.53 L101.25,295.19 L105.00,296.31 L108.75,298.03 L112.50,298.75 L116.25,300.19 L120.00,301.31 L123.75,300.88 L127.50,303.24 L131.25,302.84 L135.00,305.18 L138.75,305.83 L142.50,306.36" stroke="#ac4c20" fill="none" stroke-width="0.75" />
<path d="M30.0,253.4v4.2M33.8,255.4v4.2M37.5,260.2v4.2M41.2,266.6v4.2M45.0,271.6v4.2M48.8,276.4v4.2M52.5,278.5v4.2M56.2,279.0v4.2M60.0,278.9v4.2M63.8,279.2v4.2M67.5,278.0v4.2M71.2,279.9v4.2M75.0,282.8v4.2M78.8,285.2v4.2M82.5,287.9v4.2M86.2,289.8v4.2M90.0,290.9v4.2M93.8,291.6v4.2M97.5,292.4v4.2M101.2,293.1v4.2M105.0,294.2v4.2M108.8,295.9v4.2M112.5,296.6v4.2M116.2,298.1v4.2M120.0,299.2v4.2M123.8,298.8v4.2M127.5,301.1v4.2M131.2,300.7v4.2M135.0,303.1v4.2M138.8,303.7v4.2M142.5,304.3v4.2" stroke="#ac4c20" fill="none" stroke-width="0.6" />
<path d="M28.9,254.4h2.1v2.1h-2.1zM32.7,256.4h2.1v2.1h-2.1zM36.5,261.2h2.1v2.1h-2.1zM40.2,267.6h2.1v2.1h-2.1zM44.0,272.7h2.1v2.1h-2.1zM47.7,277.5h2.1v2.1h-2.1zM51.5,279.5h2.1v2.1h-2.1zM55.2,280.0h2.1v2.1h-2.1zM59.0,279.9h2.1v2.1h-2.1zM62.7,280.3h2.1v2.1h-2.1zM66.5,279.1h2.1v2.1h-2.1zM70.2,280.9h2.1v2.1h-2.1zM74.0,283.8h2.1v2.1h-2.1zM77.7,286.2h2.1v2.1h-2.1zM81.5,289.0h2.1v2.1h-2.1zM85.2,290.8h2.1v2.1h-2.1zM89.0,291.9h2.1v2.1h-2.1zM92.7,292.6h2.1v2.1h-2.1zM96.5,293.5h2.1v2.1h-2.1zM100.2,294.1h2.1v2.1h-2.1zM104.0,295.3h2.1v2.1h-2.1zM107.7,297.0h2.1v2.1h-2.1zM111.5,297.7h2.1v2.1h-2.1zM115.2,299.1h2.1v2.1h-2.1zM119.0,300.3h2.1v2.1h-2.1zM122.7,299.8h2.1v2.1h-2.1zM126.5,302.2h2.1v2.1h-2.1zM130.2,301.8h2.1v2.1h-2.1zM133.9,304.1h2.1v2.1h-2.1zM137.7,304.8h2.1v2.1h-2.1zM141.4,305.3h2.1v2.1h-2.1z" stroke="none" fill="#ac4c20" stroke-width="1" />
<path d="M30.00,255.50 L33.75,257.42 L37.50,262.79 L41.25,268.64 L45.00,272.75 L48.75,276.61 L52.50,277.45 L56.25,279.55 L60.00,278.82 L63.75,281.70 L67.50,280.51 L71.25,281.63 L75.00,284.27 L78.75,285.62 L82.50,288.74 L86.25,291.41 L90.00,291.86 L93.75,291.36 L97.50,293.68 L101.25,294.51 L105.00,295.79 L108.75,296.46 L112.50,298.28 L116.25,298.66 L120.00,298.14 L123.75,299.93 L127.50,301.18 L131.25,301.92 L135.00,302.47 L138.75,304.21 L142.50,304.37" stroke="#943a19" fill="none" stroke-width="0.75" />
<path d="M30.0,253.4v4.2M33.8,255.3v4.2M37.5,260.7v4.2M41.2,266.5v4.2M45.0,270.7v4.2M48.8,274.5v4.2M52.5,275.3v4.2M56.2,277.4v4.2M60.0,276.7v4.2M63.8,279.6v4.2M67.5,278.4v4.2M71.2,279.5v4.2M75.0,282.2v4.2M78.8,283.5v4.2M82.5,286.6v4.2M86.2,289.3v4.2M90.0,289.8v4.2M93.8,289.3v4.2M97.5,291.6v4.2M101.2,292.4v4.2M105.0,293.7v4.2M108.8,294.4v4.2M112.5,296.2v4.2M116.2,296.6v4.2M120.0,296.0v4.2M123.8,297.8v4.2M127.5,299.1v4.2M131.2,299.8v4.2M135.0,300.4v4.2M138.8,302.1v4.2M142.5,302.3v4.2" stroke="#943a19" fill="none" stroke-width="0.6" />
<path d="M28.9,254.4h2.1v2.1h-2.1zM32.7,256.4h2.1v2.1h-2.1zM36.5,261.7h2.1v2.1h-2.1zM40.2,267.6h2.1v2.1h-2.1zM44.0,271.7h2.1v2.1h-2.1zM47.7,275.6h2.1v2.1h-2.1zM51.5,276.4h2.1v2.1h-2.1zM55.2,278.5h2.1v2.1h-2.1zM59.0,277.8h2.1v2.1h-2.1zM62.7,280.7h2.1v2.1h-2.1zM66.5,279.5h2.1v2.1h-2.1zM70.2,280.6h2.1v2.1h-2.1zM74.0,283.2h2.1v2.1h-2.1zM77.7,284.6h2.1v2.1h-2.1zM81.5,287.7h2.1v2.1h-2.1zM85.2,290.4h2.1v2.1h-2.1zM89.0,290.8h2.1v2.1h-2.1zM92.7,290.3h2.1v2.1h-2.1zM96.5,292.6h2.1v2.1h-2.1zM100.2,293.5h2.1v2.1h-2.1zM104.0,294.7h2.1v2.1h-2.1zM107.7,295.4h2.1v2.1h-2.1zM111.5,297.2h2.1v2.1h-2.1zM115.2,297.6h2.1v2.1h-2.1zM119.0,297.1h2.1v2.1h-2.1zM122.7,298.9h2.1v2.1h-2.1zM126.5,300.1h2.1v2.1h-2.1zM130.2,300.9h2.1v2.1h-2.1zM133.9,301.4h2.1v2.1h-2.1zM137.7,303.2h2.1v2.1h-2.1zM141.4,303.3h2.1v2.1h-2.1z" stroke="none" fill="#943a19" stroke-width="1" />
<path d="M30.00,255.50 L33.75,257.55 L37.50,261.67 L41.25,269.00 L45.00,272.27 L48.75,274.65 L52.50,277.47 L56.25,277.75 L60.00,278.75 L63.75,279.11 L67.50,277.54 L71.25,280.17 L75.00,282.70 L78.75,284.06 L82.50,287.81 L86.25,289.31 L90.00,290.48 L93.75,290.61 L97.50,293.21 L101.25,292.81 L105.00,294.04 L108.75,295.77 L112.50,295.50 L116.25,297.61 L120.00,297.19 L123.75,298.82 L127.50,299.86 L131.25,301.36 L135.00,302.03 L138.75,304.76 L142.50,304.79" stroke="#782b13" fill="none" stroke-width="0.75" />
<path d="M30.0,253.4v4.2M33.8,255.4v4.2M37.5,259.6v4.2M41.2,266.9v4.2M45.0,270.2v4.2M48.8,272.6v4.2M52.5,275.4v4.2M56.2,275.7v4.2M60.0,276.6v4.2M63.8,277.0v4.2M67.5,275.4v4.2M71.2,278.1v4.2M75.0,280.6v4.2M78.8,282.0v4.2M82.5,285.7v4.2M86.2,287.2v4.2M90.0,288.4v4.2M93.8,288.5v4.2M97.5,291.1v4.2M101.2,290.7v4.2M105.0,291.9v4.2M108.8,293.7v4.2M112.5,293.4v4.2M116.2,295.5v4.2M120.0,295.1v4.2M123.8,296.7v4.2M127.5,297.8v4.2M131.2,299.3v4.2M135.0,299.9v4.2M138.8,302.7v4.2M142.5,302.7v4.2" stroke="#782b13" fill="none" stroke-width="0.6" />
<path d="M28.9,254.4h2.1v2.1h-2.1zM32.7,256.5h2.1v2.1h-2.1zM36.5,260.6h2.1v2.1h-2.1zM40.2,268.0h2.1v2.1h-2.1zM44.0,271.2h2.1v2.1h-2.1zM47.7,273.6h2.1v2.1h-2.1zM51.5,276.4h2.1v2.1h-2.1zM55.2,276.7h2.1v2.1h-2.1zM59.0,277.7h2.1v2.1h-2.1zM62.7,278.1h2.1v2.1h-2.1zM66.5,276.5h2.1v2.1h-2.1zM70.2,279.1h2.1v2.1h-2.1zM74.0,281.7h2.1v2.1h-2.1zM77.7,283.0h2.1v2.1h-2.1zM81.5,286.8h2.1v2.1h-2.1zM85.2,288.3h2.1v2.1h-2.1zM89.0,289.4h2.1v2.1h-2.1zM92.7,289.6h2.1v2.1h-2.1zM96.5,292.2h2.1v2.1h-2.1zM100.2,291.8h2.1v2.1h-2.1zM104.0,293.0h2.1v2.1h-2.1zM107.7,294.7h2.1v2.1h-2.1zM111.5,294.5h2.1v2.1h-2.1zM115.2,296.6h2.1v2.1h-2.1zM119.0,296.1h2.1v2.1h-2.1zM122.7,297.8h2.1v2.1h-2.1zM126.5,298.8h2.1v2.1h-2.1zM130.2,300.3h2.1v2.1h-2.1zM133.9,301.0h2.1v2.1h-2.1zM137.7,303.7h2.1v2.1h-2.1zM141.4,303.7h2.1v2.1h-2.1z" stroke="none" fill="#782b13" stroke-width="1" />
<path d="M30.00,255.50 L33.75,257.48 L37.50,262.68 L41.25,267.30 L45.00,272.42 L48.75,273.04 L52.50,274.20 L56.25,276.35 L60.00,276.96 L63.75,277.14 L67.50,276.94 L71.25,278.01 L75.00,281.93 L78.75,283.74 L82.50,286.85 L86.25,289.03 L90.00,290.19 L93.75,289.90 L97.50,291.63 L101.25,290.96 L105.00,292.16 L108.75,294.27 L112.50,295.27 L116.25,296.03 L120.00,295.88 L123.75,298.17 L127.50,299.68 L131.25,300.00 L135.00,300.90 L138.75,302.64 L142.50,302.48" stroke="#5c1e0d" fill="none" stroke-width="0.75" />
<path d="M30.0,253.4v4.2M33.8,255.4v4.2M37.5,260.6v4.2M41.2,265.2v4.2M45.0,270.3v4.2M48.8,270.9v4.2M52.5,272.1v4.2M56.2,274.3v4.2M60.0,274.9v4.2M63.8,275.0v4.2M67.5,274.8v4.2M71.2,275.9v4.2M75.0,279.8v4.2M78.8,281.6v4.2M82.5,284.8v4.2M86.2,286.9v4.2M90.0,288.1v4.2M93.8,287.8v4.2M97.5,289.5v4.2M101.2,288.9v4.2M105.0,290.1v4.2M108.8,292.2v4.2M112.5,293.2v4.2M116.2,293.9v4.2M120.0,293.8v4.2M123.8,296.1v4.2M127.5,297.6v4.2M131.2,297.9v4.2M135.0,298.8v4.2M138.8,300.5v4.2M142.5,300.4v4.2" stroke="#5c1e0d" fill="none" stroke-width="0.6" />
<path d="M28.9,254.4h2.1v2.1h-2.1zM32.7,256.4h2.1v2.1h-2.1zM36.5,261.6h2.1v2.1h-2.1zM40.2,266.3h2.1v2.1h-2.1zM44.0,271.4h2.1v2.1h-2.1zM47.7,272.0h2.1v2.1h-2.1zM51.5,273.1h2.1v2.1h-2.1zM55.2,275.3h2.1v2.1h-2.1zM59.0,275.9h2.1v2.1h-2.1zM62.7,276.1h2.1v2.1h-2.1zM66.5,275.9h2.1v2.1h-2.1zM70.2,277.0h2.1v2.1h-2.1zM74.0,280.9h2.1v2.1h-2.1zM77.7,282.7h2.1v2.1h-2.1zM81.5,285.8h2.1v2.1h-2.1zM85.2,288.0h2.1v2.1h-2.1zM89.0,289.1h2.1v2.1h-2.1zM92.7,288.8h2.1v2.1h-2.1zM96.5,290.6h2.1v2.1h-2.1zM100.2,289.9h2.1v2.1h-2.1zM104.0,291.1h2.1v2.1h-2.1zM107.7,293.2h2.1v2.1h-2.1zM111.5,294.2h2.1v2.1h-2.1zM115.2,295.0h2.1v2.1h-2.1zM119.0,294.8h2.1v2.1h-2.1zM122.7,297.1h2.1v2.1h-2.1zM126.5,298.6h2.1v2.1h-2.1zM130.2,299.0h2.1v2.1h-2.1zM133.9,299.9h2.1v2.1h-2.1zM137.7,301.6h2.1v2.1h-2.1zM141.4,301.4h2.1v2.1h-2.1z" stroke="none" fill="#5c1e0d" stroke-width="1" />
<path d="M30.00,255.50 L33.75,257.39 L37.50,263.14 L41.25,267.68 L45.00,271.32 L48.75,274.67 L52.50,273.93 L56.25,276.19 L60.00,275.54 L63.75,276.72 L67.50,275.08 L71.25,277.48 L75.00,279.32 L78.75,282.14 L82.50,286.29 L86.25,288.98 L90.00,288.72 L93.75,288.88 L97.50,290.20 L101.25,290.66 L105.00,291.43 L108.75,293.82 L112.50,293.80 L116.25,293.84 L120.00,296.30 L123.75,298.13 L127.50,298.25 L131.25,299.52 L135.00,300.16 L138.75,302.06 L142.50,302.64" stroke="#3f1509" fill="none" stroke-width="0.75" />
<path d="M30.0,253.4v4.2M33.8,255.3v4.2M37.5,261.0v4.2M41.2,265.6v4.2M45.0,269.2v4.2M48.8,272.6v4.2M52.5,271.8v4.2M56.2,274.1v4.2M60.0,273.4v4.2M63.8,274.6v4.2M67.5,273.0v4.2M71.2,275.4v4.2M75.0,277.2v4.2M78.8,280.0v4.2M82.5,284.2v4.2M86.2,286.9v4.2M90.0,286.6v4.2M93.8,286.8v4.2M97.5,288.1v4.2M101.2,288.6v4.2M105.0,289.3v4.2M108.8,291.7v4.2M112.5,291.7v4.2M116.2,291.7v4.2M120.0,294.2v4.2M123.8,296.0v4.2M127.5,296.1v4.2M131.2,297.4v4.2M135.0,298.1v4.2M138.8,300.0v4.2M142.5,300.5v4.2" stroke="#3f1509" fill="none" stroke-width="0.6" />
<path d="M28.9,254.4h2.1v2.1h-2.1zM32.7,256.3h2.1v2.1h-2.1zM36.5,262.1h2.1v2.1h-2.1zM40.2,266.6h2.1v2.1h-2.1zM44.0,270.3h2.1v2.1h-2.1zM47.7,273.6h2.1v2.1h-2.1zM51.5,272.9h2.1v2.1h-2.1zM55.2,275.1h2.1v2.1h-2.1zM59.0,274.5h2.1v2.1h-2.1zM62.7,275.7h2.1v2.1h-2.1zM66.5,274.0h2.1v2.1h-2.1zM70.2,276.4h2.1v2.1h-2.1zM74.0,278.3h2.1v2.1h-2.1zM77.7,281.1h2.1v2.1h-2.1zM81.5,285.2h2.1v2.1h-2.1zM85.2,287.9h2.1v2.1h-2.1zM89.0,287.7h2.1v2.1h-2.1zM92.7,287.8h2.1v2.1h-2.1zM96.5,289.1h2.1v2.1h-2.1zM100.2,289.6h2.1v2.1h-2.1zM104.0,290.4h2.1v2.1h-2.1zM107.7,292.8h2.1v2.1h-2.1zM111.5,292.8h2.1v2.1h-2.1zM115.2,292.8h2.1v2.1h-2.1zM119.0,295.2h2.1v2.1h-2.1zM122.7,297.1h2.1v2.1h-2.1zM126.5,297.2h2.1v2.1h-2.1zM130.2,298.5h2.1v2.1h-2.1zM133.9,299.1h2.1v2.1h-2.1zM137.7,301.0h2.1v2.1h-2.1zM141.4,301.6h2.1v2.1h-2.1z" stroke="none" fill="#3f1509" stroke-width="1" />
<path d="M30.00,255.50 L33.75,257.16 L37.50,261.74 L41.25,266.91 L45.00,271.38 L48.75,272.48 L52.50,275.08 L56.25,274.29 L60.00,274.84 L63.75,275.73 L67.50,275.32 L71.25,276.87 L75.00,278.56 L78.75,281.88 L82.50,284.68 L86.25,288.07 L90.00,288.48 L93.75,288.95 L97.50,289.36 L101.25,290.40 L105.00,290.39 L108.75,292.75 L112.50,293.39 L116.25,294.11 L120.00,295.39 L123.75,295.97 L127.50,297.73 L131.25,297.73 L135.00,299.87 L138.75,300.19 L142.50,301.99" stroke="#200d05" fill="none" stroke-width="0.75" />
<path d="M30.0,253.4v4.2M33.8,255.1v4.2M37.5,259.6v4.2M41.2,264.8v4.2M45.0,269.3v4.2M48.8,270.4v4.2M52.5,273.0v4.2M56.2,272.2v4.2M60.0,272.7v4.2M63.8,273.6v4.2M67.5,273.2v4.2M71.2,274.8v4.2M75.0,276.5v4.2M78.8,279.8v4.2M82.5,282.6v4.2M86.2,286.0v4.2M90.0,286.4v4.2M93.8,286.8v4.2M97.5,287.3v4.2M101.2,288.3v4.2M105.0,288.3v4.2M108.8,290.6v4.2M112.5,291.3v4.2M116.2,292.0v4.2M120.0,293.3v4.2M123.8,293.9v4.2M127.5,295.6v4.2M131.2,295.6v4.2M135.0,297.8v4.2M138.8,298.1v4.2M142.5,299.9v4.2" stroke="#200d05" fill="none" stroke-width="0.6" />
<path d="M28.9,254.4h2.1v2.1h-2.1zM32.7,256.1h2.1v2.1h-2.1zM36.5,260.7h2.1v2.1h-2.1zM40.2,265.9h2.1v2.1h-2.1zM44.0,270.3h2.1v2.1h-2.1zM47.7,271.4h2.1v2.1h-2.1zM51.5,274.0h2.1v2.1h-2.1zM55.2,273.2h2.1v2.1h-2.1zM59.0,273.8h2.1v2.1h-2.1zM62.7,274.7h2.1v2.1h-2.1zM66.5,274.3h2.1v2.1h-2.1zM70.2,275.8h2.1v2.1h-2.1zM74.0,277.5h2.1v2.1h-2.1zM77.7,280.8h2.1v2.1h-2.1zM81.5,283.6h2.1v2.1h-2.1zM85.2,287.0h2.1v2.1h-2.1zM89.0,287.4h2.1v2.1h-2.1zM92.7,287.9h2.1v2.1h-2.1zM96.5,288.3h2.1v2.1h-2.1zM100.2,289.3h2.1v2.1h-2.1zM104.0,289.3h2.1v2.1h-2.1zM107.7,291.7h2.1v2.1h-2.1zM111.5,292.3h2.1v2.1h-2.1zM115.2,293.1h2.1v2.1h-2.1zM119.0,294.3h2.1v2.1h-2.1zM122.7,294.9h2.1v2.1h-2.1zM126.5,296.7h2.1v2.1h-2.1zM130.2,296.7h2.1v2.1h-2.1zM133.9,298.8h2.1v2.1h-2.1zM137.7,299.1h2.1v2.1h-2.1zM141.4,300.9h2.1v2.1h-2.1z" stroke="none" fill="#200d05" stroke-width="1" />
<path d="M30.00,255.50 L33.75,258.44 L37.50,262.35 L41.25,267.19 L45.00,269.67 L48.75,271.26 L52.50,273.31 L56.25,274.49 L60.00,274.66 L63.75,274.30 L67.50,275.88 L71.25,276.18 L75.00,279.12 L78.75,281.89 L82.50,284.31 L86.25,286.03 L90.00,287.32 L93.75,287.96 L97.50,288.41 L101.25,289.26 L105.00,291.35 L108.75,291.07 L112.50,291.77 L116.25,292.20 L120.00,292.65 L123.75,294.44 L127.50,295.92 L131.25,297.66 L135.00,298.21 L138.75,298.96 L142.50,299.82" stroke="#000000" fill="none" stroke-width="0.75" />
<path d="M30.0,253.4v4.2M33.8,256.3v4.2M37.5,260.3v4.2M41.2,265.1v4.2M45.0,267.6v4.2M48.8,269.2v4.2M52.5,271.2v4.2M56.2,272.4v4.2M60.0,272.6v4.2M63.8,272.2v4.2M67.5,273.8v4.2M71.2,274.1v4.2M75.0,277.0v4.2M78.8,279.8v4.2M82.5,282.2v4.2M86.2,283.9v4.2M90.0,285.2v4.2M93.8,285.9v4.2M97.5,286.3v4.2M101.2,287.2v4.2M105.0,289.3v4.2M108.8,289.0v4.2M112.5,289.7v4.2M116.2,290.1v4.2M120.0,290.6v4.2M123.8,292.3v4.2M127.5,293.8v4.2M131.2,295.6v4.2M135.0,296.1v4.2M138.8,296.9v4.2M142.5,297.7v4.2" stroke="#000000" fill="none" stroke-width="0.6" />
<path d="M28.9,254.4h2.1v2.1h-2.1zM32.7,257.4h2.1v2.1h-2.1zM36.5,261.3h2.1v2.1h-2.1zM40.2,266.1h2.1v2.1h-2.1zM44.0,268.6h2.1v2.1h-2.1zM47.7,270.2h2.1v2.1h-2.1zM51.5,272.3h2.1v2.1h-2.1zM55.2,273.4h2.1v2.1h-2.1zM59.0,273.6h2.1v2.1h-2.1zM62.7,273.3h2.1v2.1h-2.1zM66.5,274.8h2.1v2.1h-2.1zM70.2,275.1h2.1v2.1h-2.1zM74.0,278.1h2.1v2.1h-2.1zM77.7,280.8h2.1v2.1h-2.1zM81.5,283.3h2.1v2.1h-2.1zM85.2,285.0h2.1v2.1h-2.1zM89.0,286.3h2.1v2.1h-2.1zM92.7,286.9h2.1v2.1h-2.1zM96.5,287.4h2.1v2.1h-2.1zM100.2,288.2h2.1v2.1h-2.1zM104.0,290.3h2.1v2.1h-2.1zM107.7,290.0h2.1v2.1h-2.1zM111.5,290.7h2.1v2.1h-2.1zM115.2,291.1h2.1v2.1h-2.1zM119.0,291.6h2.1v2.1h-2.1zM122.7,293.4h2.1v2.1h-2.1zM126.5,294.9h2.1v2.1h-2.1zM130.2,296.6h2.1v2.1h-2.1zM133.9,297.2h2.1v2.1h-2.1zM137.7,297.9h2.1v2.1h-2.1zM141.4,298.8h2.1v2.1h-2.1z" stroke="none" fill="#000000" stroke-width="1" />
<path d="M83.07,260.76 L81.14,265.16 L83.07,269.56" stroke="#1a1a1a" fill="none" stroke-width="0.6160000000000001" fill="none" stroke-linejoin="miter"/>
<path d="M85.50,259.79 C86.47,258.19 88.40,260.78 89.37,258.56" stroke="#1a1a1a" fill="none" stroke-width="0.5720000000000001" fill="none"/>
<path d="M93.43,260.76 L95.36,265.16 L93.43,269.56" stroke="#1a1a1a" fill="none" stroke-width="0.6160000000000001" fill="none" stroke-linejoin="miter"/>
<text fill="#1a1a1a"><tspan x="83.78" y="267.80" font-size="8.8" font-style="italic">Z</tspan><tspan x="89.33" y="270.09" font-size="5.632000000000001">L</tspan></text>
<text transform="translate(7.00,298.60) rotate(-90)" font-size="9.1" text-anchor="middle" fill="#1a1a1a">Expectation value</text>
<text x="86.25" y="365.8" font-size="9.1" text-anchor="middle" fill="#1a1a1a">Cycle, <tspan font-style="italic">t</tspan></text>
<line x1="312.20" y1="252.00" x2="312.20" y2="342.40" stroke="#858585" stroke-width="0.9" />
<line x1="312.20" y1="342.40" x2="430.70" y2="342.40" stroke="#858585" stroke-width="0.9" />
<line x1="312.20" y1="327.00" x2="314.70" y2="327.00" stroke="#858585" stroke-width="0.9" />
<text x="308.60" y="330.20" font-size="9.4" text-anchor="end" fill="#1a1a1a" >0</text>
<line x1="312.20" y1="291.25" x2="314.70" y2="291.25" stroke="#858585" stroke-width="0.9" />
<text x="308.60" y="294.45" font-size="9.4" text-anchor="end" fill="#1a1a1a" >0.5</text>
<line x1="312.20" y1="255.50" x2="314.70" y2="255.50" stroke="#858585" stroke-width="0.9" />
<text x="308.60" y="258.70" font-size="9.4" text-anchor="end" fill="#1a1a1a" >1.0</text>
<line x1="313.50" y1="342.40" x2="313.50" y2="339.90" stroke="#858585" stroke-width="0.9" />
<text x="313.50" y="352.50" font-size="9.4" text-anchor="middle" fill="#1a1a1a" >0</text>
<line x1="351.13" y1="342.40" x2="351.13" y2="339.90" stroke="#858585" stroke-width="0.9" />
<text x="351.13" y="352.50" font-size="9.4" text-anchor="middle" fill="#1a1a1a" >10</text>
<line x1="388.76" y1="342.40" x2="388.76" y2="339.90" stroke="#858585" stroke-width="0.9" />
<text x="388.76" y="352.50" font-size="9.4" text-anchor="middle" fill="#1a1a1a" >20</text>
<line x1="426.39" y1="342.40" x2="426.39" y2="339.90" stroke="#858585" stroke-width="0.9" />
<text x="426.39" y="352.50" font-size="9.4" text-anchor="middle" fill="#1a1a1a" >30</text>
<line x1="369.94" y1="272.30" x2="369.94" y2="342.40" stroke="#808080" stroke-width="0.7" stroke-dasharray="4.5,2.2"/>
<path d="M313.50,255.50 L317.26,260.26 L321.03,265.45 L324.79,283.74 L328.55,290.69 L332.31,298.60 L336.08,304.41 L339.84,310.68 L343.60,316.30 L347.37,321.55 L351.13,326.32 L354.89,326.85 L358.66,328.64 L362.42,328.17 L366.18,329.12 L369.94,329.38 L373.71,329.74 L377.47,330.60 L381.23,329.44 L385.00,330.92 L388.76,331.25 L392.52,330.41 L396.29,329.15 L400.05,329.58 L403.81,330.02 L407.57,329.55 L411.34,328.64 L415.10,328.95 L418.86,329.16 L422.63,328.70 L426.39,328.00" stroke="#f9e06c" fill="none" stroke-width="0.75" />
<path d="M313.5,253.4v4.2M317.3,258.2v4.2M321.0,263.4v4.2M324.8,281.6v4.2M328.6,288.6v4.2M332.3,296.5v4.2M336.1,302.3v4.2M339.8,308.6v4.2M343.6,314.2v4.2M347.4,319.5v4.2M351.1,324.2v4.2M354.9,324.8v4.2M358.7,326.5v4.2M362.4,326.1v4.2M366.2,327.0v4.2M369.9,327.3v4.2M373.7,327.6v4.2M377.5,328.5v4.2M381.2,327.3v4.2M385.0,328.8v4.2M388.8,329.2v4.2M392.5,328.3v4.2M396.3,327.1v4.2M400.0,327.5v4.2M403.8,327.9v4.2M407.6,327.5v4.2M411.3,326.5v4.2M415.1,326.9v4.2M418.9,327.1v4.2M422.6,326.6v4.2M426.4,325.9v4.2" stroke="#f9e06c" fill="none" stroke-width="0.6" />
<path d="M312.4,254.4h2.1v2.1h-2.1zM316.2,259.2h2.1v2.1h-2.1zM320.0,264.4h2.1v2.1h-2.1zM323.7,282.7h2.1v2.1h-2.1zM327.5,289.6h2.1v2.1h-2.1zM331.3,297.6h2.1v2.1h-2.1zM335.0,303.4h2.1v2.1h-2.1zM338.8,309.6h2.1v2.1h-2.1zM342.6,315.3h2.1v2.1h-2.1zM346.3,320.5h2.1v2.1h-2.1zM350.1,325.3h2.1v2.1h-2.1zM353.8,325.8h2.1v2.1h-2.1zM357.6,327.6h2.1v2.1h-2.1zM361.4,327.1h2.1v2.1h-2.1zM365.1,328.1h2.1v2.1h-2.1zM368.9,328.3h2.1v2.1h-2.1zM372.7,328.7h2.1v2.1h-2.1zM376.4,329.6h2.1v2.1h-2.1zM380.2,328.4h2.1v2.1h-2.1zM383.9,329.9h2.1v2.1h-2.1zM387.7,330.2h2.1v2.1h-2.1zM391.5,329.4h2.1v2.1h-2.1zM395.2,328.1h2.1v2.1h-2.1zM399.0,328.5h2.1v2.1h-2.1zM402.8,329.0h2.1v2.1h-2.1zM406.5,328.5h2.1v2.1h-2.1zM410.3,327.6h2.1v2.1h-2.1zM414.1,327.9h2.1v2.1h-2.1zM417.8,328.1h2.1v2.1h-2.1zM421.6,327.7h2.1v2.1h-2.1zM425.3,327.0h2.1v2.1h-2.1z" stroke="none" fill="#f9e06c" stroke-width="1" />
<path d="M313.50,255.50 L317.26,260.86 L321.03,265.15 L324.79,282.41 L328.55,291.56 L332.31,298.93 L336.08,304.94 L339.84,309.67 L343.60,316.35 L347.37,322.21 L351.13,325.20 L354.89,328.63 L358.66,332.29 L362.42,333.06 L366.18,334.49 L369.94,336.08 L373.71,335.28 L377.47,336.29 L381.23,334.88 L385.00,333.86 L388.76,333.66 L392.52,332.94 L396.29,332.37 L400.05,331.58 L403.81,332.50 L407.57,330.81 L411.34,331.78 L415.10,330.49 L418.86,330.67 L422.63,328.40 L426.39,327.67" stroke="#f3cd5d" fill="none" stroke-width="0.75" />
<path d="M313.5,253.4v4.2M317.3,258.8v4.2M321.0,263.1v4.2M324.8,280.3v4.2M328.6,289.5v4.2M332.3,296.8v4.2M336.1,302.8v4.2M339.8,307.6v4.2M343.6,314.3v4.2M347.4,320.1v4.2M351.1,323.1v4.2M354.9,326.5v4.2M358.7,330.2v4.2M362.4,331.0v4.2M366.2,332.4v4.2M369.9,334.0v4.2M373.7,333.2v4.2M377.5,334.2v4.2M381.2,332.8v4.2M385.0,331.8v4.2M388.8,331.6v4.2M392.5,330.8v4.2M396.3,330.3v4.2M400.0,329.5v4.2M403.8,330.4v4.2M407.6,328.7v4.2M411.3,329.7v4.2M415.1,328.4v4.2M418.9,328.6v4.2M422.6,326.3v4.2M426.4,325.6v4.2" stroke="#f3cd5d" fill="none" stroke-width="0.6" />
<path d="M312.4,254.4h2.1v2.1h-2.1zM316.2,259.8h2.1v2.1h-2.1zM320.0,264.1h2.1v2.1h-2.1zM323.7,281.4h2.1v2.1h-2.1zM327.5,290.5h2.1v2.1h-2.1zM331.3,297.9h2.1v2.1h-2.1zM335.0,303.9h2.1v2.1h-2.1zM338.8,308.6h2.1v2.1h-2.1zM342.6,315.3h2.1v2.1h-2.1zM346.3,321.2h2.1v2.1h-2.1zM350.1,324.2h2.1v2.1h-2.1zM353.8,327.6h2.1v2.1h-2.1zM357.6,331.2h2.1v2.1h-2.1zM361.4,332.0h2.1v2.1h-2.1zM365.1,333.4h2.1v2.1h-2.1zM368.9,335.0h2.1v2.1h-2.1zM372.7,334.2h2.1v2.1h-2.1zM376.4,335.2h2.1v2.1h-2.1zM380.2,333.8h2.1v2.1h-2.1zM383.9,332.8h2.1v2.1h-2.1zM387.7,332.6h2.1v2.1h-2.1zM391.5,331.9h2.1v2.1h-2.1zM395.2,331.3h2.1v2.1h-2.1zM399.0,330.5h2.1v2.1h-2.1zM402.8,331.5h2.1v2.1h-2.1zM406.5,329.8h2.1v2.1h-2.1zM410.3,330.7h2.1v2.1h-2.1zM414.1,329.4h2.1v2.1h-2.1zM417.8,329.6h2.1v2.1h-2.1zM421.6,327.4h2.1v2.1h-2.1zM425.3,326.6h2.1v2.1h-2.1z" stroke="none" fill="#f3cd5d" stroke-width="1" />
<path d="M313.50,255.50 L317.26,259.13 L321.03,265.18 L324.79,281.15 L328.55,289.02 L332.31,297.58 L336.08,302.44 L339.84,307.30 L343.60,314.72 L347.37,319.34 L351.13,323.51 L354.89,324.92 L358.66,328.15 L362.42,328.52 L366.18,329.02 L369.94,329.72 L373.71,330.52 L377.47,328.78 L381.23,330.22 L385.00,329.15 L388.76,328.79 L392.52,329.34 L396.29,328.49 L400.05,327.62 L403.81,328.01 L407.57,328.22 L411.34,329.24 L415.10,327.98 L418.86,327.62 L422.63,327.44 L426.39,327.55" stroke="#ebb44e" fill="none" stroke-width="0.75" />
<path d="M313.5,253.4v4.2M317.3,257.0v4.2M321.0,263.1v4.2M324.8,279.1v4.2M328.6,286.9v4.2M332.3,295.5v4.2M336.1,300.3v4.2M339.8,305.2v4.2M343.6,312.6v4.2M347.4,317.2v4.2M351.1,321.4v4.2M354.9,322.8v4.2M358.7,326.1v4.2M362.4,326.4v4.2M366.2,326.9v4.2M369.9,327.6v4.2M373.7,328.4v4.2M377.5,326.7v4.2M381.2,328.1v4.2M385.0,327.1v4.2M388.8,326.7v4.2M392.5,327.2v4.2M396.3,326.4v4.2M400.0,325.5v4.2M403.8,325.9v4.2M407.6,326.1v4.2M411.3,327.1v4.2M415.1,325.9v4.2M418.9,325.5v4.2M422.6,325.3v4.2M426.4,325.4v4.2" stroke="#ebb44e" fill="none" stroke-width="0.6" />
<path d="M312.4,254.4h2.1v2.1h-2.1zM316.2,258.1h2.1v2.1h-2.1zM320.0,264.1h2.1v2.1h-2.1zM323.7,280.1h2.1v2.1h-2.1zM327.5,288.0h2.1v2.1h-2.1zM331.3,296.5h2.1v2.1h-2.1zM335.0,301.4h2.1v2.1h-2.1zM338.8,306.3h2.1v2.1h-2.1zM342.6,313.7h2.1v2.1h-2.1zM346.3,318.3h2.1v2.1h-2.1zM350.1,322.5h2.1v2.1h-2.1zM353.8,323.9h2.1v2.1h-2.1zM357.6,327.1h2.1v2.1h-2.1zM361.4,327.5h2.1v2.1h-2.1zM365.1,328.0h2.1v2.1h-2.1zM368.9,328.7h2.1v2.1h-2.1zM372.7,329.5h2.1v2.1h-2.1zM376.4,327.7h2.1v2.1h-2.1zM380.2,329.2h2.1v2.1h-2.1zM383.9,328.1h2.1v2.1h-2.1zM387.7,327.7h2.1v2.1h-2.1zM391.5,328.3h2.1v2.1h-2.1zM395.2,327.4h2.1v2.1h-2.1zM399.0,326.6h2.1v2.1h-2.1zM402.8,327.0h2.1v2.1h-2.1zM406.5,327.2h2.1v2.1h-2.1zM410.3,328.2h2.1v2.1h-2.1zM414.1,326.9h2.1v2.1h-2.1zM417.8,326.6h2.1v2.1h-2.1zM421.6,326.4h2.1v2.1h-2.1zM425.3,326.5h2.1v2.1h-2.1z" stroke="none" fill="#ebb44e" stroke-width="1" />
<path d="M313.50,255.50 L317.26,260.12 L321.03,264.14 L324.79,280.14 L328.55,288.88 L332.31,296.43 L336.08,300.50 L339.84,306.72 L343.60,313.44 L347.37,317.04 L351.13,319.53 L354.89,319.50 L358.66,320.48 L362.42,320.63 L366.18,320.51 L369.94,319.48 L373.71,319.96 L377.47,320.72 L381.23,320.82 L385.00,321.23 L388.76,320.87 L392.52,321.96 L396.29,321.57 L400.05,321.65 L403.81,322.15 L407.57,323.19 L411.34,322.23 L415.10,323.67 L418.86,323.32 L422.63,324.28 L426.39,325.14" stroke="#e09a41" fill="none" stroke-width="0.75" />
<path d="M313.5,253.4v4.2M317.3,258.0v4.2M321.0,262.0v4.2M324.8,278.0v4.2M328.6,286.8v4.2M332.3,294.3v4.2M336.1,298.4v4.2M339.8,304.6v4.2M343.6,311.3v4.2M347.4,314.9v4.2M351.1,317.4v4.2M354.9,317.4v4.2M358.7,318.4v4.2M362.4,318.5v4.2M366.2,318.4v4.2M369.9,317.4v4.2M373.7,317.9v4.2M377.5,318.6v4.2M381.2,318.7v4.2M385.0,319.1v4.2M388.8,318.8v4.2M392.5,319.9v4.2M396.3,319.5v4.2M400.0,319.6v4.2M403.8,320.0v4.2M407.6,321.1v4.2M411.3,320.1v4.2M415.1,321.6v4.2M418.9,321.2v4.2M422.6,322.2v4.2M426.4,323.0v4.2" stroke="#e09a41" fill="none" stroke-width="0.6" />
<path d="M312.4,254.4h2.1v2.1h-2.1zM316.2,259.1h2.1v2.1h-2.1zM320.0,263.1h2.1v2.1h-2.1zM323.7,279.1h2.1v2.1h-2.1zM327.5,287.8h2.1v2.1h-2.1zM331.3,295.4h2.1v2.1h-2.1zM335.0,299.5h2.1v2.1h-2.1zM338.8,305.7h2.1v2.1h-2.1zM342.6,312.4h2.1v2.1h-2.1zM346.3,316.0h2.1v2.1h-2.1zM350.1,318.5h2.1v2.1h-2.1zM353.8,318.5h2.1v2.1h-2.1zM357.6,319.4h2.1v2.1h-2.1zM361.4,319.6h2.1v2.1h-2.1zM365.1,319.5h2.1v2.1h-2.1zM368.9,318.4h2.1v2.1h-2.1zM372.7,318.9h2.1v2.1h-2.1zM376.4,319.7h2.1v2.1h-2.1zM380.2,319.8h2.1v2.1h-2.1zM383.9,320.2h2.1v2.1h-2.1zM387.7,319.8h2.1v2.1h-2.1zM391.5,320.9h2.1v2.1h-2.1zM395.2,320.5h2.1v2.1h-2.1zM399.0,320.6h2.1v2.1h-2.1zM402.8,321.1h2.1v2.1h-2.1zM406.5,322.1h2.1v2.1h-2.1zM410.3,321.2h2.1v2.1h-2.1zM414.1,322.6h2.1v2.1h-2.1zM417.8,322.3h2.1v2.1h-2.1zM421.6,323.2h2.1v2.1h-2.1zM425.3,324.1h2.1v2.1h-2.1z" stroke="none" fill="#e09a41" stroke-width="1" />
<path d="M313.50,255.50 L317.26,259.63 L321.03,264.12 L324.79,279.65 L328.55,288.05 L332.31,295.96 L336.08,300.88 L339.84,304.93 L343.60,310.80 L347.37,315.86 L351.13,318.10 L354.89,319.05 L358.66,319.40 L362.42,318.41 L366.18,318.96 L369.94,319.38 L373.71,319.22 L377.47,318.94 L381.23,319.20 L385.00,318.85 L388.76,320.26 L392.52,319.86 L396.29,320.46 L400.05,321.22 L403.81,321.09 L407.57,321.71 L411.34,322.77 L415.10,321.95 L418.86,323.55 L422.63,323.10 L426.39,323.42" stroke="#d38035" fill="none" stroke-width="0.75" />
<path d="M313.5,253.4v4.2M317.3,257.5v4.2M321.0,262.0v4.2M324.8,277.6v4.2M328.6,285.9v4.2M332.3,293.9v4.2M336.1,298.8v4.2M339.8,302.8v4.2M343.6,308.7v4.2M347.4,313.8v4.2M351.1,316.0v4.2M354.9,317.0v4.2M358.7,317.3v4.2M362.4,316.3v4.2M366.2,316.9v4.2M369.9,317.3v4.2M373.7,317.1v4.2M377.5,316.8v4.2M381.2,317.1v4.2M385.0,316.8v4.2M388.8,318.2v4.2M392.5,317.8v4.2M396.3,318.4v4.2M400.0,319.1v4.2M403.8,319.0v4.2M407.6,319.6v4.2M411.3,320.7v4.2M415.1,319.9v4.2M418.9,321.5v4.2M422.6,321.0v4.2M426.4,321.3v4.2" stroke="#d38035" fill="none" stroke-width="0.6" />
<path d="M312.4,254.4h2.1v2.1h-2.1zM316.2,258.6h2.1v2.1h-2.1zM320.0,263.1h2.1v2.1h-2.1zM323.7,278.6h2.1v2.1h-2.1zM327.5,287.0h2.1v2.1h-2.1zM331.3,294.9h2.1v2.1h-2.1zM335.0,299.8h2.1v2.1h-2.1zM338.8,303.9h2.1v2.1h-2.1zM342.6,309.8h2.1v2.1h-2.1zM346.3,314.8h2.1v2.1h-2.1zM350.1,317.1h2.1v2.1h-2.1zM353.8,318.0h2.1v2.1h-2.1zM357.6,318.3h2.1v2.1h-2.1zM361.4,317.4h2.1v2.1h-2.1zM365.1,317.9h2.1v2.1h-2.1zM368.9,318.3h2.1v2.1h-2.1zM372.7,318.2h2.1v2.1h-2.1zM376.4,317.9h2.1v2.1h-2.1zM380.2,318.2h2.1v2.1h-2.1zM383.9,317.8h2.1v2.1h-2.1zM387.7,319.2h2.1v2.1h-2.1zM391.5,318.8h2.1v2.1h-2.1zM395.2,319.4h2.1v2.1h-2.1zM399.0,320.2h2.1v2.1h-2.1zM402.8,320.0h2.1v2.1h-2.1zM406.5,320.7h2.1v2.1h-2.1zM410.3,321.7h2.1v2.1h-2.1zM414.1,320.9h2.1v2.1h-2.1zM417.8,322.5h2.1v2.1h-2.1zM421.6,322.1h2.1v2.1h-2.1zM425.3,322.4h2.1v2.1h-2.1z" stroke="none" fill="#d38035" stroke-width="1" />
<path d="M313.50,255.50 L317.26,259.85 L321.03,263.38 L324.79,277.75 L328.55,285.67 L332.31,295.28 L336.08,299.79 L339.84,304.98 L343.60,310.58 L347.37,313.31 L351.13,319.89 L354.89,322.85 L358.66,323.33 L362.42,325.71 L366.18,325.83 L369.94,326.51 L373.71,327.08 L377.47,326.67 L381.23,326.45 L385.00,325.93 L388.76,326.50 L392.52,326.13 L396.29,325.36 L400.05,324.55 L403.81,324.64 L407.57,323.87 L411.34,324.46 L415.10,325.15 L418.86,324.93 L422.63,326.02 L426.39,325.40" stroke="#c2662a" fill="none" stroke-width="0.75" />
<path d="M313.5,253.4v4.2M317.3,257.7v4.2M321.0,261.3v4.2M324.8,275.6v4.2M328.6,283.6v4.2M332.3,293.2v4.2M336.1,297.7v4.2M339.8,302.9v4.2M343.6,308.5v4.2M347.4,311.2v4.2M351.1,317.8v4.2M354.9,320.7v4.2M358.7,321.2v4.2M362.4,323.6v4.2M366.2,323.7v4.2M369.9,324.4v4.2M373.7,325.0v4.2M377.5,324.6v4.2M381.2,324.4v4.2M385.0,323.8v4.2M388.8,324.4v4.2M392.5,324.0v4.2M396.3,323.3v4.2M400.0,322.4v4.2M403.8,322.5v4.2M407.6,321.8v4.2M411.3,322.4v4.2M415.1,323.0v4.2M418.9,322.8v4.2M422.6,323.9v4.2M426.4,323.3v4.2" stroke="#c2662a" fill="none" stroke-width="0.6" />
<path d="M312.4,254.4h2.1v2.1h-2.1zM316.2,258.8h2.1v2.1h-2.1zM320.0,262.3h2.1v2.1h-2.1zM323.7,276.7h2.1v2.1h-2.1zM327.5,284.6h2.1v2.1h-2.1zM331.3,294.2h2.1v2.1h-2.1zM335.0,298.7h2.1v2.1h-2.1zM338.8,303.9h2.1v2.1h-2.1zM342.6,309.5h2.1v2.1h-2.1zM346.3,312.3h2.1v2.1h-2.1zM350.1,318.8h2.1v2.1h-2.1zM353.8,321.8h2.1v2.1h-2.1zM357.6,322.3h2.1v2.1h-2.1zM361.4,324.7h2.1v2.1h-2.1zM365.1,324.8h2.1v2.1h-2.1zM368.9,325.5h2.1v2.1h-2.1zM372.7,326.0h2.1v2.1h-2.1zM376.4,325.6h2.1v2.1h-2.1zM380.2,325.4h2.1v2.1h-2.1zM383.9,324.9h2.1v2.1h-2.1zM387.7,325.4h2.1v2.1h-2.1zM391.5,325.1h2.1v2.1h-2.1zM395.2,324.3h2.1v2.1h-2.1zM399.0,323.5h2.1v2.1h-2.1zM402.8,323.6h2.1v2.1h-2.1zM406.5,322.8h2.1v2.1h-2.1zM410.3,323.4h2.1v2.1h-2.1zM414.1,324.1h2.1v2.1h-2.1zM417.8,323.9h2.1v2.1h-2.1zM421.6,325.0h2.1v2.1h-2.1zM425.3,324.4h2.1v2.1h-2.1z" stroke="none" fill="#c2662a" stroke-width="1" />
<path d="M313.50,255.50 L317.26,258.92 L321.03,262.28 L324.79,276.56 L328.55,285.15 L332.31,294.28 L336.08,298.47 L339.84,303.26 L343.60,308.16 L347.37,313.15 L351.13,317.28 L354.89,322.03 L358.66,327.05 L362.42,329.45 L366.18,331.47 L369.94,333.35 L373.71,332.87 L377.47,332.01 L381.23,331.28 L385.00,330.37 L388.76,329.92 L392.52,330.21 L396.29,329.49 L400.05,329.51 L403.81,329.19 L407.57,327.34 L411.34,328.41 L415.10,326.72 L418.86,327.77 L422.63,327.14 L426.39,326.38" stroke="#ac4c20" fill="none" stroke-width="0.75" />
<path d="M313.5,253.4v4.2M317.3,256.8v4.2M321.0,260.2v4.2M324.8,274.5v4.2M328.6,283.1v4.2M332.3,292.2v4.2M336.1,296.4v4.2M339.8,301.2v4.2M343.6,306.1v4.2M347.4,311.0v4.2M351.1,315.2v4.2M354.9,319.9v4.2M358.7,325.0v4.2M362.4,327.3v4.2M366.2,329.4v4.2M369.9,331.2v4.2M373.7,330.8v4.2M377.5,329.9v4.2M381.2,329.2v4.2M385.0,328.3v4.2M388.8,327.8v4.2M392.5,328.1v4.2M396.3,327.4v4.2M400.0,327.4v4.2M403.8,327.1v4.2M407.6,325.2v4.2M411.3,326.3v4.2M415.1,324.6v4.2M418.9,325.7v4.2M422.6,325.0v4.2M426.4,324.3v4.2" stroke="#ac4c20" fill="none" stroke-width="0.6" />
<path d="M312.4,254.4h2.1v2.1h-2.1zM316.2,257.9h2.1v2.1h-2.1zM320.0,261.2h2.1v2.1h-2.1zM323.7,275.5h2.1v2.1h-2.1zM327.5,284.1h2.1v2.1h-2.1zM331.3,293.2h2.1v2.1h-2.1zM335.0,297.4h2.1v2.1h-2.1zM338.8,302.2h2.1v2.1h-2.1zM342.6,307.1h2.1v2.1h-2.1zM346.3,312.1h2.1v2.1h-2.1zM350.1,316.2h2.1v2.1h-2.1zM353.8,321.0h2.1v2.1h-2.1zM357.6,326.0h2.1v2.1h-2.1zM361.4,328.4h2.1v2.1h-2.1zM365.1,330.4h2.1v2.1h-2.1zM368.9,332.3h2.1v2.1h-2.1zM372.7,331.8h2.1v2.1h-2.1zM376.4,331.0h2.1v2.1h-2.1zM380.2,330.2h2.1v2.1h-2.1zM383.9,329.3h2.1v2.1h-2.1zM387.7,328.9h2.1v2.1h-2.1zM391.5,329.2h2.1v2.1h-2.1zM395.2,328.4h2.1v2.1h-2.1zM399.0,328.5h2.1v2.1h-2.1zM402.8,328.1h2.1v2.1h-2.1zM406.5,326.3h2.1v2.1h-2.1zM410.3,327.4h2.1v2.1h-2.1zM414.1,325.7h2.1v2.1h-2.1zM417.8,326.7h2.1v2.1h-2.1zM421.6,326.1h2.1v2.1h-2.1zM425.3,325.3h2.1v2.1h-2.1z" stroke="none" fill="#ac4c20" stroke-width="1" />
<path d="M313.50,255.50 L317.26,258.85 L321.03,262.79 L324.79,275.08 L328.55,283.12 L332.31,291.62 L336.08,295.08 L339.84,300.88 L343.60,304.56 L347.37,310.66 L351.13,312.69 L354.89,315.95 L358.66,320.02 L362.42,320.65 L366.18,322.34 L369.94,324.30 L373.71,323.75 L377.47,322.25 L381.23,323.57 L385.00,323.40 L388.76,323.68 L392.52,323.21 L396.29,323.88 L400.05,323.11 L403.81,321.45 L407.57,322.10 L411.34,322.49 L415.10,322.36 L418.86,322.06 L422.63,322.94 L426.39,322.24" stroke="#943a19" fill="none" stroke-width="0.75" />
<path d="M313.5,253.4v4.2M317.3,256.8v4.2M321.0,260.7v4.2M324.8,273.0v4.2M328.6,281.0v4.2M332.3,289.5v4.2M336.1,293.0v4.2M339.8,298.8v4.2M343.6,302.5v4.2M347.4,308.6v4.2M351.1,310.6v4.2M354.9,313.9v4.2M358.7,317.9v4.2M362.4,318.6v4.2M366.2,320.2v4.2M369.9,322.2v4.2M373.7,321.6v4.2M377.5,320.1v4.2M381.2,321.5v4.2M385.0,321.3v4.2M388.8,321.6v4.2M392.5,321.1v4.2M396.3,321.8v4.2M400.0,321.0v4.2M403.8,319.3v4.2M407.6,320.0v4.2M411.3,320.4v4.2M415.1,320.3v4.2M418.9,320.0v4.2M422.6,320.8v4.2M426.4,320.1v4.2" stroke="#943a19" fill="none" stroke-width="0.6" />
<path d="M312.4,254.4h2.1v2.1h-2.1zM316.2,257.8h2.1v2.1h-2.1zM320.0,261.7h2.1v2.1h-2.1zM323.7,274.0h2.1v2.1h-2.1zM327.5,282.1h2.1v2.1h-2.1zM331.3,290.6h2.1v2.1h-2.1zM335.0,294.0h2.1v2.1h-2.1zM338.8,299.8h2.1v2.1h-2.1zM342.6,303.5h2.1v2.1h-2.1zM346.3,309.6h2.1v2.1h-2.1zM350.1,311.6h2.1v2.1h-2.1zM353.8,314.9h2.1v2.1h-2.1zM357.6,319.0h2.1v2.1h-2.1zM361.4,319.6h2.1v2.1h-2.1zM365.1,321.3h2.1v2.1h-2.1zM368.9,323.2h2.1v2.1h-2.1zM372.7,322.7h2.1v2.1h-2.1zM376.4,321.2h2.1v2.1h-2.1zM380.2,322.5h2.1v2.1h-2.1zM383.9,322.3h2.1v2.1h-2.1zM387.7,322.6h2.1v2.1h-2.1zM391.5,322.2h2.1v2.1h-2.1zM395.2,322.8h2.1v2.1h-2.1zM399.0,322.1h2.1v2.1h-2.1zM402.8,320.4h2.1v2.1h-2.1zM406.5,321.0h2.1v2.1h-2.1zM410.3,321.4h2.1v2.1h-2.1zM414.1,321.3h2.1v2.1h-2.1zM417.8,321.0h2.1v2.1h-2.1zM421.6,321.9h2.1v2.1h-2.1zM425.3,321.2h2.1v2.1h-2.1z" stroke="none" fill="#943a19" stroke-width="1" />
<path d="M313.50,255.50 L317.26,258.62 L321.03,260.95 L324.79,274.72 L328.55,280.85 L332.31,287.52 L336.08,292.25 L339.84,295.87 L343.60,300.20 L347.37,302.35 L351.13,302.57 L354.89,305.19 L358.66,307.01 L362.42,306.94 L366.18,308.55 L369.94,308.62 L373.71,310.07 L377.47,310.48 L381.23,313.37 L385.00,313.26 L388.76,314.78 L392.52,316.37 L396.29,315.95 L400.05,317.92 L403.81,317.35 L407.57,318.84 L411.34,319.31 L415.10,320.23 L418.86,320.33 L422.63,322.49 L426.39,321.95" stroke="#782b13" fill="none" stroke-width="0.75" />
<path d="M313.5,253.4v4.2M317.3,256.5v4.2M321.0,258.9v4.2M324.8,272.6v4.2M328.6,278.8v4.2M332.3,285.4v4.2M336.1,290.1v4.2M339.8,293.8v4.2M343.6,298.1v4.2M347.4,300.2v4.2M351.1,300.5v4.2M354.9,303.1v4.2M358.7,304.9v4.2M362.4,304.8v4.2M366.2,306.4v4.2M369.9,306.5v4.2M373.7,308.0v4.2M377.5,308.4v4.2M381.2,311.3v4.2M385.0,311.2v4.2M388.8,312.7v4.2M392.5,314.3v4.2M396.3,313.9v4.2M400.0,315.8v4.2M403.8,315.3v4.2M407.6,316.7v4.2M411.3,317.2v4.2M415.1,318.1v4.2M418.9,318.2v4.2M422.6,320.4v4.2M426.4,319.9v4.2" stroke="#782b13" fill="none" stroke-width="0.6" />
<path d="M312.4,254.4h2.1v2.1h-2.1zM316.2,257.6h2.1v2.1h-2.1zM320.0,259.9h2.1v2.1h-2.1zM323.7,273.7h2.1v2.1h-2.1zM327.5,279.8h2.1v2.1h-2.1zM331.3,286.5h2.1v2.1h-2.1zM335.0,291.2h2.1v2.1h-2.1zM338.8,294.8h2.1v2.1h-2.1zM342.6,299.1h2.1v2.1h-2.1zM346.3,301.3h2.1v2.1h-2.1zM350.1,301.5h2.1v2.1h-2.1zM353.8,304.1h2.1v2.1h-2.1zM357.6,306.0h2.1v2.1h-2.1zM361.4,305.9h2.1v2.1h-2.1zM365.1,307.5h2.1v2.1h-2.1zM368.9,307.6h2.1v2.1h-2.1zM372.7,309.0h2.1v2.1h-2.1zM376.4,309.4h2.1v2.1h-2.1zM380.2,312.3h2.1v2.1h-2.1zM383.9,312.2h2.1v2.1h-2.1zM387.7,313.7h2.1v2.1h-2.1zM391.5,315.3h2.1v2.1h-2.1zM395.2,314.9h2.1v2.1h-2.1zM399.0,316.9h2.1v2.1h-2.1zM402.8,316.3h2.1v2.1h-2.1zM406.5,317.8h2.1v2.1h-2.1zM410.3,318.3h2.1v2.1h-2.1zM414.1,319.2h2.1v2.1h-2.1zM417.8,319.3h2.1v2.1h-2.1zM421.6,321.4h2.1v2.1h-2.1zM425.3,320.9h2.1v2.1h-2.1z" stroke="none" fill="#782b13" stroke-width="1" />
<path d="M313.50,255.50 L317.26,258.20 L321.03,261.25 L324.79,271.59 L328.55,278.50 L332.31,283.05 L336.08,285.87 L339.84,290.42 L343.60,293.40 L347.37,294.66 L351.13,295.53 L354.89,295.53 L358.66,297.66 L362.42,297.80 L366.18,298.53 L369.94,299.04 L373.71,300.77 L377.47,301.05 L381.23,303.35 L385.00,303.26 L388.76,305.03 L392.52,307.43 L396.29,308.71 L400.05,309.76 L403.81,309.90 L407.57,312.47 L411.34,313.84 L415.10,314.02 L418.86,314.77 L422.63,316.36 L426.39,316.06" stroke="#5c1e0d" fill="none" stroke-width="0.75" />
<path d="M313.5,253.4v4.2M317.3,256.1v4.2M321.0,259.1v4.2M324.8,269.5v4.2M328.6,276.4v4.2M332.3,280.9v4.2M336.1,283.8v4.2M339.8,288.3v4.2M343.6,291.3v4.2M347.4,292.6v4.2M351.1,293.4v4.2M354.9,293.4v4.2M358.7,295.6v4.2M362.4,295.7v4.2M366.2,296.4v4.2M369.9,296.9v4.2M373.7,298.7v4.2M377.5,299.0v4.2M381.2,301.3v4.2M385.0,301.2v4.2M388.8,302.9v4.2M392.5,305.3v4.2M396.3,306.6v4.2M400.0,307.7v4.2M403.8,307.8v4.2M407.6,310.4v4.2M411.3,311.7v4.2M415.1,311.9v4.2M418.9,312.7v4.2M422.6,314.3v4.2M426.4,314.0v4.2" stroke="#5c1e0d" fill="none" stroke-width="0.6" />
<path d="M312.4,254.4h2.1v2.1h-2.1zM316.2,257.1h2.1v2.1h-2.1zM320.0,260.2h2.1v2.1h-2.1zM323.7,270.5h2.1v2.1h-2.1zM327.5,277.5h2.1v2.1h-2.1zM331.3,282.0h2.1v2.1h-2.1zM335.0,284.8h2.1v2.1h-2.1zM338.8,289.4h2.1v2.1h-2.1zM342.6,292.4h2.1v2.1h-2.1zM346.3,293.6h2.1v2.1h-2.1zM350.1,294.5h2.1v2.1h-2.1zM353.8,294.5h2.1v2.1h-2.1zM357.6,296.6h2.1v2.1h-2.1zM361.4,296.7h2.1v2.1h-2.1zM365.1,297.5h2.1v2.1h-2.1zM368.9,298.0h2.1v2.1h-2.1zM372.7,299.7h2.1v2.1h-2.1zM376.4,300.0h2.1v2.1h-2.1zM380.2,302.3h2.1v2.1h-2.1zM383.9,302.2h2.1v2.1h-2.1zM387.7,304.0h2.1v2.1h-2.1zM391.5,306.4h2.1v2.1h-2.1zM395.2,307.7h2.1v2.1h-2.1zM399.0,308.7h2.1v2.1h-2.1zM402.8,308.8h2.1v2.1h-2.1zM406.5,311.4h2.1v2.1h-2.1zM410.3,312.8h2.1v2.1h-2.1zM414.1,313.0h2.1v2.1h-2.1zM417.8,313.7h2.1v2.1h-2.1zM421.6,315.3h2.1v2.1h-2.1zM425.3,315.0h2.1v2.1h-2.1z" stroke="none" fill="#5c1e0d" stroke-width="1" />
<path d="M313.50,255.50 L317.26,258.10 L321.03,261.71 L324.79,271.25 L328.55,275.97 L332.31,281.82 L336.08,282.51 L339.84,285.84 L343.60,286.98 L347.37,289.23 L351.13,288.66 L354.89,290.71 L358.66,291.47 L362.42,291.92 L366.18,293.68 L369.94,294.70 L373.71,295.30 L377.47,296.31 L381.23,298.49 L385.00,299.81 L388.76,301.44 L392.52,303.97 L396.29,304.10 L400.05,304.28 L403.81,306.88 L407.57,308.86 L411.34,308.83 L415.10,309.96 L418.86,310.46 L422.63,312.21 L426.39,312.65" stroke="#3f1509" fill="none" stroke-width="0.75" />
<path d="M313.5,253.4v4.2M317.3,256.0v4.2M321.0,259.6v4.2M324.8,269.2v4.2M328.6,273.9v4.2M332.3,279.7v4.2M336.1,280.4v4.2M339.8,283.7v4.2M343.6,284.9v4.2M347.4,287.1v4.2M351.1,286.6v4.2M354.9,288.6v4.2M358.7,289.4v4.2M362.4,289.8v4.2M366.2,291.6v4.2M369.9,292.6v4.2M373.7,293.2v4.2M377.5,294.2v4.2M381.2,296.4v4.2M385.0,297.7v4.2M388.8,299.3v4.2M392.5,301.9v4.2M396.3,302.0v4.2M400.0,302.2v4.2M403.8,304.8v4.2M407.6,306.8v4.2M411.3,306.7v4.2M415.1,307.9v4.2M418.9,308.4v4.2M422.6,310.1v4.2M426.4,310.5v4.2" stroke="#3f1509" fill="none" stroke-width="0.6" />
<path d="M312.4,254.4h2.1v2.1h-2.1zM316.2,257.1h2.1v2.1h-2.1zM320.0,260.7h2.1v2.1h-2.1zM323.7,270.2h2.1v2.1h-2.1zM327.5,274.9h2.1v2.1h-2.1zM331.3,280.8h2.1v2.1h-2.1zM335.0,281.5h2.1v2.1h-2.1zM338.8,284.8h2.1v2.1h-2.1zM342.6,285.9h2.1v2.1h-2.1zM346.3,288.2h2.1v2.1h-2.1zM350.1,287.6h2.1v2.1h-2.1zM353.8,289.7h2.1v2.1h-2.1zM357.6,290.4h2.1v2.1h-2.1zM361.4,290.9h2.1v2.1h-2.1zM365.1,292.6h2.1v2.1h-2.1zM368.9,293.7h2.1v2.1h-2.1zM372.7,294.2h2.1v2.1h-2.1zM376.4,295.3h2.1v2.1h-2.1zM380.2,297.4h2.1v2.1h-2.1zM383.9,298.8h2.1v2.1h-2.1zM387.7,300.4h2.1v2.1h-2.1zM391.5,302.9h2.1v2.1h-2.1zM395.2,303.0h2.1v2.1h-2.1zM399.0,303.2h2.1v2.1h-2.1zM402.8,305.8h2.1v2.1h-2.1zM406.5,307.8h2.1v2.1h-2.1zM410.3,307.8h2.1v2.1h-2.1zM414.1,308.9h2.1v2.1h-2.1zM417.8,309.4h2.1v2.1h-2.1zM421.6,311.2h2.1v2.1h-2.1zM425.3,311.6h2.1v2.1h-2.1z" stroke="none" fill="#3f1509" stroke-width="1" />
<path d="M313.50,255.50 L317.26,257.51 L321.03,259.60 L324.79,269.77 L328.55,274.60 L332.31,276.77 L336.08,280.09 L339.84,279.65 L343.60,281.28 L347.37,282.52 L351.13,285.33 L354.89,286.88 L358.66,287.85 L362.42,289.03 L366.18,289.69 L369.94,291.65 L373.71,292.77 L377.47,293.95 L381.23,295.08 L385.00,296.83 L388.76,297.54 L392.52,300.04 L396.29,300.83 L400.05,301.69 L403.81,303.11 L407.57,303.84 L411.34,305.59 L415.10,305.60 L418.86,307.73 L422.63,308.06 L426.39,309.86" stroke="#200d05" fill="none" stroke-width="0.75" />
<path d="M313.5,253.4v4.2M317.3,255.4v4.2M321.0,257.5v4.2M324.8,267.7v4.2M328.6,272.5v4.2M332.3,274.7v4.2M336.1,278.0v4.2M339.8,277.5v4.2M343.6,279.2v4.2M347.4,280.4v4.2M351.1,283.2v4.2M354.9,284.8v4.2M358.7,285.8v4.2M362.4,286.9v4.2M366.2,287.6v4.2M369.9,289.5v4.2M373.7,290.7v4.2M377.5,291.9v4.2M381.2,293.0v4.2M385.0,294.7v4.2M388.8,295.4v4.2M392.5,297.9v4.2M396.3,298.7v4.2M400.0,299.6v4.2M403.8,301.0v4.2M407.6,301.7v4.2M411.3,303.5v4.2M415.1,303.5v4.2M418.9,305.6v4.2M422.6,306.0v4.2M426.4,307.8v4.2" stroke="#200d05" fill="none" stroke-width="0.6" />
<path d="M312.4,254.4h2.1v2.1h-2.1zM316.2,256.5h2.1v2.1h-2.1zM320.0,258.5h2.1v2.1h-2.1zM323.7,268.7h2.1v2.1h-2.1zM327.5,273.5h2.1v2.1h-2.1zM331.3,275.7h2.1v2.1h-2.1zM335.0,279.0h2.1v2.1h-2.1zM338.8,278.6h2.1v2.1h-2.1zM342.6,280.2h2.1v2.1h-2.1zM346.3,281.5h2.1v2.1h-2.1zM350.1,284.3h2.1v2.1h-2.1zM353.8,285.8h2.1v2.1h-2.1zM357.6,286.8h2.1v2.1h-2.1zM361.4,288.0h2.1v2.1h-2.1zM365.1,288.6h2.1v2.1h-2.1zM368.9,290.6h2.1v2.1h-2.1zM372.7,291.7h2.1v2.1h-2.1zM376.4,292.9h2.1v2.1h-2.1zM380.2,294.0h2.1v2.1h-2.1zM383.9,295.8h2.1v2.1h-2.1zM387.7,296.5h2.1v2.1h-2.1zM391.5,299.0h2.1v2.1h-2.1zM395.2,299.8h2.1v2.1h-2.1zM399.0,300.6h2.1v2.1h-2.1zM402.8,302.1h2.1v2.1h-2.1zM406.5,302.8h2.1v2.1h-2.1zM410.3,304.5h2.1v2.1h-2.1zM414.1,304.5h2.1v2.1h-2.1zM417.8,306.7h2.1v2.1h-2.1zM421.6,307.0h2.1v2.1h-2.1zM425.3,308.8h2.1v2.1h-2.1z" stroke="none" fill="#200d05" stroke-width="1" />
<path d="M313.50,255.50 L317.26,258.80 L321.03,260.21 L324.79,270.05 L328.55,271.46 L332.31,272.69 L336.08,274.74 L339.84,275.56 L343.60,276.09 L347.37,275.37 L351.13,282.32 L354.89,283.33 L358.66,286.27 L362.42,287.14 L366.18,287.65 L369.94,288.17 L373.71,290.32 L377.47,291.82 L381.23,293.13 L385.00,294.84 L388.76,297.79 L392.52,297.65 L396.29,298.49 L400.05,299.06 L403.81,299.66 L407.57,301.59 L411.34,303.07 L415.10,304.81 L418.86,305.36 L422.63,306.11 L426.39,306.97" stroke="#000000" fill="none" stroke-width="0.75" />
<path d="M313.5,253.4v4.2M317.3,256.7v4.2M321.0,258.1v4.2M324.8,267.9v4.2M328.6,269.4v4.2M332.3,270.6v4.2M336.1,272.6v4.2M339.8,273.5v4.2M343.6,274.0v4.2M347.4,273.3v4.2M351.1,280.2v4.2M354.9,281.2v4.2M358.7,284.2v4.2M362.4,285.0v4.2M366.2,285.5v4.2M369.9,286.1v4.2M373.7,288.2v4.2M377.5,289.7v4.2M381.2,291.0v4.2M385.0,292.7v4.2M388.8,295.7v4.2M392.5,295.5v4.2M396.3,296.4v4.2M400.0,297.0v4.2M403.8,297.6v4.2M407.6,299.5v4.2M411.3,301.0v4.2M415.1,302.7v4.2M418.9,303.3v4.2M422.6,304.0v4.2M426.4,304.9v4.2" stroke="#000000" fill="none" stroke-width="0.6" />
<path d="M312.4,254.4h2.1v2.1h-2.1zM316.2,257.8h2.1v2.1h-2.1zM320.0,259.2h2.1v2.1h-2.1zM323.7,269.0h2.1v2.1h-2.1zM327.5,270.4h2.1v2.1h-2.1zM331.3,271.6h2.1v2.1h-2.1zM335.0,273.7h2.1v2.1h-2.1zM338.8,274.5h2.1v2.1h-2.1zM342.6,275.0h2.1v2.1h-2.1zM346.3,274.3h2.1v2.1h-2.1zM350.1,281.3h2.1v2.1h-2.1zM353.8,282.3h2.1v2.1h-2.1zM357.6,285.2h2.1v2.1h-2.1zM361.4,286.1h2.1v2.1h-2.1zM365.1,286.6h2.1v2.1h-2.1zM368.9,287.1h2.1v2.1h-2.1zM372.7,289.3h2.1v2.1h-2.1zM376.4,290.8h2.1v2.1h-2.1zM380.2,292.1h2.1v2.1h-2.1zM383.9,293.8h2.1v2.1h-2.1zM387.7,296.7h2.1v2.1h-2.1zM391.5,296.6h2.1v2.1h-2.1zM395.2,297.4h2.1v2.1h-2.1zM399.0,298.0h2.1v2.1h-2.1zM402.8,298.6h2.1v2.1h-2.1zM406.5,300.5h2.1v2.1h-2.1zM410.3,302.0h2.1v2.1h-2.1zM414.1,303.8h2.1v2.1h-2.1zM417.8,304.3h2.1v2.1h-2.1zM421.6,305.1h2.1v2.1h-2.1zM425.3,305.9h2.1v2.1h-2.1z" stroke="none" fill="#000000" stroke-width="1" />
<path d="M365.12,260.56 L363.18,264.96 L365.12,269.36" stroke="#1a1a1a" fill="none" stroke-width="0.6160000000000001" fill="none" stroke-linejoin="miter"/>
<path d="M367.82,259.59 C368.79,257.99 370.72,260.58 371.69,258.36" stroke="#1a1a1a" fill="none" stroke-width="0.5720000000000001" fill="none"/>
<path d="M375.97,260.56 L377.91,264.96 L375.97,269.36" stroke="#1a1a1a" fill="none" stroke-width="0.6160000000000001" fill="none" stroke-linejoin="miter"/>
<text fill="#1a1a1a"><tspan x="365.82" y="267.60" font-size="8.8" font-style="italic">X</tspan><tspan x="371.87" y="269.89" font-size="5.632000000000001">L</tspan></text>
<text transform="translate(289.80,298.60) rotate(-90)" font-size="9.1" text-anchor="middle" fill="#1a1a1a">Expectation value</text>
<text x="369.94" y="365.8" font-size="9.1" text-anchor="middle" fill="#1a1a1a">Cycle, <tspan font-style="italic">t</tspan></text>
<line x1="182.10" y1="251.00" x2="182.10" y2="342.20" stroke="#858585" stroke-width="0.9" />
<line x1="182.10" y1="342.20" x2="276.40" y2="342.20" stroke="#858585" stroke-width="0.9" />
<line x1="182.10" y1="327.10" x2="184.60" y2="327.10" stroke="#858585" stroke-width="0.9" />
<text x="178.50" y="330.30" font-size="9.4" text-anchor="end" fill="#1a1a1a" >0</text>
<line x1="182.10" y1="291.20" x2="184.60" y2="291.20" stroke="#858585" stroke-width="0.9" />
<text x="178.50" y="294.40" font-size="9.4" text-anchor="end" fill="#1a1a1a" >0.5</text>
<line x1="182.10" y1="255.30" x2="184.60" y2="255.30" stroke="#858585" stroke-width="0.9" />
<text x="178.50" y="258.50" font-size="9.4" text-anchor="end" fill="#1a1a1a" >1.0</text>
<line x1="198.80" y1="342.20" x2="198.80" y2="339.70" stroke="#858585" stroke-width="0.9" />
<text x="198.80" y="352.50" font-size="9.4" text-anchor="middle" fill="#1a1a1a" >1.0</text>
<line x1="229.90" y1="342.20" x2="229.90" y2="339.70" stroke="#858585" stroke-width="0.9" />
<text x="229.90" y="352.50" font-size="9.4" text-anchor="middle" fill="#1a1a1a" >2.0</text>
<line x1="261.00" y1="342.20" x2="261.00" y2="339.70" stroke="#858585" stroke-width="0.9" />
<text x="261.00" y="352.50" font-size="9.4" text-anchor="middle" fill="#1a1a1a" >3.0</text>
<line x1="192.58" y1="320.21" x2="192.58" y2="326.81" stroke="#f9e06c" stroke-width="0.8" />
<path d="M189.73,325.99 L195.43,325.99 L192.58,321.03 Z" stroke="#f9e06c" fill="none" stroke-width="0.9" />
<line x1="192.58" y1="327.39" x2="192.58" y2="333.99" stroke="#f9e06c" stroke-width="0.8" />
<rect x="190.58" y="328.69" width="4.00" height="4.00" fill="none" stroke="#f9e06c" stroke-width="0.9" rx="0" />
<line x1="198.80" y1="325.95" x2="198.80" y2="332.55" stroke="#f3cd5d" stroke-width="0.8" />
<path d="M195.95,331.73 L201.65,331.73 L198.80,326.77 Z" stroke="#f3cd5d" fill="none" stroke-width="0.9" />
<line x1="198.80" y1="333.13" x2="198.80" y2="339.73" stroke="#f3cd5d" stroke-width="0.8" />
<rect x="196.80" y="334.43" width="4.00" height="4.00" fill="none" stroke="#f3cd5d" stroke-width="0.9" rx="0" />
<line x1="205.02" y1="323.08" x2="205.02" y2="329.68" stroke="#ebb44e" stroke-width="0.8" />
<path d="M202.17,328.86 L207.87,328.86 L205.02,323.90 Z" stroke="#ebb44e" fill="none" stroke-width="0.9" />
<line x1="205.02" y1="325.24" x2="205.02" y2="331.84" stroke="#ebb44e" stroke-width="0.8" />
<rect x="203.02" y="326.54" width="4.00" height="4.00" fill="none" stroke="#ebb44e" stroke-width="0.9" rx="0" />
<line x1="211.24" y1="307.29" x2="211.24" y2="313.89" stroke="#e09a41" stroke-width="0.8" />
<path d="M208.39,313.07 L214.09,313.07 L211.24,308.11 Z" stroke="#e09a41" fill="none" stroke-width="0.9" />
<line x1="211.24" y1="308.00" x2="211.24" y2="314.60" stroke="#e09a41" stroke-width="0.8" />
<rect x="209.24" y="309.30" width="4.00" height="4.00" fill="none" stroke="#e09a41" stroke-width="0.9" rx="0" />
<line x1="217.46" y1="295.08" x2="217.46" y2="301.68" stroke="#d38035" stroke-width="0.8" />
<path d="M214.61,300.86 L220.31,300.86 L217.46,295.90 Z" stroke="#d38035" fill="none" stroke-width="0.9" />
<line x1="217.46" y1="296.52" x2="217.46" y2="303.12" stroke="#d38035" stroke-width="0.8" />
<rect x="215.46" y="297.82" width="4.00" height="4.00" fill="none" stroke="#d38035" stroke-width="0.9" rx="0" />
<line x1="223.68" y1="285.03" x2="223.68" y2="291.63" stroke="#c2662a" stroke-width="0.8" />
<path d="M220.83,290.81 L226.53,290.81 L223.68,285.85 Z" stroke="#c2662a" fill="none" stroke-width="0.9" />
<line x1="223.68" y1="290.77" x2="223.68" y2="297.37" stroke="#c2662a" stroke-width="0.8" />
<rect x="221.68" y="292.07" width="4.00" height="4.00" fill="none" stroke="#c2662a" stroke-width="0.9" rx="0" />
<line x1="229.90" y1="280.72" x2="229.90" y2="287.32" stroke="#ac4c20" stroke-width="0.8" />
<path d="M227.05,286.50 L232.75,286.50 L229.90,281.54 Z" stroke="#ac4c20" fill="none" stroke-width="0.9" />
<line x1="229.90" y1="288.62" x2="229.90" y2="295.22" stroke="#ac4c20" stroke-width="0.8" />
<rect x="227.90" y="289.92" width="4.00" height="4.00" fill="none" stroke="#ac4c20" stroke-width="0.9" rx="0" />
<line x1="236.12" y1="277.13" x2="236.12" y2="283.73" stroke="#943a19" stroke-width="0.8" />
<path d="M233.27,282.91 L238.97,282.91 L236.12,277.95 Z" stroke="#943a19" fill="none" stroke-width="0.9" />
<line x1="236.12" y1="286.46" x2="236.12" y2="293.06" stroke="#943a19" stroke-width="0.8" />
<rect x="234.12" y="287.76" width="4.00" height="4.00" fill="none" stroke="#943a19" stroke-width="0.9" rx="0" />
<line x1="242.34" y1="274.98" x2="242.34" y2="281.58" stroke="#782b13" stroke-width="0.8" />
<path d="M239.49,280.76 L245.19,280.76 L242.34,275.80 Z" stroke="#782b13" fill="none" stroke-width="0.9" />
<line x1="242.34" y1="285.03" x2="242.34" y2="291.63" stroke="#782b13" stroke-width="0.8" />
<rect x="240.34" y="286.33" width="4.00" height="4.00" fill="none" stroke="#782b13" stroke-width="0.9" rx="0" />
<line x1="248.56" y1="273.54" x2="248.56" y2="280.14" stroke="#5c1e0d" stroke-width="0.8" />
<path d="M245.71,279.32 L251.41,279.32 L248.56,274.36 Z" stroke="#5c1e0d" fill="none" stroke-width="0.9" />
<line x1="248.56" y1="284.31" x2="248.56" y2="290.91" stroke="#5c1e0d" stroke-width="0.8" />
<rect x="246.56" y="285.61" width="4.00" height="4.00" fill="none" stroke="#5c1e0d" stroke-width="0.9" rx="0" />
<line x1="254.78" y1="272.82" x2="254.78" y2="279.42" stroke="#3f1509" stroke-width="0.8" />
<path d="M251.93,278.60 L257.63,278.60 L254.78,273.64 Z" stroke="#3f1509" fill="none" stroke-width="0.9" />
<line x1="254.78" y1="283.59" x2="254.78" y2="290.19" stroke="#3f1509" stroke-width="0.8" />
<rect x="252.78" y="284.89" width="4.00" height="4.00" fill="none" stroke="#3f1509" stroke-width="0.9" rx="0" />
<line x1="261.00" y1="272.10" x2="261.00" y2="278.70" stroke="#200d05" stroke-width="0.8" />
<path d="M258.15,277.88 L263.85,277.88 L261.00,272.92 Z" stroke="#200d05" fill="none" stroke-width="0.9" />
<line x1="261.00" y1="283.59" x2="261.00" y2="290.19" stroke="#200d05" stroke-width="0.8" />
<rect x="259.00" y="284.89" width="4.00" height="4.00" fill="none" stroke="#200d05" stroke-width="0.9" rx="0" />
<line x1="267.22" y1="272.10" x2="267.22" y2="278.70" stroke="#000000" stroke-width="0.8" />
<path d="M264.37,277.88 L270.07,277.88 L267.22,272.92 Z" stroke="#000000" fill="none" stroke-width="0.9" />
<line x1="267.22" y1="283.95" x2="267.22" y2="290.55" stroke="#000000" stroke-width="0.8" />
<rect x="265.22" y="285.25" width="4.00" height="4.00" fill="none" stroke="#000000" stroke-width="0.9" rx="0" />
<text transform="translate(158.80,298.60) rotate(-90)" font-size="9.1" text-anchor="middle" fill="#1a1a1a">Expectation value</text>
<line x1="197.30" y1="258.40" x2="197.30" y2="265.00" stroke="#c98862" stroke-width="0.8" />
<rect x="195.30" y="259.70" width="4.00" height="4.00" fill="none" stroke="#c98862" stroke-width="0.9" rx="0" />
<line x1="238.80" y1="258.40" x2="238.80" y2="265.00" stroke="#c0623a" stroke-width="0.8" />
<path d="M235.95,264.18 L241.65,264.18 L238.80,259.22 Z" stroke="#c0623a" fill="none" stroke-width="0.9" />
<path d="M205.70,257.70 L203.72,262.20 L205.70,266.70" stroke="#1a1a1a" fill="none" stroke-width="0.6300000000000001" fill="none" stroke-linejoin="miter"/>
<path d="M208.18,256.71 C209.17,255.07 211.15,257.72 212.14,255.45" stroke="#1a1a1a" fill="none" stroke-width="0.585" fill="none"/>
<path d="M216.29,257.70 L218.27,262.20 L216.29,266.70" stroke="#1a1a1a" fill="none" stroke-width="0.6300000000000001" fill="none" stroke-linejoin="miter"/>
<text fill="#1a1a1a"><tspan x="206.42" y="264.90" font-size="9.0" font-style="italic">Z</tspan><tspan x="212.10" y="267.24" font-size="5.76">L</tspan></text>
<path d="M247.20,257.70 L245.22,262.20 L247.20,266.70" stroke="#1a1a1a" fill="none" stroke-width="0.6300000000000001" fill="none" stroke-linejoin="miter"/>
<path d="M249.68,256.71 C250.67,255.07 252.65,257.72 253.64,255.45" stroke="#1a1a1a" fill="none" stroke-width="0.585" fill="none"/>
<path d="M258.75,257.70 L260.73,262.20 L258.75,266.70" stroke="#1a1a1a" fill="none" stroke-width="0.6300000000000001" fill="none" stroke-linejoin="miter"/>
<text fill="#1a1a1a"><tspan x="247.92" y="264.90" font-size="9.0" font-style="italic">Z</tspan><tspan x="253.60" y="267.24" font-size="5.76">R</tspan></text>
<text x="275.2" y="336.4" font-size="9" text-anchor="end" fill="#1a1a1a"><tspan font-style="italic">t</tspan> = 15</text>
<text x="230.0" y="366.6" font-size="9" text-anchor="middle" fill="#1a1a1a" font-style="italic">J<tspan font-size="5.8" dy="1.8">o</tspan><tspan dy="-1.8">/J</tspan><tspan font-size="5.8" dy="1.8">e</tspan></text>
<line x1="467.20" y1="251.00" x2="467.20" y2="341.80" stroke="#858585" stroke-width="0.9" />
<line x1="467.20" y1="341.80" x2="561.50" y2="341.80" stroke="#858585" stroke-width="0.9" />
<line x1="467.20" y1="326.90" x2="469.70" y2="326.90" stroke="#858585" stroke-width="0.9" />
<text x="463.60" y="330.10" font-size="9.4" text-anchor="end" fill="#1a1a1a" >0</text>
<line x1="467.20" y1="291.25" x2="469.70" y2="291.25" stroke="#858585" stroke-width="0.9" />
<text x="463.60" y="294.45" font-size="9.4" text-anchor="end" fill="#1a1a1a" >0.5</text>
<line x1="467.20" y1="255.60" x2="469.70" y2="255.60" stroke="#858585" stroke-width="0.9" />
<text x="463.60" y="258.80" font-size="9.4" text-anchor="end" fill="#1a1a1a" >1.0</text>
<line x1="483.90" y1="341.80" x2="483.90" y2="339.30" stroke="#858585" stroke-width="0.9" />
<text x="483.90" y="352.50" font-size="9.4" text-anchor="middle" fill="#1a1a1a" >1.0</text>
<line x1="515.70" y1="341.80" x2="515.70" y2="339.30" stroke="#858585" stroke-width="0.9" />
<text x="515.70" y="352.50" font-size="9.4" text-anchor="middle" fill="#1a1a1a" >2.0</text>
<line x1="547.50" y1="341.80" x2="547.50" y2="339.30" stroke="#858585" stroke-width="0.9" />
<text x="547.50" y="352.50" font-size="9.4" text-anchor="middle" fill="#1a1a1a" >3.0</text>
<line x1="477.54" y1="326.45" x2="477.54" y2="333.05" stroke="#f9e06c" stroke-width="0.8" />
<path d="M474.69,332.23 L480.39,332.23 L477.54,327.27 Z" stroke="#f9e06c" fill="none" stroke-width="0.9" />
<line x1="477.54" y1="325.74" x2="477.54" y2="332.34" stroke="#f9e06c" stroke-width="0.8" />
<rect x="475.54" y="327.04" width="4.00" height="4.00" fill="none" stroke="#f9e06c" stroke-width="0.9" rx="0" />
<line x1="483.90" y1="330.73" x2="483.90" y2="337.33" stroke="#f3cd5d" stroke-width="0.8" />
<path d="M481.05,336.51 L486.75,336.51 L483.90,331.55 Z" stroke="#f3cd5d" fill="none" stroke-width="0.9" />
<line x1="483.90" y1="332.16" x2="483.90" y2="338.76" stroke="#f3cd5d" stroke-width="0.8" />
<rect x="481.90" y="333.46" width="4.00" height="4.00" fill="none" stroke="#f3cd5d" stroke-width="0.9" rx="0" />
<line x1="490.26" y1="326.45" x2="490.26" y2="333.05" stroke="#ebb44e" stroke-width="0.8" />
<path d="M487.41,332.23 L493.11,332.23 L490.26,327.27 Z" stroke="#ebb44e" fill="none" stroke-width="0.9" />
<line x1="490.26" y1="326.45" x2="490.26" y2="333.05" stroke="#ebb44e" stroke-width="0.8" />
<rect x="488.26" y="327.75" width="4.00" height="4.00" fill="none" stroke="#ebb44e" stroke-width="0.9" rx="0" />
<line x1="496.62" y1="313.62" x2="496.62" y2="320.22" stroke="#e09a41" stroke-width="0.8" />
<path d="M493.77,319.40 L499.47,319.40 L496.62,314.44 Z" stroke="#e09a41" fill="none" stroke-width="0.9" />
<line x1="496.62" y1="316.47" x2="496.62" y2="323.07" stroke="#e09a41" stroke-width="0.8" />
<rect x="494.62" y="317.77" width="4.00" height="4.00" fill="none" stroke="#e09a41" stroke-width="0.9" rx="0" />
<line x1="502.98" y1="300.07" x2="502.98" y2="306.67" stroke="#d38035" stroke-width="0.8" />
<path d="M500.13,305.85 L505.83,305.85 L502.98,300.89 Z" stroke="#d38035" fill="none" stroke-width="0.9" />
<line x1="502.98" y1="315.04" x2="502.98" y2="321.64" stroke="#d38035" stroke-width="0.8" />
<rect x="500.98" y="316.34" width="4.00" height="4.00" fill="none" stroke="#d38035" stroke-width="0.9" rx="0" />
<line x1="509.34" y1="291.51" x2="509.34" y2="298.12" stroke="#c2662a" stroke-width="0.8" />
<path d="M506.49,297.29 L512.19,297.29 L509.34,292.34 Z" stroke="#c2662a" fill="none" stroke-width="0.9" />
<line x1="509.34" y1="323.60" x2="509.34" y2="330.20" stroke="#c2662a" stroke-width="0.8" />
<rect x="507.34" y="324.90" width="4.00" height="4.00" fill="none" stroke="#c2662a" stroke-width="0.9" rx="0" />
<line x1="515.70" y1="287.95" x2="515.70" y2="294.55" stroke="#ac4c20" stroke-width="0.8" />
<path d="M512.85,293.73 L518.55,293.73 L515.70,288.77 Z" stroke="#ac4c20" fill="none" stroke-width="0.9" />
<line x1="515.70" y1="330.02" x2="515.70" y2="336.62" stroke="#ac4c20" stroke-width="0.8" />
<rect x="513.70" y="331.32" width="4.00" height="4.00" fill="none" stroke="#ac4c20" stroke-width="0.9" rx="0" />
<line x1="522.06" y1="285.81" x2="522.06" y2="292.41" stroke="#943a19" stroke-width="0.8" />
<path d="M519.21,291.59 L524.91,291.59 L522.06,286.63 Z" stroke="#943a19" fill="none" stroke-width="0.9" />
<line x1="522.06" y1="320.75" x2="522.06" y2="327.35" stroke="#943a19" stroke-width="0.8" />
<rect x="520.06" y="322.05" width="4.00" height="4.00" fill="none" stroke="#943a19" stroke-width="0.9" rx="0" />
<line x1="528.42" y1="284.38" x2="528.42" y2="290.98" stroke="#782b13" stroke-width="0.8" />
<path d="M525.57,290.16 L531.27,290.16 L528.42,285.21 Z" stroke="#782b13" fill="none" stroke-width="0.9" />
<line x1="528.42" y1="305.06" x2="528.42" y2="311.66" stroke="#782b13" stroke-width="0.8" />
<rect x="526.42" y="306.36" width="4.00" height="4.00" fill="none" stroke="#782b13" stroke-width="0.9" rx="0" />
<line x1="534.78" y1="282.96" x2="534.78" y2="289.56" stroke="#5c1e0d" stroke-width="0.8" />
<path d="M531.93,288.74 L537.63,288.74 L534.78,283.78 Z" stroke="#5c1e0d" fill="none" stroke-width="0.9" />
<line x1="534.78" y1="295.08" x2="534.78" y2="301.68" stroke="#5c1e0d" stroke-width="0.8" />
<rect x="532.78" y="296.38" width="4.00" height="4.00" fill="none" stroke="#5c1e0d" stroke-width="0.9" rx="0" />
<line x1="541.14" y1="284.38" x2="541.14" y2="290.98" stroke="#3f1509" stroke-width="0.8" />
<path d="M538.29,290.16 L543.99,290.16 L541.14,285.21 Z" stroke="#3f1509" fill="none" stroke-width="0.9" />
<line x1="541.14" y1="289.38" x2="541.14" y2="295.98" stroke="#3f1509" stroke-width="0.8" />
<rect x="539.14" y="290.68" width="4.00" height="4.00" fill="none" stroke="#3f1509" stroke-width="0.9" rx="0" />
<line x1="547.50" y1="285.10" x2="547.50" y2="291.70" stroke="#200d05" stroke-width="0.8" />
<path d="M544.65,290.88 L550.35,290.88 L547.50,285.92 Z" stroke="#200d05" fill="none" stroke-width="0.9" />
<line x1="547.50" y1="286.52" x2="547.50" y2="293.12" stroke="#200d05" stroke-width="0.8" />
<rect x="545.50" y="287.82" width="4.00" height="4.00" fill="none" stroke="#200d05" stroke-width="0.9" rx="0" />
<line x1="553.86" y1="285.10" x2="553.86" y2="291.70" stroke="#000000" stroke-width="0.8" />
<path d="M551.01,290.88 L556.71,290.88 L553.86,285.92 Z" stroke="#000000" fill="none" stroke-width="0.9" />
<line x1="553.86" y1="285.10" x2="553.86" y2="291.70" stroke="#000000" stroke-width="0.8" />
<rect x="551.86" y="286.40" width="4.00" height="4.00" fill="none" stroke="#000000" stroke-width="0.9" rx="0" />
<text transform="translate(443.60,298.60) rotate(-90)" font-size="9.1" text-anchor="middle" fill="#1a1a1a">Expectation value</text>
<line x1="483.90" y1="258.20" x2="483.90" y2="264.80" stroke="#c98862" stroke-width="0.8" />
<rect x="481.90" y="259.50" width="4.00" height="4.00" fill="none" stroke="#c98862" stroke-width="0.9" rx="0" />
<line x1="523.20" y1="258.20" x2="523.20" y2="264.80" stroke="#c0623a" stroke-width="0.8" />
<path d="M520.35,263.98 L526.05,263.98 L523.20,259.02 Z" stroke="#c0623a" fill="none" stroke-width="0.9" />
<path d="M491.70,257.50 L489.72,262.00 L491.70,266.50" stroke="#1a1a1a" fill="none" stroke-width="0.6300000000000001" fill="none" stroke-linejoin="miter"/>
<path d="M494.46,256.51 C495.45,254.87 497.43,257.52 498.42,255.25" stroke="#1a1a1a" fill="none" stroke-width="0.585" fill="none"/>
<path d="M502.80,257.50 L504.78,262.00 L502.80,266.50" stroke="#1a1a1a" fill="none" stroke-width="0.6300000000000001" fill="none" stroke-linejoin="miter"/>
<text fill="#1a1a1a"><tspan x="492.42" y="264.70" font-size="9.0" font-style="italic">X</tspan><tspan x="498.60" y="267.04" font-size="5.76">L</tspan></text>
<path d="M531.20,257.50 L529.22,262.00 L531.20,266.50" stroke="#1a1a1a" fill="none" stroke-width="0.6300000000000001" fill="none" stroke-linejoin="miter"/>
<path d="M533.96,256.51 C534.95,254.87 536.93,257.52 537.92,255.25" stroke="#1a1a1a" fill="none" stroke-width="0.585" fill="none"/>
<path d="M543.25,257.50 L545.23,262.00 L543.25,266.50" stroke="#1a1a1a" fill="none" stroke-width="0.6300000000000001" fill="none" stroke-linejoin="miter"/>
<text fill="#1a1a1a"><tspan x="531.92" y="264.70" font-size="9.0" font-style="italic">X</tspan><tspan x="538.10" y="267.04" font-size="5.76">R</tspan></text>
<text x="561.0" y="336.2" font-size="9" text-anchor="end" fill="#1a1a1a"><tspan font-style="italic">t</tspan> = 15</text>
<text x="515.2" y="366.0" font-size="9" text-anchor="middle" fill="#1a1a1a" font-style="italic">J<tspan font-size="5.8" dy="1.8">o</tspan><tspan dy="-1.8">/J</tspan><tspan font-size="5.8" dy="1.8">e</tspan></text>
<text x="647.3" y="10.8" font-size="9.5" text-anchor="middle" fill="#1a1a1a"><tspan font-style="italic">Ψ</tspan><tspan font-size="6" dy="-3.6" font-style="italic">z</tspan><tspan font-size="6" dx="-3.2" dy="6.4">L</tspan></text>
<line x1="610.40" y1="17.00" x2="610.40" y2="92.20" stroke="#858585" stroke-width="0.8" />
<line x1="610.40" y1="92.20" x2="682.50" y2="92.20" stroke="#858585" stroke-width="0.8" />
<line x1="681.00" y1="92.20" x2="681.00" y2="90.20" stroke="#858585" stroke-width="0.8" />
<rect x="632.40" y="22.20" width="48.60" height="13.60" fill="#1d4526" stroke="none" stroke-width="1" rx="0" />
<rect x="632.40" y="39.20" width="6.32" height="13.60" fill="#4e8c5c" stroke="none" stroke-width="1" rx="0" />
<rect x="632.40" y="39.60" width="8.26" height="12.80" fill="none" stroke="#707070" stroke-width="0.85" rx="0" />
<rect x="629.97" y="56.20" width="2.43" height="13.60" fill="#a0522d" stroke="none" stroke-width="1" rx="0" />
<rect x="629.97" y="56.60" width="2.43" height="12.80" fill="none" stroke="#d43a3a" stroke-width="0.85" rx="0" />
<rect x="627.54" y="73.20" width="4.86" height="13.60" fill="#b9dcc0" stroke="none" stroke-width="1" rx="0" />
<rect x="626.57" y="73.60" width="5.83" height="12.80" fill="none" stroke="#d43a3a" stroke-width="0.85" rx="0" />
<line x1="632.40" y1="19.80" x2="632.40" y2="92.20" stroke="#444" stroke-width="0.8" />
<path d="M599.69,23.72 C600.81,21.86 603.05,24.86 604.18,22.29" stroke="#1a1a1a" fill="none" stroke-width="0.6629999999999999" fill="none"/>
<text fill="#1a1a1a"><tspan x="597.69" y="33.00" font-size="10.2" font-style="italic">Z</tspan><tspan x="604.02" y="35.20" font-size="6.8">L</tspan></text>
<text x="607.8" y="48.80" font-size="1" text-anchor="end" fill="#2a2a2a" style="stroke:none"><tspan font-style="italic" font-size="10.2">σ</tspan><tspan font-size="6.2" dy="-3.4" font-style="italic">x</tspan><tspan font-size="6.2" dx="-3.0" dy="6.3">1</tspan><tspan dy="-2.9"> </tspan><tspan font-style="italic" font-size="10.2">σ</tspan><tspan font-size="6.2" dy="-3.4" font-style="italic">x</tspan><tspan font-size="6.2" dx="-3.0" dy="6.3">2</tspan><tspan dy="-2.9"> </tspan><tspan font-style="italic" font-size="10.2">σ</tspan><tspan font-size="6.2" dy="-3.4" font-style="italic">z</tspan><tspan font-size="6.2" dx="-3.0" dy="6.3">3</tspan><tspan dy="-2.9"> </tspan></text>
<text x="607.8" y="65.80" font-size="1" text-anchor="end" fill="#2a2a2a" style="stroke:none"><tspan font-style="italic" font-size="10.2">σ</tspan><tspan font-size="6.2" dy="-3.4" font-style="italic">x</tspan><tspan font-size="6.2" dx="-3.0" dy="6.3">1</tspan><tspan dy="-2.9"> </tspan><tspan font-style="italic" font-size="10.2">σ</tspan><tspan font-size="6.2" dy="-3.4" font-style="italic">z</tspan><tspan font-size="6.2" dx="-3.0" dy="6.3">3</tspan><tspan dy="-2.9"> </tspan></text>
<text x="607.8" y="82.80" font-size="1" text-anchor="end" fill="#2a2a2a" style="stroke:none"><tspan font-style="italic" font-size="10.2">σ</tspan><tspan font-size="6.2" dy="-3.4" font-style="italic">y</tspan><tspan font-size="6.2" dx="-3.0" dy="6.3">1</tspan><tspan dy="-2.9"> </tspan><tspan font-style="italic" font-size="10.2">σ</tspan><tspan font-size="6.2" dy="-3.4" font-style="italic">y</tspan><tspan font-size="6.2" dx="-3.0" dy="6.3">2</tspan><tspan dy="-2.9"> </tspan><tspan font-style="italic" font-size="10.2">σ</tspan><tspan font-size="6.2" dy="-3.4" font-style="italic">x</tspan><tspan font-size="6.2" dx="-3.0" dy="6.3">3</tspan><tspan dy="-2.9"> </tspan><tspan font-style="italic" font-size="10.2">σ</tspan><tspan font-size="6.2" dy="-3.4" font-style="italic">z</tspan><tspan font-size="6.2" dx="-3.0" dy="6.3">4</tspan><tspan dy="-2.9"> </tspan></text>
<text x="634.50" y="73.90" font-size="9" fill="#1a1a1a"><tspan font-style="italic">J</tspan><tspan font-size="5.8" dy="1.8" font-style="italic">o</tspan><tspan dy="-1.8" font-style="italic">/J</tspan><tspan font-size="5.8" dy="1.8" font-style="italic">e</tspan><tspan dy="-1.8"> = 3.17</tspan></text>
<line x1="610.40" y1="100.25" x2="610.40" y2="175.45" stroke="#858585" stroke-width="0.8" />
<line x1="610.40" y1="175.45" x2="682.50" y2="175.45" stroke="#858585" stroke-width="0.8" />
<line x1="681.00" y1="175.45" x2="681.00" y2="173.45" stroke="#858585" stroke-width="0.8" />
<rect x="632.40" y="105.45" width="48.36" height="13.60" fill="#1d4526" stroke="none" stroke-width="1" rx="0" />
<rect x="632.40" y="122.45" width="6.32" height="13.60" fill="#4e8c5c" stroke="none" stroke-width="1" rx="0" />
<rect x="632.40" y="122.85" width="8.26" height="12.80" fill="none" stroke="#707070" stroke-width="0.85" rx="0" />
<rect x="628.51" y="139.45" width="3.89" height="13.60" fill="#4e8c5c" stroke="none" stroke-width="1" rx="0" />
<rect x="628.27" y="139.85" width="4.13" height="12.80" fill="none" stroke="#d43a3a" stroke-width="0.85" rx="0" />
<rect x="626.57" y="156.45" width="5.83" height="13.60" fill="#b9dcc0" stroke="none" stroke-width="1" rx="0" />
<rect x="623.17" y="156.85" width="9.23" height="12.80" fill="none" stroke="#d43a3a" stroke-width="0.85" rx="0" />
<line x1="632.40" y1="103.05" x2="632.40" y2="175.45" stroke="#444" stroke-width="0.8" />
<path d="M599.69,106.97 C600.81,105.11 603.05,108.11 604.18,105.54" stroke="#1a1a1a" fill="none" stroke-width="0.6629999999999999" fill="none"/>
<text fill="#1a1a1a"><tspan x="597.69" y="116.25" font-size="10.2" font-style="italic">Z</tspan><tspan x="604.02" y="118.45" font-size="6.8">L</tspan></text>
<text x="607.8" y="132.05" font-size="1" text-anchor="end" fill="#2a2a2a" style="stroke:none"><tspan font-style="italic" font-size="10.2">σ</tspan><tspan font-size="6.2" dy="-3.4" font-style="italic">x</tspan><tspan font-size="6.2" dx="-3.0" dy="6.3">1</tspan><tspan dy="-2.9"> </tspan><tspan font-style="italic" font-size="10.2">σ</tspan><tspan font-size="6.2" dy="-3.4" font-style="italic">x</tspan><tspan font-size="6.2" dx="-3.0" dy="6.3">2</tspan><tspan dy="-2.9"> </tspan><tspan font-style="italic" font-size="10.2">σ</tspan><tspan font-size="6.2" dy="-3.4" font-style="italic">z</tspan><tspan font-size="6.2" dx="-3.0" dy="6.3">3</tspan><tspan dy="-2.9"> </tspan></text>
<text x="607.8" y="149.05" font-size="1" text-anchor="end" fill="#2a2a2a" style="stroke:none"><tspan font-style="italic" font-size="10.2">σ</tspan><tspan font-size="6.2" dy="-3.4" font-style="italic">x</tspan><tspan font-size="6.2" dx="-3.0" dy="6.3">1</tspan><tspan dy="-2.9"> </tspan><tspan font-style="italic" font-size="10.2">σ</tspan><tspan font-size="6.2" dy="-3.4" font-style="italic">z</tspan><tspan font-size="6.2" dx="-3.0" dy="6.3">3</tspan><tspan dy="-2.9"> </tspan></text>
<text x="607.8" y="166.05" font-size="1" text-anchor="end" fill="#2a2a2a" style="stroke:none"><tspan font-style="italic" font-size="10.2">σ</tspan><tspan font-size="6.2" dy="-3.4" font-style="italic">y</tspan><tspan font-size="6.2" dx="-3.0" dy="6.3">1</tspan><tspan dy="-2.9"> </tspan><tspan font-style="italic" font-size="10.2">σ</tspan><tspan font-size="6.2" dy="-3.4" font-style="italic">y</tspan><tspan font-size="6.2" dx="-3.0" dy="6.3">2</tspan><tspan dy="-2.9"> </tspan><tspan font-style="italic" font-size="10.2">σ</tspan><tspan font-size="6.2" dy="-3.4" font-style="italic">x</tspan><tspan font-size="6.2" dx="-3.0" dy="6.3">3</tspan><tspan dy="-2.9"> </tspan><tspan font-style="italic" font-size="10.2">σ</tspan><tspan font-size="6.2" dy="-3.4" font-style="italic">z</tspan><tspan font-size="6.2" dx="-3.0" dy="6.3">4</tspan><tspan dy="-2.9"> </tspan></text>
<text x="637.00" y="157.15" font-size="9" fill="#1a1a1a"><tspan font-style="italic">J</tspan><tspan font-size="5.8" dy="1.8" font-style="italic">o</tspan><tspan dy="-1.8" font-style="italic">/J</tspan><tspan font-size="5.8" dy="1.8" font-style="italic">e</tspan><tspan dy="-1.8"> = 2.2</tspan></text>
<line x1="610.40" y1="183.50" x2="610.40" y2="258.70" stroke="#858585" stroke-width="0.8" />
<line x1="610.40" y1="258.70" x2="682.50" y2="258.70" stroke="#858585" stroke-width="0.8" />
<line x1="681.00" y1="258.70" x2="681.00" y2="256.70" stroke="#858585" stroke-width="0.8" />
<rect x="632.40" y="188.70" width="45.20" height="13.60" fill="#1d4526" stroke="none" stroke-width="1" rx="0" />
<rect x="632.40" y="205.70" width="8.02" height="13.60" fill="#4e8c5c" stroke="none" stroke-width="1" rx="0" />
<rect x="632.40" y="206.10" width="8.02" height="12.80" fill="none" stroke="#4e8c5c" stroke-width="0.85" rx="0" />
<rect x="623.65" y="222.70" width="8.75" height="13.60" fill="#6aa878" stroke="none" stroke-width="1" rx="0" />
<rect x="621.22" y="223.10" width="11.18" height="12.80" fill="none" stroke="#d43a3a" stroke-width="0.85" rx="0" />
<rect x="617.33" y="239.70" width="15.07" height="13.60" fill="#b9dcc0" stroke="none" stroke-width="1" rx="0" />
<rect x="614.90" y="240.10" width="17.50" height="12.80" fill="none" stroke="#d43a3a" stroke-width="0.85" rx="0" />
<line x1="632.40" y1="186.30" x2="632.40" y2="258.70" stroke="#444" stroke-width="0.8" />
<path d="M599.69,190.22 C600.81,188.36 603.05,191.36 604.18,188.79" stroke="#1a1a1a" fill="none" stroke-width="0.6629999999999999" fill="none"/>
<text fill="#1a1a1a"><tspan x="597.69" y="199.50" font-size="10.2" font-style="italic">Z</tspan><tspan x="604.02" y="201.70" font-size="6.8">L</tspan></text>
<text x="607.8" y="215.30" font-size="1" text-anchor="end" fill="#2a2a2a" style="stroke:none"><tspan font-style="italic" font-size="10.2">σ</tspan><tspan font-size="6.2" dy="-3.4" font-style="italic">x</tspan><tspan font-size="6.2" dx="-3.0" dy="6.3">1</tspan><tspan dy="-2.9"> </tspan><tspan font-style="italic" font-size="10.2">σ</tspan><tspan font-size="6.2" dy="-3.4" font-style="italic">x</tspan><tspan font-size="6.2" dx="-3.0" dy="6.3">2</tspan><tspan dy="-2.9"> </tspan><tspan font-style="italic" font-size="10.2">σ</tspan><tspan font-size="6.2" dy="-3.4" font-style="italic">z</tspan><tspan font-size="6.2" dx="-3.0" dy="6.3">3</tspan><tspan dy="-2.9"> </tspan></text>
<text x="607.8" y="232.30" font-size="1" text-anchor="end" fill="#2a2a2a" style="stroke:none"><tspan font-style="italic" font-size="10.2">σ</tspan><tspan font-size="6.2" dy="-3.4" font-style="italic">x</tspan><tspan font-size="6.2" dx="-3.0" dy="6.3">1</tspan><tspan dy="-2.9"> </tspan><tspan font-style="italic" font-size="10.2">σ</tspan><tspan font-size="6.2" dy="-3.4" font-style="italic">z</tspan><tspan font-size="6.2" dx="-3.0" dy="6.3">3</tspan><tspan dy="-2.9"> </tspan></text>
<text x="607.8" y="249.30" font-size="1" text-anchor="end" fill="#2a2a2a" style="stroke:none"><tspan font-style="italic" font-size="10.2">σ</tspan><tspan font-size="6.2" dy="-3.4" font-style="italic">y</tspan><tspan font-size="6.2" dx="-3.0" dy="6.3">1</tspan><tspan dy="-2.9"> </tspan><tspan font-style="italic" font-size="10.2">σ</tspan><tspan font-size="6.2" dy="-3.4" font-style="italic">y</tspan><tspan font-size="6.2" dx="-3.0" dy="6.3">2</tspan><tspan dy="-2.9"> </tspan><tspan font-style="italic" font-size="10.2">σ</tspan><tspan font-size="6.2" dy="-3.4" font-style="italic">x</tspan><tspan font-size="6.2" dx="-3.0" dy="6.3">3</tspan><tspan dy="-2.9"> </tspan><tspan font-style="italic" font-size="10.2">σ</tspan><tspan font-size="6.2" dy="-3.4" font-style="italic">z</tspan><tspan font-size="6.2" dx="-3.0" dy="6.3">4</tspan><tspan dy="-2.9"> </tspan></text>
<text x="637.00" y="240.40" font-size="9" fill="#1a1a1a"><tspan font-style="italic">J</tspan><tspan font-size="5.8" dy="1.8" font-style="italic">o</tspan><tspan dy="-1.8" font-style="italic">/J</tspan><tspan font-size="5.8" dy="1.8" font-style="italic">e</tspan><tspan dy="-1.8"> = 1.5</tspan></text>
<line x1="610.40" y1="266.75" x2="610.40" y2="341.95" stroke="#858585" stroke-width="0.8" />
<line x1="610.40" y1="341.95" x2="682.50" y2="341.95" stroke="#858585" stroke-width="0.8" />
<line x1="681.00" y1="341.95" x2="681.00" y2="339.95" stroke="#858585" stroke-width="0.8" />
<rect x="632.40" y="271.95" width="43.25" height="13.60" fill="#1d4526" stroke="none" stroke-width="1" rx="0" />
<rect x="632.40" y="288.95" width="4.13" height="13.60" fill="#2f6e3e" stroke="none" stroke-width="1" rx="0" />
<rect x="632.40" y="289.35" width="7.05" height="12.80" fill="none" stroke="#333" stroke-width="0.85" rx="0" />
<rect x="632.40" y="305.95" width="20.90" height="13.60" fill="#6aa878" stroke="none" stroke-width="1" rx="0" />
<rect x="632.40" y="306.35" width="20.90" height="12.80" fill="none" stroke="#5a9868" stroke-width="0.85" rx="0" />
<rect x="632.40" y="322.95" width="8.75" height="13.60" fill="#b9dcc0" stroke="none" stroke-width="1" rx="0" />
<rect x="632.40" y="323.35" width="13.12" height="12.80" fill="none" stroke="#8a8a8a" stroke-width="0.85" rx="0" />
<line x1="632.40" y1="269.55" x2="632.40" y2="341.95" stroke="#444" stroke-width="0.8" />
<path d="M599.69,273.47 C600.81,271.61 603.05,274.61 604.18,272.04" stroke="#1a1a1a" fill="none" stroke-width="0.6629999999999999" fill="none"/>
<text fill="#1a1a1a"><tspan x="597.69" y="282.75" font-size="10.2" font-style="italic">Z</tspan><tspan x="604.02" y="284.95" font-size="6.8">L</tspan></text>
<text x="607.8" y="298.55" font-size="1" text-anchor="end" fill="#2a2a2a" style="stroke:none"><tspan font-style="italic" font-size="10.2">σ</tspan><tspan font-size="6.2" dy="-3.4" font-style="italic">x</tspan><tspan font-size="6.2" dx="-3.0" dy="6.3">1</tspan><tspan dy="-2.9"> </tspan><tspan font-style="italic" font-size="10.2">σ</tspan><tspan font-size="6.2" dy="-3.4" font-style="italic">x</tspan><tspan font-size="6.2" dx="-3.0" dy="6.3">2</tspan><tspan dy="-2.9"> </tspan><tspan font-style="italic" font-size="10.2">σ</tspan><tspan font-size="6.2" dy="-3.4" font-style="italic">z</tspan><tspan font-size="6.2" dx="-3.0" dy="6.3">3</tspan><tspan dy="-2.9"> </tspan></text>
<text x="607.8" y="315.55" font-size="1" text-anchor="end" fill="#2a2a2a" style="stroke:none"><tspan font-style="italic" font-size="10.2">σ</tspan><tspan font-size="6.2" dy="-3.4" font-style="italic">x</tspan><tspan font-size="6.2" dx="-3.0" dy="6.3">1</tspan><tspan dy="-2.9"> </tspan><tspan font-style="italic" font-size="10.2">σ</tspan><tspan font-size="6.2" dy="-3.4" font-style="italic">z</tspan><tspan font-size="6.2" dx="-3.0" dy="6.3">3</tspan><tspan dy="-2.9"> </tspan></text>
<text x="607.8" y="332.55" font-size="1" text-anchor="end" fill="#2a2a2a" style="stroke:none"><tspan font-style="italic" font-size="10.2">σ</tspan><tspan font-size="6.2" dy="-3.4" font-style="italic">y</tspan><tspan font-size="6.2" dx="-3.0" dy="6.3">1</tspan><tspan dy="-2.9"> </tspan><tspan font-style="italic" font-size="10.2">σ</tspan><tspan font-size="6.2" dy="-3.4" font-style="italic">y</tspan><tspan font-size="6.2" dx="-3.0" dy="6.3">2</tspan><tspan dy="-2.9"> </tspan><tspan font-style="italic" font-size="10.2">σ</tspan><tspan font-size="6.2" dy="-3.4" font-style="italic">x</tspan><tspan font-size="6.2" dx="-3.0" dy="6.3">3</tspan><tspan dy="-2.9"> </tspan><tspan font-style="italic" font-size="10.2">σ</tspan><tspan font-size="6.2" dy="-3.4" font-style="italic">z</tspan><tspan font-size="6.2" dx="-3.0" dy="6.3">4</tspan><tspan dy="-2.9"> </tspan></text>
<text x="642.00" y="299.35" font-size="9" fill="#1a1a1a"><tspan font-style="italic">J</tspan><tspan font-size="5.8" dy="1.8" font-style="italic">o</tspan><tspan dy="-1.8" font-style="italic">/J</tspan><tspan font-size="5.8" dy="1.8" font-style="italic">e</tspan><tspan dy="-1.8"> = 0.6</tspan></text>
<text x="632.40" y="354.40" font-size="9.4" text-anchor="middle" fill="#1a1a1a" >0</text>
<text x="681.00" y="354.40" font-size="9.4" text-anchor="middle" fill="#1a1a1a" >1</text>
<text x="647.20" y="366.20" font-size="9.1" text-anchor="middle" fill="#1a1a1a" >Coefficients</text>
</svg></body></html>
